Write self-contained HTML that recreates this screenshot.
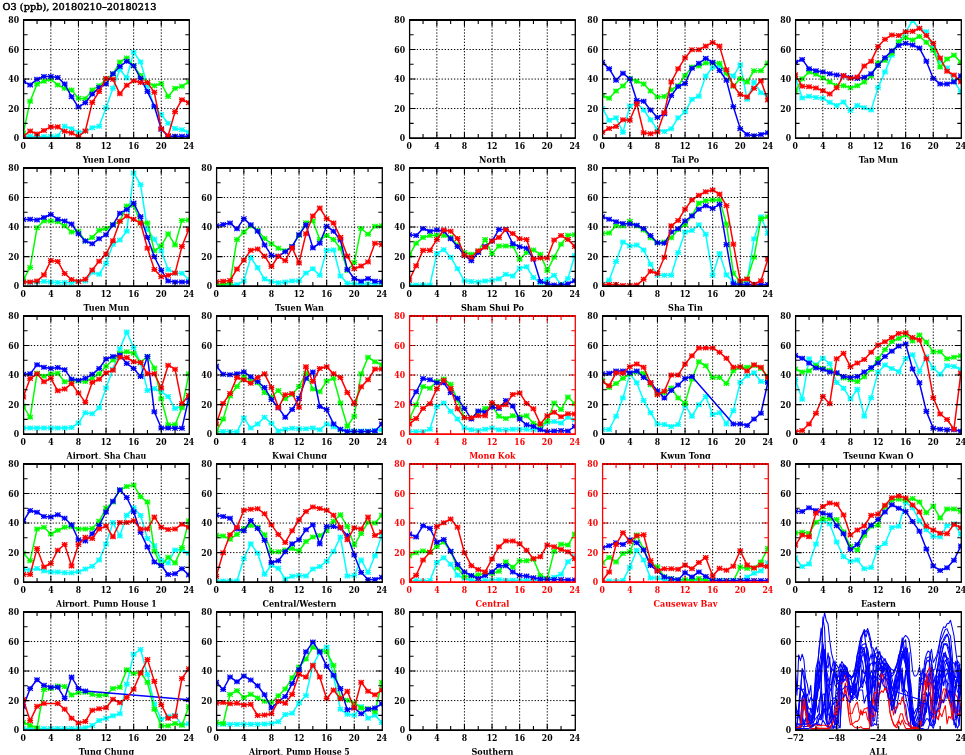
<!DOCTYPE html><html><head><meta charset="utf-8"><style>html,body{margin:0;padding:0;background:#fff;width:965px;height:755px;overflow:hidden}svg{display:block}text{font-family:"DejaVu Serif","Liberation Serif",serif;font-stretch:condensed;font-weight:bold}.t{font-size:8.6px}.n{font-size:9px}.ti{font-size:10px}</style></head><body>
<svg width="965" height="755" viewBox="0 0 965 755">
<text class="ti" x="2.6" y="10.4" textLength="153.8" lengthAdjust="spacingAndGlyphs" style="font-weight:normal" stroke="#000" stroke-width="0.45">O3 (ppb), 20180210&#8211;20180213</text>
<clipPath id="c00"><rect x="23.6" y="20" width="165.7" height="118.1"/></clipPath><clipPath id="l00"><rect x="3.6" y="150.1" width="205.7" height="12.7"/></clipPath><g clip-path="url(#c00)" fill="none"><path d="M23.25 136.33L30.15 136.33L37.05 136.62L43.95 136.62L50.85 136.62L57.75 135.89L64.65 126.29L71.55 128.65L78.45 132.19L85.35 131.31L92.25 127.77L99.15 126.29L106.05 107.69L112.95 88.35L119.85 69.6L126.75 78.02L133.65 52.18L140.55 61.93L147.45 85.69L154.35 107.1L161.25 114.48L168.15 123.34L175.05 128.5L181.95 129.69L188.85 132.19" stroke="#00ffff" stroke-width="1.5" stroke-linejoin="round"/><path d="M20.55 134.03L25.95 138.63M20.55 138.63L25.95 134.03M23.25 133.83V138.83M20.35 136.33H26.15M27.45 134.03L32.85 138.63M27.45 138.63L32.85 134.03M30.15 133.83V138.83M27.25 136.33H33.05M34.35 134.32L39.75 138.92M34.35 138.92L39.75 134.32M37.05 134.12V139.12M34.15 136.62H39.95M41.25 134.32L46.65 138.92M41.25 138.92L46.65 134.32M43.95 134.12V139.12M41.05 136.62H46.85M48.15 134.32L53.55 138.92M48.15 138.92L53.55 134.32M50.85 134.12V139.12M47.95 136.62H53.75M55.05 133.59L60.45 138.19M55.05 138.19L60.45 133.59M57.75 133.39V138.39M54.85 135.89H60.65M61.95 123.99L67.35 128.59M61.95 128.59L67.35 123.99M64.65 123.79V128.79M61.75 126.29H67.55M68.85 126.35L74.25 130.95M68.85 130.95L74.25 126.35M71.55 126.15V131.15M68.65 128.65H74.45M75.75 129.89L81.15 134.5M75.75 134.5L81.15 129.89M78.45 129.69V134.69M75.55 132.19H81.35M82.65 129.01L88.05 133.61M82.65 133.61L88.05 129.01M85.35 128.81V133.81M82.45 131.31H88.25M89.55 125.47L94.95 130.07M89.55 130.07L94.95 125.47M92.25 125.27V130.27M89.35 127.77H95.15M96.45 123.99L101.85 128.59M96.45 128.59L101.85 123.99M99.15 123.79V128.79M96.25 126.29H102.05M103.35 105.39L108.75 109.99M103.35 109.99L108.75 105.39M106.05 105.19V110.19M103.15 107.69H108.95M110.25 86.05L115.65 90.65M110.25 90.65L115.65 86.05M112.95 85.85V90.85M110.05 88.35H115.85M117.15 67.3L122.55 71.9M117.15 71.9L122.55 67.3M119.85 67.1V72.1M116.95 69.6H122.75M124.05 75.72L129.45 80.32M124.05 80.32L129.45 75.72M126.75 75.52V80.52M123.85 78.02H129.65M130.95 49.88L136.35 54.48M130.95 54.48L136.35 49.88M133.65 49.68V54.68M130.75 52.18H136.55M137.85 59.63L143.25 64.23M137.85 64.23L143.25 59.63M140.55 59.43V64.43M137.65 61.93H143.45M144.75 83.39L150.15 87.99M144.75 87.99L150.15 83.39M147.45 83.19V88.19M144.55 85.69H150.35M151.65 104.8L157.05 109.4M151.65 109.4L157.05 104.8M154.35 104.6V109.6M151.45 107.1H157.25M158.55 112.18L163.95 116.78M158.55 116.78L163.95 112.18M161.25 111.98V116.98M158.35 114.48H164.15M165.45 121.04L170.85 125.64M165.45 125.64L170.85 121.04M168.15 120.84V125.84M165.25 123.34H171.05M172.35 126.2L177.75 130.8M172.35 130.8L177.75 126.2M175.05 126V131M172.15 128.5H177.95M179.25 127.39L184.65 131.99M179.25 131.99L184.65 127.39M181.95 127.19V132.19M179.05 129.69H184.85M186.15 129.89L191.55 134.5M186.15 134.5L191.55 129.89M188.85 129.69V134.69M185.95 132.19H191.75" stroke="#00ffff" stroke-width="1.2"/><path d="M23.25 133.08L30.15 101.19L37.05 83.92L43.95 81.26L50.85 79.35L57.75 84.95L64.65 88.35L71.55 90.12L78.45 98.24L85.35 98.68L92.25 90.12L99.15 85.69L106.05 79.35L112.95 74.03L119.85 61.93L126.75 57.94L133.65 65.76L140.55 75.51L147.45 82.59L154.35 85.69L161.25 83.48L168.15 96.47L175.05 88.35L181.95 86.14L188.85 82" stroke="#00ff00" stroke-width="1.5" stroke-linejoin="round"/><path d="M20.55 130.78L25.95 135.38M20.55 135.38L25.95 130.78M23.25 130.58V135.58M20.35 133.08H26.15M27.45 98.89L32.85 103.49M27.45 103.49L32.85 98.89M30.15 98.69V103.69M27.25 101.19H33.05M34.35 81.62L39.75 86.22M34.35 86.22L39.75 81.62M37.05 81.42V86.42M34.15 83.92H39.95M41.25 78.96L46.65 83.56M41.25 83.56L46.65 78.96M43.95 78.76V83.76M41.05 81.26H46.85M48.15 77.05L53.55 81.65M48.15 81.65L53.55 77.05M50.85 76.85V81.85M47.95 79.35H53.75M55.05 82.66L60.45 87.25M55.05 87.25L60.45 82.66M57.75 82.45V87.45M54.85 84.95H60.65M61.95 86.05L67.35 90.65M61.95 90.65L67.35 86.05M64.65 85.85V90.85M61.75 88.35H67.55M68.85 87.82L74.25 92.42M68.85 92.42L74.25 87.82M71.55 87.62V92.62M68.65 90.12H74.45M75.75 95.94L81.15 100.54M75.75 100.54L81.15 95.94M78.45 95.74V100.74M75.55 98.24H81.35M82.65 96.38L88.05 100.98M82.65 100.98L88.05 96.38M85.35 96.18V101.18M82.45 98.68H88.25M89.55 87.82L94.95 92.42M89.55 92.42L94.95 87.82M92.25 87.62V92.62M89.35 90.12H95.15M96.45 83.39L101.85 87.99M96.45 87.99L101.85 83.39M99.15 83.19V88.19M96.25 85.69H102.05M103.35 77.05L108.75 81.65M103.35 81.65L108.75 77.05M106.05 76.85V81.85M103.15 79.35H108.95M110.25 71.73L115.65 76.33M110.25 76.33L115.65 71.73M112.95 71.53V76.53M110.05 74.03H115.85M117.15 59.63L122.55 64.23M117.15 64.23L122.55 59.63M119.85 59.43V64.43M116.95 61.93H122.75M124.05 55.64L129.45 60.24M124.05 60.24L129.45 55.64M126.75 55.44V60.44M123.85 57.94H129.65M130.95 63.46L136.35 68.06M130.95 68.06L136.35 63.46M133.65 63.26V68.26M130.75 65.76H136.55M137.85 73.21L143.25 77.81M137.85 77.81L143.25 73.21M140.55 73.01V78.01M137.65 75.51H143.45M144.75 80.29L150.15 84.89M144.75 84.89L150.15 80.29M147.45 80.09V85.09M144.55 82.59H150.35M151.65 83.39L157.05 87.99M151.65 87.99L157.05 83.39M154.35 83.19V88.19M151.45 85.69H157.25M158.55 81.18L163.95 85.78M158.55 85.78L163.95 81.18M161.25 80.98V85.98M158.35 83.48H164.15M165.45 94.17L170.85 98.77M165.45 98.77L170.85 94.17M168.15 93.97V98.97M165.25 96.47H171.05M172.35 86.05L177.75 90.65M172.35 90.65L177.75 86.05M175.05 85.85V90.85M172.15 88.35H177.95M179.25 83.84L184.65 88.44M179.25 88.44L184.65 83.84M181.95 83.64V88.64M179.05 86.14H184.85M186.15 79.7L191.55 84.3M186.15 84.3L191.55 79.7M188.85 79.5V84.5M185.95 82H191.75" stroke="#00ff00" stroke-width="1.2"/><path d="M23.25 81.56L30.15 84.95L37.05 79.35L43.95 76.39L50.85 76.39L57.75 77.57L64.65 83.92L71.55 96.77L78.45 107.1L85.35 102.67L92.25 94.11L99.15 87.46L106.05 83.92L112.95 73.74L119.85 66.5L126.75 61.33L133.65 65.76L140.55 78.46L147.45 91.6L154.35 106.21L161.25 129.24L168.15 136.33L175.05 136.33L181.95 136.33L188.85 136.33" stroke="#0000ff" stroke-width="1.5" stroke-linejoin="round"/><path d="M20.55 79.26L25.95 83.86M20.55 83.86L25.95 79.26M23.25 79.06V84.06M20.35 81.56H26.15M27.45 82.66L32.85 87.25M27.45 87.25L32.85 82.66M30.15 82.45V87.45M27.25 84.95H33.05M34.35 77.05L39.75 81.65M34.35 81.65L39.75 77.05M37.05 76.85V81.85M34.15 79.35H39.95M41.25 74.09L46.65 78.69M41.25 78.69L46.65 74.09M43.95 73.89V78.89M41.05 76.39H46.85M48.15 74.09L53.55 78.69M48.15 78.69L53.55 74.09M50.85 73.89V78.89M47.95 76.39H53.75M55.05 75.27L60.45 79.87M55.05 79.87L60.45 75.27M57.75 75.07V80.07M54.85 77.57H60.65M61.95 81.62L67.35 86.22M61.95 86.22L67.35 81.62M64.65 81.42V86.42M61.75 83.92H67.55M68.85 94.47L74.25 99.06M68.85 99.06L74.25 94.47M71.55 94.27V99.27M68.65 96.77H74.45M75.75 104.8L81.15 109.4M75.75 109.4L81.15 104.8M78.45 104.6V109.6M75.55 107.1H81.35M82.65 100.37L88.05 104.97M82.65 104.97L88.05 100.37M85.35 100.17V105.17M82.45 102.67H88.25M89.55 91.81L94.95 96.41M89.55 96.41L94.95 91.81M92.25 91.61V96.61M89.35 94.11H95.15M96.45 85.16L101.85 89.76M96.45 89.76L101.85 85.16M99.15 84.96V89.96M96.25 87.46H102.05M103.35 81.62L108.75 86.22M103.35 86.22L108.75 81.62M106.05 81.42V86.42M103.15 83.92H108.95M110.25 71.44L115.65 76.04M110.25 76.04L115.65 71.44M112.95 71.24V76.24M110.05 73.74H115.85M117.15 64.2L122.55 68.8M117.15 68.8L122.55 64.2M119.85 64V69M116.95 66.5H122.75M124.05 59.03L129.45 63.63M124.05 63.63L129.45 59.03M126.75 58.83V63.83M123.85 61.33H129.65M130.95 63.46L136.35 68.06M130.95 68.06L136.35 63.46M133.65 63.26V68.26M130.75 65.76H136.55M137.85 76.16L143.25 80.76M137.85 80.76L143.25 76.16M140.55 75.96V80.96M137.65 78.46H143.45M144.75 89.3L150.15 93.9M144.75 93.9L150.15 89.3M147.45 89.1V94.1M144.55 91.6H150.35M151.65 103.91L157.05 108.51M151.65 108.51L157.05 103.91M154.35 103.71V108.71M151.45 106.21H157.25M158.55 126.94L163.95 131.54M158.55 131.54L163.95 126.94M161.25 126.74V131.74M158.35 129.24H164.15M165.45 134.03L170.85 138.63M165.45 138.63L170.85 134.03M168.15 133.83V138.83M165.25 136.33H171.05M172.35 134.03L177.75 138.63M172.35 138.63L177.75 134.03M175.05 133.83V138.83M172.15 136.33H177.95M179.25 134.03L184.65 138.63M179.25 138.63L184.65 134.03M181.95 133.83V138.83M179.05 136.33H184.85M186.15 134.03L191.55 138.63M186.15 138.63L191.55 134.03M188.85 133.83V138.83M185.95 136.33H191.75" stroke="#0000ff" stroke-width="1.2"/><path d="M23.25 136.33L30.15 131.01L37.05 133.97L43.95 130.42L50.85 126.88L57.75 126.88L64.65 131.31L71.55 133.08L78.45 136.33L85.35 131.01L92.25 102.37L99.15 91.6L106.05 78.46L112.95 79.35L119.85 93.81L126.75 85.25L133.65 80.82L140.55 82.59L147.45 82.59L154.35 92.34L161.25 128.65L168.15 135.74L175.05 111.68L181.95 99.72L188.85 102.67" stroke="#ff0000" stroke-width="1.5" stroke-linejoin="round"/><path d="M20.55 134.03L25.95 138.63M20.55 138.63L25.95 134.03M23.25 133.83V138.83M20.35 136.33H26.15M27.45 128.71L32.85 133.31M27.45 133.31L32.85 128.71M30.15 128.51V133.51M27.25 131.01H33.05M34.35 131.67L39.75 136.27M34.35 136.27L39.75 131.67M37.05 131.47V136.47M34.15 133.97H39.95M41.25 128.12L46.65 132.72M41.25 132.72L46.65 128.12M43.95 127.92V132.92M41.05 130.42H46.85M48.15 124.58L53.55 129.18M48.15 129.18L53.55 124.58M50.85 124.38V129.38M47.95 126.88H53.75M55.05 124.58L60.45 129.18M55.05 129.18L60.45 124.58M57.75 124.38V129.38M54.85 126.88H60.65M61.95 129.01L67.35 133.61M61.95 133.61L67.35 129.01M64.65 128.81V133.81M61.75 131.31H67.55M68.85 130.78L74.25 135.38M68.85 135.38L74.25 130.78M71.55 130.58V135.58M68.65 133.08H74.45M75.75 134.03L81.15 138.63M75.75 138.63L81.15 134.03M78.45 133.83V138.83M75.55 136.33H81.35M82.65 128.71L88.05 133.31M82.65 133.31L88.05 128.71M85.35 128.51V133.51M82.45 131.01H88.25M89.55 100.07L94.95 104.67M89.55 104.67L94.95 100.07M92.25 99.87V104.87M89.35 102.37H95.15M96.45 89.3L101.85 93.9M96.45 93.9L101.85 89.3M99.15 89.1V94.1M96.25 91.6H102.05M103.35 76.16L108.75 80.76M103.35 80.76L108.75 76.16M106.05 75.96V80.96M103.15 78.46H108.95M110.25 77.05L115.65 81.65M110.25 81.65L115.65 77.05M112.95 76.85V81.85M110.05 79.35H115.85M117.15 91.51L122.55 96.11M117.15 96.11L122.55 91.51M119.85 91.31V96.31M116.95 93.81H122.75M124.05 82.95L129.45 87.55M124.05 87.55L129.45 82.95M126.75 82.75V87.75M123.85 85.25H129.65M130.95 78.52L136.35 83.12M130.95 83.12L136.35 78.52M133.65 78.32V83.32M130.75 80.82H136.55M137.85 80.29L143.25 84.89M137.85 84.89L143.25 80.29M140.55 80.09V85.09M137.65 82.59H143.45M144.75 80.29L150.15 84.89M144.75 84.89L150.15 80.29M147.45 80.09V85.09M144.55 82.59H150.35M151.65 90.04L157.05 94.64M151.65 94.64L157.05 90.04M154.35 89.84V94.84M151.45 92.34H157.25M158.55 126.35L163.95 130.95M158.55 130.95L163.95 126.35M161.25 126.15V131.15M158.35 128.65H164.15M165.45 133.44L170.85 138.04M165.45 138.04L170.85 133.44M168.15 133.24V138.24M165.25 135.74H171.05M172.35 109.38L177.75 113.98M172.35 113.98L177.75 109.38M175.05 109.18V114.18M172.15 111.68H177.95M179.25 97.42L184.65 102.02M179.25 102.02L184.65 97.42M181.95 97.22V102.22M179.05 99.72H184.85M186.15 100.37L191.55 104.97M186.15 104.97L191.55 100.37M188.85 100.17V105.17M185.95 102.67H191.75" stroke="#ff0000" stroke-width="1.2"/></g><path d="M23 20H189.9M23 138.1H189.9" stroke="#000" stroke-width="1.8" fill="none"/><path d="M23.6 20V138.1M189.3 20V138.1" stroke="#000" stroke-width="1.3" fill="none"/><path d="M50.85 20v6M50.85 138.1v-6M78.45 20v6M78.45 138.1v-6M106.05 20v6M106.05 138.1v-6M133.65 20v6M133.65 138.1v-6M161.25 20v6M161.25 138.1v-6M37.05 20v4M37.05 138.1v-4M64.65 20v4M64.65 138.1v-4M92.25 20v4M92.25 138.1v-4M119.85 20v4M119.85 138.1v-4M147.45 20v4M147.45 138.1v-4M175.05 20v4M175.05 138.1v-4M23.6 108.57h6M189.3 108.57h-6M23.6 79.05h6M189.3 79.05h-6M23.6 49.53h6M189.3 49.53h-6M23.6 123.34h4M189.3 123.34h-4M23.6 93.81h4M189.3 93.81h-4M23.6 64.29h4M189.3 64.29h-4M23.6 34.76h4M189.3 34.76h-4" stroke="#000" stroke-width="1.1" fill="none"/><path d="M50.85 20V137.1M78.45 20V137.1M106.05 20V137.1M133.65 20V137.1M161.25 20V137.1M24.6 20H188.3M24.6 108.57H188.3M24.6 79.05H188.3M24.6 49.53H188.3" stroke="#000" stroke-width="1" stroke-dasharray="1.3 1.8" fill="none"/><g class="t" fill="#000"><text x="23.25" y="148.8" text-anchor="middle">0</text><text x="50.85" y="148.8" text-anchor="middle">4</text><text x="78.45" y="148.8" text-anchor="middle">8</text><text x="106.05" y="148.8" text-anchor="middle">12</text><text x="133.65" y="148.8" text-anchor="middle">16</text><text x="161.25" y="148.8" text-anchor="middle">20</text><text x="188.85" y="148.8" text-anchor="middle">24</text><text x="19.1" y="141.4" text-anchor="end">0</text><text x="19.1" y="111.87" text-anchor="end">20</text><text x="19.1" y="82.35" text-anchor="end">40</text><text x="19.1" y="52.83" text-anchor="end">60</text><text x="19.1" y="23.3" text-anchor="end">80</text></g><text class="n" x="106.45" y="162.8" text-anchor="middle" fill="#000" clip-path="url(#l00)">Yuen Long</text>
<clipPath id="c02"><rect x="409.6" y="20" width="165.7" height="118.1"/></clipPath><clipPath id="l02"><rect x="389.6" y="150.1" width="205.7" height="12.7"/></clipPath><path d="M409 20H575.9M409 138.1H575.9" stroke="#000" stroke-width="1.8" fill="none"/><path d="M409.6 20V138.1M575.3 20V138.1" stroke="#000" stroke-width="1.3" fill="none"/><path d="M436.85 20v6M436.85 138.1v-6M464.45 20v6M464.45 138.1v-6M492.05 20v6M492.05 138.1v-6M519.65 20v6M519.65 138.1v-6M547.25 20v6M547.25 138.1v-6M423.05 20v4M423.05 138.1v-4M450.65 20v4M450.65 138.1v-4M478.25 20v4M478.25 138.1v-4M505.85 20v4M505.85 138.1v-4M533.45 20v4M533.45 138.1v-4M561.05 20v4M561.05 138.1v-4M409.6 108.57h6M575.3 108.57h-6M409.6 79.05h6M575.3 79.05h-6M409.6 49.53h6M575.3 49.53h-6M409.6 123.34h4M575.3 123.34h-4M409.6 93.81h4M575.3 93.81h-4M409.6 64.29h4M575.3 64.29h-4M409.6 34.76h4M575.3 34.76h-4" stroke="#000" stroke-width="1.1" fill="none"/><path d="M436.85 20V137.1M464.45 20V137.1M492.05 20V137.1M519.65 20V137.1M547.25 20V137.1M410.6 20H574.3M410.6 108.57H574.3M410.6 79.05H574.3M410.6 49.53H574.3" stroke="#000" stroke-width="1" stroke-dasharray="1.3 1.8" fill="none"/><g class="t" fill="#000"><text x="409.25" y="148.8" text-anchor="middle">0</text><text x="436.85" y="148.8" text-anchor="middle">4</text><text x="464.45" y="148.8" text-anchor="middle">8</text><text x="492.05" y="148.8" text-anchor="middle">12</text><text x="519.65" y="148.8" text-anchor="middle">16</text><text x="547.25" y="148.8" text-anchor="middle">20</text><text x="574.85" y="148.8" text-anchor="middle">24</text><text x="405.1" y="141.4" text-anchor="end">0</text><text x="405.1" y="111.87" text-anchor="end">20</text><text x="405.1" y="82.35" text-anchor="end">40</text><text x="405.1" y="52.83" text-anchor="end">60</text><text x="405.1" y="23.3" text-anchor="end">80</text></g><text class="n" x="492.45" y="162.8" text-anchor="middle" fill="#000" clip-path="url(#l02)">North</text>
<clipPath id="c03"><rect x="602.6" y="20" width="165.7" height="118.1"/></clipPath><clipPath id="l03"><rect x="582.6" y="150.1" width="205.7" height="12.7"/></clipPath><g clip-path="url(#c03)" fill="none"><path d="M602.25 108.43L609.15 120.24L616.05 117.73L622.95 132.34L629.85 105.92L636.75 102.82L643.65 110.05L650.55 119.79L657.45 129.69L664.35 131.46L671.25 128.65L678.15 117.73L685.05 111.82L691.95 99.27L698.85 96.17L705.75 76.1L712.65 67.24L719.55 66.06L726.45 72.26L733.35 76.1L740.25 64.88L747.15 99.13L754.05 82.15L760.95 92.78L767.85 96.47" stroke="#00ffff" stroke-width="1.5" stroke-linejoin="round"/><path d="M599.55 106.13L604.95 110.73M599.55 110.73L604.95 106.13M602.25 105.93V110.93M599.35 108.43H605.15M606.45 117.94L611.85 122.54M606.45 122.54L611.85 117.94M609.15 117.74V122.74M606.25 120.24H612.05M613.35 115.43L618.75 120.03M613.35 120.03L618.75 115.43M616.05 115.23V120.23M613.15 117.73H618.95M620.25 130.04L625.65 134.64M620.25 134.64L625.65 130.04M622.95 129.84V134.84M620.05 132.34H625.85M627.15 103.62L632.55 108.22M627.15 108.22L632.55 103.62M629.85 103.42V108.42M626.95 105.92H632.75M634.05 100.52L639.45 105.12M634.05 105.12L639.45 100.52M636.75 100.32V105.32M633.85 102.82H639.65M640.95 107.75L646.35 112.35M640.95 112.35L646.35 107.75M643.65 107.55V112.55M640.75 110.05H646.55M647.85 117.49L653.25 122.09M647.85 122.09L653.25 117.49M650.55 117.29V122.29M647.65 119.79H653.45M654.75 127.39L660.15 131.99M654.75 131.99L660.15 127.39M657.45 127.19V132.19M654.55 129.69H660.35M661.65 129.16L667.05 133.76M661.65 133.76L667.05 129.16M664.35 128.96V133.96M661.45 131.46H667.25M668.55 126.35L673.95 130.95M668.55 130.95L673.95 126.35M671.25 126.15V131.15M668.35 128.65H674.15M675.45 115.43L680.85 120.03M675.45 120.03L680.85 115.43M678.15 115.23V120.23M675.25 117.73H681.05M682.35 109.52L687.75 114.12M682.35 114.12L687.75 109.52M685.05 109.32V114.32M682.15 111.82H687.95M689.25 96.97L694.65 101.57M689.25 101.57L694.65 96.97M691.95 96.77V101.77M689.05 99.27H694.85M696.15 93.87L701.55 98.47M696.15 98.47L701.55 93.87M698.85 93.67V98.67M695.95 96.17H701.75M703.05 73.8L708.45 78.4M703.05 78.4L708.45 73.8M705.75 73.6V78.6M702.85 76.1H708.65M709.95 64.94L715.35 69.54M709.95 69.54L715.35 64.94M712.65 64.74V69.74M709.75 67.24H715.55M716.85 63.76L722.25 68.36M716.85 68.36L722.25 63.76M719.55 63.56V68.56M716.65 66.06H722.45M723.75 69.96L729.15 74.56M723.75 74.56L729.15 69.96M726.45 69.76V74.76M723.55 72.26H729.35M730.65 73.8L736.05 78.4M730.65 78.4L736.05 73.8M733.35 73.6V78.6M730.45 76.1H736.25M737.55 62.58L742.95 67.18M737.55 67.18L742.95 62.58M740.25 62.38V67.38M737.35 64.88H743.15M744.45 96.83L749.85 101.43M744.45 101.43L749.85 96.83M747.15 96.63V101.63M744.25 99.13H750.05M751.35 79.85L756.75 84.45M751.35 84.45L756.75 79.85M754.05 79.65V84.65M751.15 82.15H756.95M758.25 90.48L763.65 95.08M758.25 95.08L763.65 90.48M760.95 90.28V95.28M758.05 92.78H763.85M765.15 94.17L770.55 98.77M765.15 98.77L770.55 94.17M767.85 93.97V98.97M764.95 96.47H770.75" stroke="#00ffff" stroke-width="1.2"/><path d="M602.25 95.73L609.15 98.24L616.05 91.01L622.95 85.99L629.85 78.46L636.75 81.26L643.65 83.92L650.55 91.01L657.45 96.91L664.35 96.47L671.25 89.83L678.15 85.69L685.05 75.8L691.95 66.94L698.85 66.06L705.75 62.96L712.65 62.96L719.55 63.25L726.45 73.29L733.35 86.14L740.25 78.75L747.15 82L754.05 70.64L760.95 70.64L767.85 62.96" stroke="#00ff00" stroke-width="1.5" stroke-linejoin="round"/><path d="M599.55 93.43L604.95 98.03M599.55 98.03L604.95 93.43M602.25 93.23V98.23M599.35 95.73H605.15M606.45 95.94L611.85 100.54M606.45 100.54L611.85 95.94M609.15 95.74V100.74M606.25 98.24H612.05M613.35 88.71L618.75 93.31M613.35 93.31L618.75 88.71M616.05 88.51V93.51M613.15 91.01H618.95M620.25 83.69L625.65 88.29M620.25 88.29L625.65 83.69M622.95 83.49V88.49M620.05 85.99H625.85M627.15 76.16L632.55 80.76M627.15 80.76L632.55 76.16M629.85 75.96V80.96M626.95 78.46H632.75M634.05 78.96L639.45 83.56M634.05 83.56L639.45 78.96M636.75 78.76V83.76M633.85 81.26H639.65M640.95 81.62L646.35 86.22M640.95 86.22L646.35 81.62M643.65 81.42V86.42M640.75 83.92H646.55M647.85 88.71L653.25 93.31M647.85 93.31L653.25 88.71M650.55 88.51V93.51M647.65 91.01H653.45M654.75 94.61L660.15 99.21M654.75 99.21L660.15 94.61M657.45 94.41V99.41M654.55 96.91H660.35M661.65 94.17L667.05 98.77M661.65 98.77L667.05 94.17M664.35 93.97V98.97M661.45 96.47H667.25M668.55 87.53L673.95 92.13M668.55 92.13L673.95 87.53M671.25 87.33V92.33M668.35 89.83H674.15M675.45 83.39L680.85 87.99M675.45 87.99L680.85 83.39M678.15 83.19V88.19M675.25 85.69H681.05M682.35 73.5L687.75 78.1M682.35 78.1L687.75 73.5M685.05 73.3V78.3M682.15 75.8H687.95M689.25 64.64L694.65 69.24M689.25 69.24L694.65 64.64M691.95 64.44V69.44M689.05 66.94H694.85M696.15 63.76L701.55 68.36M696.15 68.36L701.55 63.76M698.85 63.56V68.56M695.95 66.06H701.75M703.05 60.66L708.45 65.26M703.05 65.26L708.45 60.66M705.75 60.46V65.46M702.85 62.96H708.65M709.95 60.66L715.35 65.26M709.95 65.26L715.35 60.66M712.65 60.46V65.46M709.75 62.96H715.55M716.85 60.95L722.25 65.55M716.85 65.55L722.25 60.95M719.55 60.75V65.75M716.65 63.25H722.45M723.75 70.99L729.15 75.59M723.75 75.59L729.15 70.99M726.45 70.79V75.79M723.55 73.29H729.35M730.65 83.84L736.05 88.44M730.65 88.44L736.05 83.84M733.35 83.64V88.64M730.45 86.14H736.25M737.55 76.45L742.95 81.05M737.55 81.05L742.95 76.45M740.25 76.25V81.25M737.35 78.75H743.15M744.45 79.7L749.85 84.3M744.45 84.3L749.85 79.7M747.15 79.5V84.5M744.25 82H750.05M751.35 68.34L756.75 72.94M751.35 72.94L756.75 68.34M754.05 68.14V73.14M751.15 70.64H756.95M758.25 68.34L763.65 72.94M758.25 72.94L763.65 68.34M760.95 68.14V73.14M758.05 70.64H763.85M765.15 60.66L770.55 65.26M765.15 65.26L770.55 60.66M767.85 60.46V65.46M764.95 62.96H770.75" stroke="#00ff00" stroke-width="1.2"/><path d="M602.25 62.37L609.15 68.72L616.05 80.23L622.95 73.14L629.85 79.05L636.75 100.46L643.65 101.19L650.55 110.05L657.45 117.43L664.35 113.74L671.25 95.58L678.15 86.43L685.05 83.48L691.95 68.27L698.85 63.25L705.75 58.38L712.65 62.37L719.55 70.49L726.45 80.23L733.35 106.66L740.25 128.65L747.15 134.56L754.05 135.74L760.95 134.56L767.85 132.79" stroke="#0000ff" stroke-width="1.5" stroke-linejoin="round"/><path d="M599.55 60.07L604.95 64.67M599.55 64.67L604.95 60.07M602.25 59.87V64.87M599.35 62.37H605.15M606.45 66.42L611.85 71.02M606.45 71.02L611.85 66.42M609.15 66.22V71.22M606.25 68.72H612.05M613.35 77.93L618.75 82.53M613.35 82.53L618.75 77.93M616.05 77.73V82.73M613.15 80.23H618.95M620.25 70.84L625.65 75.44M620.25 75.44L625.65 70.84M622.95 70.64V75.64M620.05 73.14H625.85M627.15 76.75L632.55 81.35M627.15 81.35L632.55 76.75M629.85 76.55V81.55M626.95 79.05H632.75M634.05 98.16L639.45 102.76M634.05 102.76L639.45 98.16M636.75 97.96V102.96M633.85 100.46H639.65M640.95 98.89L646.35 103.49M640.95 103.49L646.35 98.89M643.65 98.69V103.69M640.75 101.19H646.55M647.85 107.75L653.25 112.35M647.85 112.35L653.25 107.75M650.55 107.55V112.55M647.65 110.05H653.45M654.75 115.13L660.15 119.73M654.75 119.73L660.15 115.13M657.45 114.93V119.93M654.55 117.43H660.35M661.65 111.44L667.05 116.04M661.65 116.04L667.05 111.44M664.35 111.24V116.24M661.45 113.74H667.25M668.55 93.28L673.95 97.88M668.55 97.88L673.95 93.28M671.25 93.08V98.08M668.35 95.58H674.15M675.45 84.13L680.85 88.73M675.45 88.73L680.85 84.13M678.15 83.93V88.93M675.25 86.43H681.05M682.35 81.18L687.75 85.78M682.35 85.78L687.75 81.18M685.05 80.98V85.98M682.15 83.48H687.95M689.25 65.97L694.65 70.57M689.25 70.57L694.65 65.97M691.95 65.77V70.77M689.05 68.27H694.85M696.15 60.95L701.55 65.55M696.15 65.55L701.55 60.95M698.85 60.75V65.75M695.95 63.25H701.75M703.05 56.08L708.45 60.68M703.05 60.68L708.45 56.08M705.75 55.88V60.88M702.85 58.38H708.65M709.95 60.07L715.35 64.67M709.95 64.67L715.35 60.07M712.65 59.87V64.87M709.75 62.37H715.55M716.85 68.19L722.25 72.79M716.85 72.79L722.25 68.19M719.55 67.99V72.99M716.65 70.49H722.45M723.75 77.93L729.15 82.53M723.75 82.53L729.15 77.93M726.45 77.73V82.73M723.55 80.23H729.35M730.65 104.36L736.05 108.96M730.65 108.96L736.05 104.36M733.35 104.16V109.16M730.45 106.66H736.25M737.55 126.35L742.95 130.95M737.55 130.95L742.95 126.35M740.25 126.15V131.15M737.35 128.65H743.15M744.45 132.26L749.85 136.86M744.45 136.86L749.85 132.26M747.15 132.06V137.06M744.25 134.56H750.05M751.35 133.44L756.75 138.04M751.35 138.04L756.75 133.44M754.05 133.24V138.24M751.15 135.74H756.95M758.25 132.26L763.65 136.86M758.25 136.86L763.65 132.26M760.95 132.06V137.06M758.05 134.56H763.85M765.15 130.49L770.55 135.09M765.15 135.09L770.55 130.49M767.85 130.29V135.29M764.95 132.79H770.75" stroke="#0000ff" stroke-width="1.2"/><path d="M602.25 132.34L609.15 128.5L616.05 126.59L622.95 119.79L629.85 120.24L636.75 103.7L643.65 132.79L650.55 133.82L657.45 132.05L664.35 112.41L671.25 82L678.15 68.86L685.05 57.79L691.95 49.67L698.85 49.67L705.75 46.13L712.65 42.59L719.55 46.13L726.45 69.75L733.35 85.84L740.25 94.55L747.15 96.91L754.05 88.35L760.95 80.82L767.85 100.01" stroke="#ff0000" stroke-width="1.5" stroke-linejoin="round"/><path d="M599.55 130.04L604.95 134.64M599.55 134.64L604.95 130.04M602.25 129.84V134.84M599.35 132.34H605.15M606.45 126.2L611.85 130.8M606.45 130.8L611.85 126.2M609.15 126V131M606.25 128.5H612.05M613.35 124.29L618.75 128.89M613.35 128.89L618.75 124.29M616.05 124.09V129.09M613.15 126.59H618.95M620.25 117.49L625.65 122.09M620.25 122.09L625.65 117.49M622.95 117.29V122.29M620.05 119.79H625.85M627.15 117.94L632.55 122.54M627.15 122.54L632.55 117.94M629.85 117.74V122.74M626.95 120.24H632.75M634.05 101.4L639.45 106M634.05 106L639.45 101.4M636.75 101.2V106.2M633.85 103.7H639.65M640.95 130.49L646.35 135.09M640.95 135.09L646.35 130.49M643.65 130.29V135.29M640.75 132.79H646.55M647.85 131.52L653.25 136.12M647.85 136.12L653.25 131.52M650.55 131.32V136.32M647.65 133.82H653.45M654.75 129.75L660.15 134.35M654.75 134.35L660.15 129.75M657.45 129.55V134.55M654.55 132.05H660.35M661.65 110.11L667.05 114.71M661.65 114.71L667.05 110.11M664.35 109.91V114.91M661.45 112.41H667.25M668.55 79.7L673.95 84.3M668.55 84.3L673.95 79.7M671.25 79.5V84.5M668.35 82H674.15M675.45 66.56L680.85 71.16M675.45 71.16L680.85 66.56M678.15 66.36V71.36M675.25 68.86H681.05M682.35 55.49L687.75 60.09M682.35 60.09L687.75 55.49M685.05 55.29V60.29M682.15 57.79H687.95M689.25 47.37L694.65 51.97M689.25 51.97L694.65 47.37M691.95 47.17V52.17M689.05 49.67H694.85M696.15 47.37L701.55 51.97M696.15 51.97L701.55 47.37M698.85 47.17V52.17M695.95 49.67H701.75M703.05 43.83L708.45 48.43M703.05 48.43L708.45 43.83M705.75 43.63V48.63M702.85 46.13H708.65M709.95 40.29L715.35 44.89M709.95 44.89L715.35 40.29M712.65 40.09V45.09M709.75 42.59H715.55M716.85 43.83L722.25 48.43M716.85 48.43L722.25 43.83M719.55 43.63V48.63M716.65 46.13H722.45M723.75 67.45L729.15 72.05M723.75 72.05L729.15 67.45M726.45 67.25V72.25M723.55 69.75H729.35M730.65 83.54L736.05 88.14M730.65 88.14L736.05 83.54M733.35 83.34V88.34M730.45 85.84H736.25M737.55 92.25L742.95 96.85M737.55 96.85L742.95 92.25M740.25 92.05V97.05M737.35 94.55H743.15M744.45 94.61L749.85 99.21M744.45 99.21L749.85 94.61M747.15 94.41V99.41M744.25 96.91H750.05M751.35 86.05L756.75 90.65M751.35 90.65L756.75 86.05M754.05 85.85V90.85M751.15 88.35H756.95M758.25 78.52L763.65 83.12M758.25 83.12L763.65 78.52M760.95 78.32V83.32M758.05 80.82H763.85M765.15 97.71L770.55 102.31M765.15 102.31L770.55 97.71M767.85 97.51V102.51M764.95 100.01H770.75" stroke="#ff0000" stroke-width="1.2"/></g><path d="M602 20H768.9M602 138.1H768.9" stroke="#000" stroke-width="1.8" fill="none"/><path d="M602.6 20V138.1M768.3 20V138.1" stroke="#000" stroke-width="1.3" fill="none"/><path d="M629.85 20v6M629.85 138.1v-6M657.45 20v6M657.45 138.1v-6M685.05 20v6M685.05 138.1v-6M712.65 20v6M712.65 138.1v-6M740.25 20v6M740.25 138.1v-6M616.05 20v4M616.05 138.1v-4M643.65 20v4M643.65 138.1v-4M671.25 20v4M671.25 138.1v-4M698.85 20v4M698.85 138.1v-4M726.45 20v4M726.45 138.1v-4M754.05 20v4M754.05 138.1v-4M602.6 108.57h6M768.3 108.57h-6M602.6 79.05h6M768.3 79.05h-6M602.6 49.53h6M768.3 49.53h-6M602.6 123.34h4M768.3 123.34h-4M602.6 93.81h4M768.3 93.81h-4M602.6 64.29h4M768.3 64.29h-4M602.6 34.76h4M768.3 34.76h-4" stroke="#000" stroke-width="1.1" fill="none"/><path d="M629.85 20V137.1M657.45 20V137.1M685.05 20V137.1M712.65 20V137.1M740.25 20V137.1M603.6 20H767.3M603.6 108.57H767.3M603.6 79.05H767.3M603.6 49.53H767.3" stroke="#000" stroke-width="1" stroke-dasharray="1.3 1.8" fill="none"/><g class="t" fill="#000"><text x="602.25" y="148.8" text-anchor="middle">0</text><text x="629.85" y="148.8" text-anchor="middle">4</text><text x="657.45" y="148.8" text-anchor="middle">8</text><text x="685.05" y="148.8" text-anchor="middle">12</text><text x="712.65" y="148.8" text-anchor="middle">16</text><text x="740.25" y="148.8" text-anchor="middle">20</text><text x="767.85" y="148.8" text-anchor="middle">24</text><text x="598.1" y="141.4" text-anchor="end">0</text><text x="598.1" y="111.87" text-anchor="end">20</text><text x="598.1" y="82.35" text-anchor="end">40</text><text x="598.1" y="52.83" text-anchor="end">60</text><text x="598.1" y="23.3" text-anchor="end">80</text></g><text class="n" x="685.45" y="162.8" text-anchor="middle" fill="#000" clip-path="url(#l03)">Tai Po</text>
<clipPath id="c04"><rect x="795.6" y="20" width="165.7" height="118.1"/></clipPath><clipPath id="l04"><rect x="775.6" y="150.1" width="205.7" height="12.7"/></clipPath><g clip-path="url(#c04)" fill="none"><path d="M795.25 76.54L802.15 97.95L809.05 96.17L815.95 97.5L822.85 98.24L829.75 102.37L836.65 105.47L843.55 101.93L850.45 110.49L857.35 105.47L864.25 107.69L871.15 109.9L878.05 87.61L884.95 71.96L891.85 55.13L898.75 42L905.65 32.11L912.55 20.59L919.45 28.56L926.35 31.81L933.25 48.34L940.15 61.19L947.05 67.98L953.95 81.41L960.85 91.6" stroke="#00ffff" stroke-width="1.5" stroke-linejoin="round"/><path d="M792.55 74.24L797.95 78.84M792.55 78.84L797.95 74.24M795.25 74.04V79.04M792.35 76.54H798.15M799.45 95.65L804.85 100.25M799.45 100.25L804.85 95.65M802.15 95.45V100.45M799.25 97.95H805.05M806.35 93.87L811.75 98.47M806.35 98.47L811.75 93.87M809.05 93.67V98.67M806.15 96.17H811.95M813.25 95.2L818.65 99.8M813.25 99.8L818.65 95.2M815.95 95V100M813.05 97.5H818.85M820.15 95.94L825.55 100.54M820.15 100.54L825.55 95.94M822.85 95.74V100.74M819.95 98.24H825.75M827.05 100.07L832.45 104.67M827.05 104.67L832.45 100.07M829.75 99.87V104.87M826.85 102.37H832.65M833.95 103.17L839.35 107.77M833.95 107.77L839.35 103.17M836.65 102.97V107.97M833.75 105.47H839.55M840.85 99.63L846.25 104.23M840.85 104.23L846.25 99.63M843.55 99.43V104.43M840.65 101.93H846.45M847.75 108.19L853.15 112.79M847.75 112.79L853.15 108.19M850.45 107.99V112.99M847.55 110.49H853.35M854.65 103.17L860.05 107.77M854.65 107.77L860.05 103.17M857.35 102.97V107.97M854.45 105.47H860.25M861.55 105.39L866.95 109.99M861.55 109.99L866.95 105.39M864.25 105.19V110.19M861.35 107.69H867.15M868.45 107.6L873.85 112.2M868.45 112.2L873.85 107.6M871.15 107.4V112.4M868.25 109.9H874.05M875.35 85.31L880.75 89.91M875.35 89.91L880.75 85.31M878.05 85.11V90.11M875.15 87.61H880.95M882.25 69.66L887.65 74.26M882.25 74.26L887.65 69.66M884.95 69.46V74.46M882.05 71.96H887.85M889.15 52.83L894.55 57.43M889.15 57.43L894.55 52.83M891.85 52.63V57.63M888.95 55.13H894.75M896.05 39.7L901.45 44.3M896.05 44.3L901.45 39.7M898.75 39.5V44.5M895.85 42H901.65M902.95 29.81L908.35 34.41M902.95 34.41L908.35 29.81M905.65 29.61V34.61M902.75 32.11H908.55M909.85 18.29L915.25 22.89M909.85 22.89L915.25 18.29M912.55 18.09V23.09M909.65 20.59H915.45M916.75 26.26L922.15 30.86M916.75 30.86L922.15 26.26M919.45 26.06V31.06M916.55 28.56H922.35M923.65 29.51L929.05 34.11M923.65 34.11L929.05 29.51M926.35 29.31V34.31M923.45 31.81H929.25M930.55 46.04L935.95 50.64M930.55 50.64L935.95 46.04M933.25 45.84V50.84M930.35 48.34H936.15M937.45 58.89L942.85 63.49M937.45 63.49L942.85 58.89M940.15 58.69V63.69M937.25 61.19H943.05M944.35 65.68L949.75 70.28M944.35 70.28L949.75 65.68M947.05 65.48V70.48M944.15 67.98H949.95M951.25 79.11L956.65 83.71M951.25 83.71L956.65 79.11M953.95 78.91V83.91M951.05 81.41H956.85M958.15 89.3L963.55 93.9M958.15 93.9L963.55 89.3M960.85 89.1V94.1M957.95 91.6H963.75" stroke="#00ffff" stroke-width="1.2"/><path d="M795.25 91.6L802.15 78.75L809.05 71.96L815.95 74.18L822.85 77.87L829.75 82L836.65 85.55L843.55 85.84L850.45 87.76L857.35 85.84L864.25 82L871.15 76.1L878.05 62.66L884.95 60.45L891.85 53.22L898.75 41.85L905.65 37.57L912.55 40.08L919.45 36.53L926.35 42.14L933.25 50.12L940.15 67.09L947.05 58.97L953.95 55.13L960.85 62.37" stroke="#00ff00" stroke-width="1.5" stroke-linejoin="round"/><path d="M792.55 89.3L797.95 93.9M792.55 93.9L797.95 89.3M795.25 89.1V94.1M792.35 91.6H798.15M799.45 76.45L804.85 81.05M799.45 81.05L804.85 76.45M802.15 76.25V81.25M799.25 78.75H805.05M806.35 69.66L811.75 74.26M806.35 74.26L811.75 69.66M809.05 69.46V74.46M806.15 71.96H811.95M813.25 71.88L818.65 76.48M813.25 76.48L818.65 71.88M815.95 71.68V76.68M813.05 74.18H818.85M820.15 75.57L825.55 80.17M820.15 80.17L825.55 75.57M822.85 75.37V80.37M819.95 77.87H825.75M827.05 79.7L832.45 84.3M827.05 84.3L832.45 79.7M829.75 79.5V84.5M826.85 82H832.65M833.95 83.25L839.35 87.85M833.95 87.85L839.35 83.25M836.65 83.05V88.05M833.75 85.55H839.55M840.85 83.54L846.25 88.14M840.85 88.14L846.25 83.54M843.55 83.34V88.34M840.65 85.84H846.45M847.75 85.46L853.15 90.06M847.75 90.06L853.15 85.46M850.45 85.26V90.26M847.55 87.76H853.35M854.65 83.54L860.05 88.14M854.65 88.14L860.05 83.54M857.35 83.34V88.34M854.45 85.84H860.25M861.55 79.7L866.95 84.3M861.55 84.3L866.95 79.7M864.25 79.5V84.5M861.35 82H867.15M868.45 73.8L873.85 78.4M868.45 78.4L873.85 73.8M871.15 73.6V78.6M868.25 76.1H874.05M875.35 60.36L880.75 64.96M875.35 64.96L880.75 60.36M878.05 60.16V65.16M875.15 62.66H880.95M882.25 58.15L887.65 62.75M882.25 62.75L887.65 58.15M884.95 57.95V62.95M882.05 60.45H887.85M889.15 50.92L894.55 55.52M889.15 55.52L894.55 50.92M891.85 50.72V55.72M888.95 53.22H894.75M896.05 39.55L901.45 44.15M896.05 44.15L901.45 39.55M898.75 39.35V44.35M895.85 41.85H901.65M902.95 35.27L908.35 39.87M902.95 39.87L908.35 35.27M905.65 35.07V40.07M902.75 37.57H908.55M909.85 37.78L915.25 42.38M909.85 42.38L915.25 37.78M912.55 37.58V42.58M909.65 40.08H915.45M916.75 34.23L922.15 38.83M916.75 38.83L922.15 34.23M919.45 34.03V39.03M916.55 36.53H922.35M923.65 39.84L929.05 44.44M923.65 44.44L929.05 39.84M926.35 39.64V44.64M923.45 42.14H929.25M930.55 47.82L935.95 52.42M930.55 52.42L935.95 47.82M933.25 47.62V52.62M930.35 50.12H936.15M937.45 64.79L942.85 69.39M937.45 69.39L942.85 64.79M940.15 64.59V69.59M937.25 67.09H943.05M944.35 56.67L949.75 61.27M944.35 61.27L949.75 56.67M947.05 56.47V61.47M944.15 58.97H949.95M951.25 52.83L956.65 57.43M951.25 57.43L956.65 52.83M953.95 52.63V57.63M951.05 55.13H956.85M958.15 60.07L963.55 64.67M958.15 64.67L963.55 60.07M960.85 59.87V64.87M957.95 62.37H963.75" stroke="#00ff00" stroke-width="1.2"/><path d="M795.25 62.37L802.15 59.42L809.05 68.72L815.95 70.78L822.85 71.96L829.75 73.74L836.65 74.92L843.55 75.8L850.45 77.57L857.35 78.46L864.25 77.28L871.15 73.74L878.05 65.47L884.95 57.64L891.85 50.85L898.75 45.39L905.65 43.32L912.55 45.1L919.45 48.05L926.35 61.19L933.25 78.46L940.15 83.92L947.05 83.92L953.95 82L960.85 75.8" stroke="#0000ff" stroke-width="1.5" stroke-linejoin="round"/><path d="M792.55 60.07L797.95 64.67M792.55 64.67L797.95 60.07M795.25 59.87V64.87M792.35 62.37H798.15M799.45 57.12L804.85 61.72M799.45 61.72L804.85 57.12M802.15 56.92V61.92M799.25 59.42H805.05M806.35 66.42L811.75 71.02M806.35 71.02L811.75 66.42M809.05 66.22V71.22M806.15 68.72H811.95M813.25 68.48L818.65 73.08M813.25 73.08L818.65 68.48M815.95 68.28V73.28M813.05 70.78H818.85M820.15 69.66L825.55 74.26M820.15 74.26L825.55 69.66M822.85 69.46V74.46M819.95 71.96H825.75M827.05 71.44L832.45 76.04M827.05 76.04L832.45 71.44M829.75 71.24V76.24M826.85 73.74H832.65M833.95 72.62L839.35 77.22M833.95 77.22L839.35 72.62M836.65 72.42V77.42M833.75 74.92H839.55M840.85 73.5L846.25 78.1M840.85 78.1L846.25 73.5M843.55 73.3V78.3M840.65 75.8H846.45M847.75 75.27L853.15 79.87M847.75 79.87L853.15 75.27M850.45 75.07V80.07M847.55 77.57H853.35M854.65 76.16L860.05 80.76M854.65 80.76L860.05 76.16M857.35 75.96V80.96M854.45 78.46H860.25M861.55 74.98L866.95 79.58M861.55 79.58L866.95 74.98M864.25 74.78V79.78M861.35 77.28H867.15M868.45 71.44L873.85 76.04M868.45 76.04L873.85 71.44M871.15 71.24V76.24M868.25 73.74H874.05M875.35 63.17L880.75 67.77M875.35 67.77L880.75 63.17M878.05 62.97V67.97M875.15 65.47H880.95M882.25 55.34L887.65 59.94M882.25 59.94L887.65 55.34M884.95 55.14V60.14M882.05 57.64H887.85M889.15 48.55L894.55 53.15M889.15 53.15L894.55 48.55M891.85 48.35V53.35M888.95 50.85H894.75M896.05 43.09L901.45 47.69M896.05 47.69L901.45 43.09M898.75 42.89V47.89M895.85 45.39H901.65M902.95 41.02L908.35 45.62M902.95 45.62L908.35 41.02M905.65 40.82V45.82M902.75 43.32H908.55M909.85 42.8L915.25 47.4M909.85 47.4L915.25 42.8M912.55 42.6V47.6M909.65 45.1H915.45M916.75 45.75L922.15 50.35M916.75 50.35L922.15 45.75M919.45 45.55V50.55M916.55 48.05H922.35M923.65 58.89L929.05 63.49M923.65 63.49L929.05 58.89M926.35 58.69V63.69M923.45 61.19H929.25M930.55 76.16L935.95 80.76M930.55 80.76L935.95 76.16M933.25 75.96V80.96M930.35 78.46H936.15M937.45 81.62L942.85 86.22M937.45 86.22L942.85 81.62M940.15 81.42V86.42M937.25 83.92H943.05M944.35 81.62L949.75 86.22M944.35 86.22L949.75 81.62M947.05 81.42V86.42M944.15 83.92H949.95M951.25 79.7L956.65 84.3M951.25 84.3L956.65 79.7M953.95 79.5V84.5M951.05 82H956.85M958.15 73.5L963.55 78.1M958.15 78.1L963.55 73.5M960.85 73.3V78.3M957.95 75.8H963.75" stroke="#0000ff" stroke-width="1.2"/><path d="M795.25 74.77L802.15 86.14L809.05 86.73L815.95 87.91L822.85 90.86L829.75 93.96L836.65 87.76L843.55 75.51L850.45 78.31L857.35 76.98L864.25 65.91L871.15 61.19L878.05 46.57L884.95 39.34L891.85 34.91L898.75 35.5L905.65 31.81L912.55 31.37L919.45 28.27L926.35 35.5L933.25 43.32L940.15 58.09L947.05 71.23L953.95 75.06L960.85 81.85" stroke="#ff0000" stroke-width="1.5" stroke-linejoin="round"/><path d="M792.55 72.47L797.95 77.07M792.55 77.07L797.95 72.47M795.25 72.27V77.27M792.35 74.77H798.15M799.45 83.84L804.85 88.44M799.45 88.44L804.85 83.84M802.15 83.64V88.64M799.25 86.14H805.05M806.35 84.43L811.75 89.03M806.35 89.03L811.75 84.43M809.05 84.23V89.23M806.15 86.73H811.95M813.25 85.61L818.65 90.21M813.25 90.21L818.65 85.61M815.95 85.41V90.41M813.05 87.91H818.85M820.15 88.56L825.55 93.16M820.15 93.16L825.55 88.56M822.85 88.36V93.36M819.95 90.86H825.75M827.05 91.66L832.45 96.26M827.05 96.26L832.45 91.66M829.75 91.46V96.46M826.85 93.96H832.65M833.95 85.46L839.35 90.06M833.95 90.06L839.35 85.46M836.65 85.26V90.26M833.75 87.76H839.55M840.85 73.21L846.25 77.81M840.85 77.81L846.25 73.21M843.55 73.01V78.01M840.65 75.51H846.45M847.75 76.01L853.15 80.61M847.75 80.61L853.15 76.01M850.45 75.81V80.81M847.55 78.31H853.35M854.65 74.68L860.05 79.28M854.65 79.28L860.05 74.68M857.35 74.48V79.48M854.45 76.98H860.25M861.55 63.61L866.95 68.21M861.55 68.21L866.95 63.61M864.25 63.41V68.41M861.35 65.91H867.15M868.45 58.89L873.85 63.49M868.45 63.49L873.85 58.89M871.15 58.69V63.69M868.25 61.19H874.05M875.35 44.27L880.75 48.87M875.35 48.87L880.75 44.27M878.05 44.07V49.07M875.15 46.57H880.95M882.25 37.04L887.65 41.64M882.25 41.64L887.65 37.04M884.95 36.84V41.84M882.05 39.34H887.85M889.15 32.61L894.55 37.21M889.15 37.21L894.55 32.61M891.85 32.41V37.41M888.95 34.91H894.75M896.05 33.2L901.45 37.8M896.05 37.8L901.45 33.2M898.75 33V38M895.85 35.5H901.65M902.95 29.51L908.35 34.11M902.95 34.11L908.35 29.51M905.65 29.31V34.31M902.75 31.81H908.55M909.85 29.07L915.25 33.67M909.85 33.67L915.25 29.07M912.55 28.87V33.87M909.65 31.37H915.45M916.75 25.97L922.15 30.57M916.75 30.57L922.15 25.97M919.45 25.77V30.77M916.55 28.27H922.35M923.65 33.2L929.05 37.8M923.65 37.8L929.05 33.2M926.35 33V38M923.45 35.5H929.25M930.55 41.02L935.95 45.62M930.55 45.62L935.95 41.02M933.25 40.82V45.82M930.35 43.32H936.15M937.45 55.79L942.85 60.39M937.45 60.39L942.85 55.79M940.15 55.59V60.59M937.25 58.09H943.05M944.35 68.93L949.75 73.53M944.35 73.53L949.75 68.93M947.05 68.73V73.73M944.15 71.23H949.95M951.25 72.76L956.65 77.36M951.25 77.36L956.65 72.76M953.95 72.56V77.56M951.05 75.06H956.85M958.15 79.55L963.55 84.15M958.15 84.15L963.55 79.55M960.85 79.35V84.35M957.95 81.85H963.75" stroke="#ff0000" stroke-width="1.2"/></g><path d="M795 20H961.9M795 138.1H961.9" stroke="#000" stroke-width="1.8" fill="none"/><path d="M795.6 20V138.1M961.3 20V138.1" stroke="#000" stroke-width="1.3" fill="none"/><path d="M822.85 20v6M822.85 138.1v-6M850.45 20v6M850.45 138.1v-6M878.05 20v6M878.05 138.1v-6M905.65 20v6M905.65 138.1v-6M933.25 20v6M933.25 138.1v-6M809.05 20v4M809.05 138.1v-4M836.65 20v4M836.65 138.1v-4M864.25 20v4M864.25 138.1v-4M891.85 20v4M891.85 138.1v-4M919.45 20v4M919.45 138.1v-4M947.05 20v4M947.05 138.1v-4M795.6 108.57h6M961.3 108.57h-6M795.6 79.05h6M961.3 79.05h-6M795.6 49.53h6M961.3 49.53h-6M795.6 123.34h4M961.3 123.34h-4M795.6 93.81h4M961.3 93.81h-4M795.6 64.29h4M961.3 64.29h-4M795.6 34.76h4M961.3 34.76h-4" stroke="#000" stroke-width="1.1" fill="none"/><path d="M822.85 20V137.1M850.45 20V137.1M878.05 20V137.1M905.65 20V137.1M933.25 20V137.1M796.6 20H960.3M796.6 108.57H960.3M796.6 79.05H960.3M796.6 49.53H960.3" stroke="#000" stroke-width="1" stroke-dasharray="1.3 1.8" fill="none"/><g class="t" fill="#000"><text x="795.25" y="148.8" text-anchor="middle">0</text><text x="822.85" y="148.8" text-anchor="middle">4</text><text x="850.45" y="148.8" text-anchor="middle">8</text><text x="878.05" y="148.8" text-anchor="middle">12</text><text x="905.65" y="148.8" text-anchor="middle">16</text><text x="933.25" y="148.8" text-anchor="middle">20</text><text x="960.85" y="148.8" text-anchor="middle">24</text><text x="791.1" y="141.4" text-anchor="end">0</text><text x="791.1" y="111.87" text-anchor="end">20</text><text x="791.1" y="82.35" text-anchor="end">40</text><text x="791.1" y="52.83" text-anchor="end">60</text><text x="791.1" y="23.3" text-anchor="end">80</text></g><text class="n" x="878.45" y="162.8" text-anchor="middle" fill="#000" clip-path="url(#l04)">Tap Mun</text>
<clipPath id="c10"><rect x="23.6" y="168" width="165.7" height="118.1"/></clipPath><clipPath id="l10"><rect x="3.6" y="298.1" width="205.7" height="12.7"/></clipPath><g clip-path="url(#c10)" fill="none"><path d="M23.25 281.97L30.15 282.56L37.05 281.97L43.95 281.38L50.85 281.97L57.75 282.56L64.65 282.56L71.55 282.56L78.45 281.38L85.35 281.08L92.25 272.37L99.15 274.14L106.05 263.37L112.95 244.17L119.85 240.04L126.75 231.18L133.65 173.02L140.55 184.68L147.45 229.41L154.35 239.16L161.25 250.82L168.15 269.57L175.05 273.26L181.95 273.26L188.85 279.46" stroke="#00ffff" stroke-width="1.5" stroke-linejoin="round"/><path d="M20.55 279.67L25.95 284.27M20.55 284.27L25.95 279.67M23.25 279.47V284.47M20.35 281.97H26.15M27.45 280.26L32.85 284.86M27.45 284.86L32.85 280.26M30.15 280.06V285.06M27.25 282.56H33.05M34.35 279.67L39.75 284.27M34.35 284.27L39.75 279.67M37.05 279.47V284.47M34.15 281.97H39.95M41.25 279.08L46.65 283.68M41.25 283.68L46.65 279.08M43.95 278.88V283.88M41.05 281.38H46.85M48.15 279.67L53.55 284.27M48.15 284.27L53.55 279.67M50.85 279.47V284.47M47.95 281.97H53.75M55.05 280.26L60.45 284.86M55.05 284.86L60.45 280.26M57.75 280.06V285.06M54.85 282.56H60.65M61.95 280.26L67.35 284.86M61.95 284.86L67.35 280.26M64.65 280.06V285.06M61.75 282.56H67.55M68.85 280.26L74.25 284.86M68.85 284.86L74.25 280.26M71.55 280.06V285.06M68.65 282.56H74.45M75.75 279.08L81.15 283.68M75.75 283.68L81.15 279.08M78.45 278.88V283.88M75.55 281.38H81.35M82.65 278.78L88.05 283.38M82.65 283.38L88.05 278.78M85.35 278.58V283.58M82.45 281.08H88.25M89.55 270.07L94.95 274.67M89.55 274.67L94.95 270.07M92.25 269.87V274.87M89.35 272.37H95.15M96.45 271.84L101.85 276.44M96.45 276.44L101.85 271.84M99.15 271.64V276.64M96.25 274.14H102.05M103.35 261.07L108.75 265.67M103.35 265.67L108.75 261.07M106.05 260.87V265.87M103.15 263.37H108.95M110.25 241.87L115.65 246.47M110.25 246.47L115.65 241.87M112.95 241.67V246.67M110.05 244.17H115.85M117.15 237.74L122.55 242.34M117.15 242.34L122.55 237.74M119.85 237.54V242.54M116.95 240.04H122.75M124.05 228.88L129.45 233.48M124.05 233.48L129.45 228.88M126.75 228.68V233.68M123.85 231.18H129.65M130.95 170.72L136.35 175.32M130.95 175.32L136.35 170.72M133.65 170.52V175.52M130.75 173.02H136.55M137.85 182.38L143.25 186.98M137.85 186.98L143.25 182.38M140.55 182.18V187.18M137.65 184.68H143.45M144.75 227.11L150.15 231.71M144.75 231.71L150.15 227.11M147.45 226.91V231.91M144.55 229.41H150.35M151.65 236.86L157.05 241.46M151.65 241.46L157.05 236.86M154.35 236.66V241.66M151.45 239.16H157.25M158.55 248.52L163.95 253.12M158.55 253.12L163.95 248.52M161.25 248.32V253.32M158.35 250.82H164.15M165.45 267.27L170.85 271.87M165.45 271.87L170.85 267.27M168.15 267.07V272.07M165.25 269.57H171.05M172.35 270.96L177.75 275.56M172.35 275.56L177.75 270.96M175.05 270.76V275.76M172.15 273.26H177.95M179.25 270.96L184.65 275.56M179.25 275.56L184.65 270.96M181.95 270.76V275.76M179.05 273.26H184.85M186.15 277.16L191.55 281.76M186.15 281.76L191.55 277.16M188.85 276.96V281.96M185.95 279.46H191.75" stroke="#00ffff" stroke-width="1.2"/><path d="M23.25 279.9L30.15 267.5L37.05 227.64L43.95 221L50.85 221L57.75 221.74L64.65 225.87L71.55 232.07L78.45 231.18L85.35 241.07L92.25 237.38L99.15 230.3L106.05 228.53L112.95 224.84L119.85 221.29L126.75 206.09L133.65 205.2L140.55 223.06L147.45 223.06L154.35 250.82L161.25 245.95L168.15 233.84L175.05 244.91L181.95 220.41L188.85 219.96" stroke="#00ff00" stroke-width="1.5" stroke-linejoin="round"/><path d="M20.55 277.6L25.95 282.2M20.55 282.2L25.95 277.6M23.25 277.4V282.4M20.35 279.9H26.15M27.45 265.2L32.85 269.8M27.45 269.8L32.85 265.2M30.15 265V270M27.25 267.5H33.05M34.35 225.34L39.75 229.94M34.35 229.94L39.75 225.34M37.05 225.14V230.14M34.15 227.64H39.95M41.25 218.7L46.65 223.3M41.25 223.3L46.65 218.7M43.95 218.5V223.5M41.05 221H46.85M48.15 218.7L53.55 223.3M48.15 223.3L53.55 218.7M50.85 218.5V223.5M47.95 221H53.75M55.05 219.44L60.45 224.04M55.05 224.04L60.45 219.44M57.75 219.24V224.24M54.85 221.74H60.65M61.95 223.57L67.35 228.17M61.95 228.17L67.35 223.57M64.65 223.37V228.37M61.75 225.87H67.55M68.85 229.77L74.25 234.37M68.85 234.37L74.25 229.77M71.55 229.57V234.57M68.65 232.07H74.45M75.75 228.88L81.15 233.48M75.75 233.48L81.15 228.88M78.45 228.68V233.68M75.55 231.18H81.35M82.65 238.77L88.05 243.37M82.65 243.37L88.05 238.77M85.35 238.57V243.57M82.45 241.07H88.25M89.55 235.08L94.95 239.68M89.55 239.68L94.95 235.08M92.25 234.88V239.88M89.35 237.38H95.15M96.45 228L101.85 232.6M96.45 232.6L101.85 228M99.15 227.8V232.8M96.25 230.3H102.05M103.35 226.23L108.75 230.83M103.35 230.83L108.75 226.23M106.05 226.03V231.03M103.15 228.53H108.95M110.25 222.54L115.65 227.14M110.25 227.14L115.65 222.54M112.95 222.34V227.34M110.05 224.84H115.85M117.15 218.99L122.55 223.59M117.15 223.59L122.55 218.99M119.85 218.79V223.79M116.95 221.29H122.75M124.05 203.79L129.45 208.39M124.05 208.39L129.45 203.79M126.75 203.59V208.59M123.85 206.09H129.65M130.95 202.9L136.35 207.5M130.95 207.5L136.35 202.9M133.65 202.7V207.7M130.75 205.2H136.55M137.85 220.76L143.25 225.36M137.85 225.36L143.25 220.76M140.55 220.56V225.56M137.65 223.06H143.45M144.75 220.76L150.15 225.36M144.75 225.36L150.15 220.76M147.45 220.56V225.56M144.55 223.06H150.35M151.65 248.52L157.05 253.12M151.65 253.12L157.05 248.52M154.35 248.32V253.32M151.45 250.82H157.25M158.55 243.65L163.95 248.25M158.55 248.25L163.95 243.65M161.25 243.45V248.45M158.35 245.95H164.15M165.45 231.54L170.85 236.14M165.45 236.14L170.85 231.54M168.15 231.34V236.34M165.25 233.84H171.05M172.35 242.61L177.75 247.21M172.35 247.21L177.75 242.61M175.05 242.41V247.41M172.15 244.91H177.95M179.25 218.11L184.65 222.71M179.25 222.71L184.65 218.11M181.95 217.91V222.91M179.05 220.41H184.85M186.15 217.66L191.55 222.26M186.15 222.26L191.55 217.66M188.85 217.46V222.46M185.95 219.96H191.75" stroke="#00ff00" stroke-width="1.2"/><path d="M23.25 219.52L30.15 219.23L37.05 219.96L43.95 217.45L50.85 214.5L57.75 219.23L64.65 221L71.55 223.95L78.45 233.84L85.35 241.07L92.25 243.73L99.15 238.86L106.05 234.73L112.95 224.84L119.85 213.17L126.75 209.63L133.65 203.13L140.55 216.72L147.45 237.38L154.35 256.72L161.25 270.3L168.15 281.08L175.05 281.97L181.95 281.97L188.85 281.97" stroke="#0000ff" stroke-width="1.5" stroke-linejoin="round"/><path d="M20.55 217.22L25.95 221.82M20.55 221.82L25.95 217.22M23.25 217.02V222.02M20.35 219.52H26.15M27.45 216.93L32.85 221.53M27.45 221.53L32.85 216.93M30.15 216.73V221.73M27.25 219.23H33.05M34.35 217.66L39.75 222.26M34.35 222.26L39.75 217.66M37.05 217.46V222.46M34.15 219.96H39.95M41.25 215.15L46.65 219.75M41.25 219.75L46.65 215.15M43.95 214.95V219.95M41.05 217.45H46.85M48.15 212.2L53.55 216.8M48.15 216.8L53.55 212.2M50.85 212V217M47.95 214.5H53.75M55.05 216.93L60.45 221.53M55.05 221.53L60.45 216.93M57.75 216.73V221.73M54.85 219.23H60.65M61.95 218.7L67.35 223.3M61.95 223.3L67.35 218.7M64.65 218.5V223.5M61.75 221H67.55M68.85 221.65L74.25 226.25M68.85 226.25L74.25 221.65M71.55 221.45V226.45M68.65 223.95H74.45M75.75 231.54L81.15 236.14M75.75 236.14L81.15 231.54M78.45 231.34V236.34M75.55 233.84H81.35M82.65 238.77L88.05 243.37M82.65 243.37L88.05 238.77M85.35 238.57V243.57M82.45 241.07H88.25M89.55 241.43L94.95 246.03M89.55 246.03L94.95 241.43M92.25 241.23V246.23M89.35 243.73H95.15M96.45 236.56L101.85 241.16M96.45 241.16L101.85 236.56M99.15 236.36V241.36M96.25 238.86H102.05M103.35 232.43L108.75 237.03M103.35 237.03L108.75 232.43M106.05 232.23V237.23M103.15 234.73H108.95M110.25 222.54L115.65 227.14M110.25 227.14L115.65 222.54M112.95 222.34V227.34M110.05 224.84H115.85M117.15 210.87L122.55 215.47M117.15 215.47L122.55 210.87M119.85 210.67V215.67M116.95 213.17H122.75M124.05 207.33L129.45 211.93M124.05 211.93L129.45 207.33M126.75 207.13V212.13M123.85 209.63H129.65M130.95 200.83L136.35 205.43M130.95 205.43L136.35 200.83M133.65 200.63V205.63M130.75 203.13H136.55M137.85 214.42L143.25 219.02M137.85 219.02L143.25 214.42M140.55 214.22V219.22M137.65 216.72H143.45M144.75 235.08L150.15 239.68M144.75 239.68L150.15 235.08M147.45 234.88V239.88M144.55 237.38H150.35M151.65 254.42L157.05 259.02M151.65 259.02L157.05 254.42M154.35 254.22V259.22M151.45 256.72H157.25M158.55 268L163.95 272.6M158.55 272.6L163.95 268M161.25 267.8V272.8M158.35 270.3H164.15M165.45 278.78L170.85 283.38M165.45 283.38L170.85 278.78M168.15 278.58V283.58M165.25 281.08H171.05M172.35 279.67L177.75 284.27M172.35 284.27L177.75 279.67M175.05 279.47V284.47M172.15 281.97H177.95M179.25 279.67L184.65 284.27M179.25 284.27L184.65 279.67M181.95 279.47V284.47M179.05 281.97H184.85M186.15 279.67L191.55 284.27M186.15 284.27L191.55 279.67M188.85 279.47V284.47M185.95 281.97H191.75" stroke="#0000ff" stroke-width="1.2"/><path d="M23.25 281.97L30.15 281.97L37.05 281.08L43.95 274.88L50.85 260.56L57.75 261.45L64.65 273.55L71.55 279.6L78.45 281.38L85.35 279.31L92.25 270.01L99.15 261.15L106.05 253.92L112.95 240.78L119.85 221.29L126.75 215.98L133.65 219.23L140.55 223.06L147.45 248.16L154.35 269.57L161.25 276.65L168.15 275.32L175.05 273.11L181.95 246.39L188.85 229.26" stroke="#ff0000" stroke-width="1.5" stroke-linejoin="round"/><path d="M20.55 279.67L25.95 284.27M20.55 284.27L25.95 279.67M23.25 279.47V284.47M20.35 281.97H26.15M27.45 279.67L32.85 284.27M27.45 284.27L32.85 279.67M30.15 279.47V284.47M27.25 281.97H33.05M34.35 278.78L39.75 283.38M34.35 283.38L39.75 278.78M37.05 278.58V283.58M34.15 281.08H39.95M41.25 272.58L46.65 277.18M41.25 277.18L46.65 272.58M43.95 272.38V277.38M41.05 274.88H46.85M48.15 258.26L53.55 262.86M48.15 262.86L53.55 258.26M50.85 258.06V263.06M47.95 260.56H53.75M55.05 259.15L60.45 263.75M55.05 263.75L60.45 259.15M57.75 258.95V263.95M54.85 261.45H60.65M61.95 271.25L67.35 275.85M61.95 275.85L67.35 271.25M64.65 271.05V276.05M61.75 273.55H67.55M68.85 277.3L74.25 281.9M68.85 281.9L74.25 277.3M71.55 277.1V282.1M68.65 279.6H74.45M75.75 279.08L81.15 283.68M75.75 283.68L81.15 279.08M78.45 278.88V283.88M75.55 281.38H81.35M82.65 277.01L88.05 281.61M82.65 281.61L88.05 277.01M85.35 276.81V281.81M82.45 279.31H88.25M89.55 267.71L94.95 272.31M89.55 272.31L94.95 267.71M92.25 267.51V272.51M89.35 270.01H95.15M96.45 258.85L101.85 263.45M96.45 263.45L101.85 258.85M99.15 258.65V263.65M96.25 261.15H102.05M103.35 251.62L108.75 256.22M103.35 256.22L108.75 251.62M106.05 251.42V256.42M103.15 253.92H108.95M110.25 238.48L115.65 243.08M110.25 243.08L115.65 238.48M112.95 238.28V243.28M110.05 240.78H115.85M117.15 218.99L122.55 223.59M117.15 223.59L122.55 218.99M119.85 218.79V223.79M116.95 221.29H122.75M124.05 213.68L129.45 218.28M124.05 218.28L129.45 213.68M126.75 213.48V218.48M123.85 215.98H129.65M130.95 216.93L136.35 221.53M130.95 221.53L136.35 216.93M133.65 216.73V221.73M130.75 219.23H136.55M137.85 220.76L143.25 225.36M137.85 225.36L143.25 220.76M140.55 220.56V225.56M137.65 223.06H143.45M144.75 245.86L150.15 250.46M144.75 250.46L150.15 245.86M147.45 245.66V250.66M144.55 248.16H150.35M151.65 267.27L157.05 271.87M151.65 271.87L157.05 267.27M154.35 267.07V272.07M151.45 269.57H157.25M158.55 274.35L163.95 278.95M158.55 278.95L163.95 274.35M161.25 274.15V279.15M158.35 276.65H164.15M165.45 273.02L170.85 277.62M165.45 277.62L170.85 273.02M168.15 272.82V277.82M165.25 275.32H171.05M172.35 270.81L177.75 275.41M172.35 275.41L177.75 270.81M175.05 270.61V275.61M172.15 273.11H177.95M179.25 244.09L184.65 248.69M179.25 248.69L184.65 244.09M181.95 243.89V248.89M179.05 246.39H184.85M186.15 226.96L191.55 231.56M186.15 231.56L191.55 226.96M188.85 226.76V231.76M185.95 229.26H191.75" stroke="#ff0000" stroke-width="1.2"/></g><path d="M23 168H189.9M23 286.1H189.9" stroke="#000" stroke-width="1.8" fill="none"/><path d="M23.6 168V286.1M189.3 168V286.1" stroke="#000" stroke-width="1.3" fill="none"/><path d="M50.85 168v6M50.85 286.1v-6M78.45 168v6M78.45 286.1v-6M106.05 168v6M106.05 286.1v-6M133.65 168v6M133.65 286.1v-6M161.25 168v6M161.25 286.1v-6M37.05 168v4M37.05 286.1v-4M64.65 168v4M64.65 286.1v-4M92.25 168v4M92.25 286.1v-4M119.85 168v4M119.85 286.1v-4M147.45 168v4M147.45 286.1v-4M175.05 168v4M175.05 286.1v-4M23.6 256.58h6M189.3 256.58h-6M23.6 227.05h6M189.3 227.05h-6M23.6 197.53h6M189.3 197.53h-6M23.6 271.34h4M189.3 271.34h-4M23.6 241.81h4M189.3 241.81h-4M23.6 212.29h4M189.3 212.29h-4M23.6 182.76h4M189.3 182.76h-4" stroke="#000" stroke-width="1.1" fill="none"/><path d="M50.85 168V285.1M78.45 168V285.1M106.05 168V285.1M133.65 168V285.1M161.25 168V285.1M24.6 168H188.3M24.6 256.58H188.3M24.6 227.05H188.3M24.6 197.53H188.3" stroke="#000" stroke-width="1" stroke-dasharray="1.3 1.8" fill="none"/><g class="t" fill="#000"><text x="23.25" y="296.8" text-anchor="middle">0</text><text x="50.85" y="296.8" text-anchor="middle">4</text><text x="78.45" y="296.8" text-anchor="middle">8</text><text x="106.05" y="296.8" text-anchor="middle">12</text><text x="133.65" y="296.8" text-anchor="middle">16</text><text x="161.25" y="296.8" text-anchor="middle">20</text><text x="188.85" y="296.8" text-anchor="middle">24</text><text x="19.1" y="289.4" text-anchor="end">0</text><text x="19.1" y="259.88" text-anchor="end">20</text><text x="19.1" y="230.35" text-anchor="end">40</text><text x="19.1" y="200.83" text-anchor="end">60</text><text x="19.1" y="171.3" text-anchor="end">80</text></g><text class="n" x="106.45" y="310.8" text-anchor="middle" fill="#000" clip-path="url(#l10)">Tuen Mun</text>
<clipPath id="c11"><rect x="216.6" y="168" width="165.7" height="118.1"/></clipPath><clipPath id="l11"><rect x="196.6" y="298.1" width="205.7" height="12.7"/></clipPath><g clip-path="url(#c11)" fill="none"><path d="M216.25 284.62L223.15 284.62L230.05 285.07L236.95 284.62L243.85 281.08L250.75 257.46L257.65 267.79L264.55 279.01L271.45 281.52L278.35 282.85L285.25 281.97L292.15 281.08L299.05 280.79L305.95 273.11L312.85 268.83L319.75 275.32L326.65 250.37L333.55 249.93L340.45 276.06L347.35 283.3L354.25 283.74L361.15 284.33L368.05 283.74L374.95 283.74L381.85 283.74" stroke="#00ffff" stroke-width="1.5" stroke-linejoin="round"/><path d="M213.55 282.32L218.95 286.92M213.55 286.92L218.95 282.32M216.25 282.12V287.12M213.35 284.62H219.15M220.45 282.32L225.85 286.92M220.45 286.92L225.85 282.32M223.15 282.12V287.12M220.25 284.62H226.05M227.35 282.77L232.75 287.37M227.35 287.37L232.75 282.77M230.05 282.57V287.57M227.15 285.07H232.95M234.25 282.32L239.65 286.92M234.25 286.92L239.65 282.32M236.95 282.12V287.12M234.05 284.62H239.85M241.15 278.78L246.55 283.38M241.15 283.38L246.55 278.78M243.85 278.58V283.58M240.95 281.08H246.75M248.05 255.16L253.45 259.76M248.05 259.76L253.45 255.16M250.75 254.96V259.96M247.85 257.46H253.65M254.95 265.49L260.35 270.09M254.95 270.09L260.35 265.49M257.65 265.29V270.29M254.75 267.79H260.55M261.85 276.71L267.25 281.31M261.85 281.31L267.25 276.71M264.55 276.51V281.51M261.65 279.01H267.45M268.75 279.22L274.15 283.82M268.75 283.82L274.15 279.22M271.45 279.02V284.02M268.55 281.52H274.35M275.65 280.55L281.05 285.15M275.65 285.15L281.05 280.55M278.35 280.35V285.35M275.45 282.85H281.25M282.55 279.67L287.95 284.27M282.55 284.27L287.95 279.67M285.25 279.47V284.47M282.35 281.97H288.15M289.45 278.78L294.85 283.38M289.45 283.38L294.85 278.78M292.15 278.58V283.58M289.25 281.08H295.05M296.35 278.49L301.75 283.09M296.35 283.09L301.75 278.49M299.05 278.29V283.29M296.15 280.79H301.95M303.25 270.81L308.65 275.41M303.25 275.41L308.65 270.81M305.95 270.61V275.61M303.05 273.11H308.85M310.15 266.53L315.55 271.13M310.15 271.13L315.55 266.53M312.85 266.33V271.33M309.95 268.83H315.75M317.05 273.02L322.45 277.62M317.05 277.62L322.45 273.02M319.75 272.82V277.82M316.85 275.32H322.65M323.95 248.07L329.35 252.67M323.95 252.67L329.35 248.07M326.65 247.87V252.87M323.75 250.37H329.55M330.85 247.63L336.25 252.23M330.85 252.23L336.25 247.63M333.55 247.43V252.43M330.65 249.93H336.45M337.75 273.76L343.15 278.36M337.75 278.36L343.15 273.76M340.45 273.56V278.56M337.55 276.06H343.35M344.65 281L350.05 285.6M344.65 285.6L350.05 281M347.35 280.8V285.8M344.45 283.3H350.25M351.55 281.44L356.95 286.04M351.55 286.04L356.95 281.44M354.25 281.24V286.24M351.35 283.74H357.15M358.45 282.03L363.85 286.63M358.45 286.63L363.85 282.03M361.15 281.83V286.83M358.25 284.33H364.05M365.35 281.44L370.75 286.04M365.35 286.04L370.75 281.44M368.05 281.24V286.24M365.15 283.74H370.95M372.25 281.44L377.65 286.04M372.25 286.04L377.65 281.44M374.95 281.24V286.24M372.05 283.74H377.85M379.15 281.44L384.55 286.04M379.15 286.04L384.55 281.44M381.85 281.24V286.24M378.95 283.74H384.75" stroke="#00ffff" stroke-width="1.2"/><path d="M216.25 284.33L223.15 283.89L230.05 282.85L236.95 239.6L243.85 232.07L250.75 225.87L257.65 230.3L264.55 238.42L271.45 243.73L278.35 248.16L285.25 250.82L292.15 246.39L299.05 235.32L305.95 222.77L312.85 221L319.75 239.6L326.65 235.61L333.55 239.6L340.45 248.16L347.35 270.6L354.25 262.48L361.15 228.53L368.05 234.28L374.95 226.31L381.85 225.87" stroke="#00ff00" stroke-width="1.5" stroke-linejoin="round"/><path d="M213.55 282.03L218.95 286.63M213.55 286.63L218.95 282.03M216.25 281.83V286.83M213.35 284.33H219.15M220.45 281.59L225.85 286.19M220.45 286.19L225.85 281.59M223.15 281.39V286.39M220.25 283.89H226.05M227.35 280.55L232.75 285.15M227.35 285.15L232.75 280.55M230.05 280.35V285.35M227.15 282.85H232.95M234.25 237.3L239.65 241.9M234.25 241.9L239.65 237.3M236.95 237.1V242.1M234.05 239.6H239.85M241.15 229.77L246.55 234.37M241.15 234.37L246.55 229.77M243.85 229.57V234.57M240.95 232.07H246.75M248.05 223.57L253.45 228.17M248.05 228.17L253.45 223.57M250.75 223.37V228.37M247.85 225.87H253.65M254.95 228L260.35 232.6M254.95 232.6L260.35 228M257.65 227.8V232.8M254.75 230.3H260.55M261.85 236.12L267.25 240.72M261.85 240.72L267.25 236.12M264.55 235.92V240.92M261.65 238.42H267.45M268.75 241.43L274.15 246.03M268.75 246.03L274.15 241.43M271.45 241.23V246.23M268.55 243.73H274.35M275.65 245.86L281.05 250.46M275.65 250.46L281.05 245.86M278.35 245.66V250.66M275.45 248.16H281.25M282.55 248.52L287.95 253.12M282.55 253.12L287.95 248.52M285.25 248.32V253.32M282.35 250.82H288.15M289.45 244.09L294.85 248.69M289.45 248.69L294.85 244.09M292.15 243.89V248.89M289.25 246.39H295.05M296.35 233.02L301.75 237.62M296.35 237.62L301.75 233.02M299.05 232.82V237.82M296.15 235.32H301.95M303.25 220.47L308.65 225.07M303.25 225.07L308.65 220.47M305.95 220.27V225.27M303.05 222.77H308.85M310.15 218.7L315.55 223.3M310.15 223.3L315.55 218.7M312.85 218.5V223.5M309.95 221H315.75M317.05 237.3L322.45 241.9M317.05 241.9L322.45 237.3M319.75 237.1V242.1M316.85 239.6H322.65M323.95 233.31L329.35 237.91M323.95 237.91L329.35 233.31M326.65 233.11V238.11M323.75 235.61H329.55M330.85 237.3L336.25 241.9M330.85 241.9L336.25 237.3M333.55 237.1V242.1M330.65 239.6H336.45M337.75 245.86L343.15 250.46M337.75 250.46L343.15 245.86M340.45 245.66V250.66M337.55 248.16H343.35M344.65 268.3L350.05 272.9M344.65 272.9L350.05 268.3M347.35 268.1V273.1M344.45 270.6H350.25M351.55 260.18L356.95 264.78M351.55 264.78L356.95 260.18M354.25 259.98V264.98M351.35 262.48H357.15M358.45 226.23L363.85 230.83M358.45 230.83L363.85 226.23M361.15 226.03V231.03M358.25 228.53H364.05M365.35 231.98L370.75 236.58M365.35 236.58L370.75 231.98M368.05 231.78V236.78M365.15 234.28H370.95M372.25 224.01L377.65 228.61M372.25 228.61L377.65 224.01M374.95 223.81V228.81M372.05 226.31H377.85M379.15 223.57L384.55 228.17M379.15 228.17L384.55 223.57M381.85 223.37V228.37M378.95 225.87H384.75" stroke="#00ff00" stroke-width="1.2"/><path d="M216.25 225.87L223.15 224.54L230.05 223.06L236.95 228.82L243.85 218.64L250.75 224.84L257.65 231.18L264.55 244.91L271.45 255.39L278.35 256.28L285.25 251.7L292.15 246.39L299.05 234.73L305.95 224.84L312.85 247.87L319.75 243.14L326.65 226.31L333.55 231.18L340.45 240.04L347.35 269.57L354.25 278.57L361.15 281.23L368.05 278.57L374.95 281.23L381.85 281.82" stroke="#0000ff" stroke-width="1.5" stroke-linejoin="round"/><path d="M213.55 223.57L218.95 228.17M213.55 228.17L218.95 223.57M216.25 223.37V228.37M213.35 225.87H219.15M220.45 222.24L225.85 226.84M220.45 226.84L225.85 222.24M223.15 222.04V227.04M220.25 224.54H226.05M227.35 220.76L232.75 225.36M227.35 225.36L232.75 220.76M230.05 220.56V225.56M227.15 223.06H232.95M234.25 226.52L239.65 231.12M234.25 231.12L239.65 226.52M236.95 226.32V231.32M234.05 228.82H239.85M241.15 216.34L246.55 220.94M241.15 220.94L246.55 216.34M243.85 216.14V221.14M240.95 218.64H246.75M248.05 222.54L253.45 227.14M248.05 227.14L253.45 222.54M250.75 222.34V227.34M247.85 224.84H253.65M254.95 228.88L260.35 233.48M254.95 233.48L260.35 228.88M257.65 228.68V233.68M254.75 231.18H260.55M261.85 242.61L267.25 247.21M261.85 247.21L267.25 242.61M264.55 242.41V247.41M261.65 244.91H267.45M268.75 253.09L274.15 257.69M268.75 257.69L274.15 253.09M271.45 252.89V257.89M268.55 255.39H274.35M275.65 253.98L281.05 258.58M275.65 258.58L281.05 253.98M278.35 253.78V258.78M275.45 256.28H281.25M282.55 249.4L287.95 254M282.55 254L287.95 249.4M285.25 249.2V254.2M282.35 251.7H288.15M289.45 244.09L294.85 248.69M289.45 248.69L294.85 244.09M292.15 243.89V248.89M289.25 246.39H295.05M296.35 232.43L301.75 237.03M296.35 237.03L301.75 232.43M299.05 232.23V237.23M296.15 234.73H301.95M303.25 222.54L308.65 227.14M303.25 227.14L308.65 222.54M305.95 222.34V227.34M303.05 224.84H308.85M310.15 245.57L315.55 250.17M310.15 250.17L315.55 245.57M312.85 245.37V250.37M309.95 247.87H315.75M317.05 240.84L322.45 245.44M317.05 245.44L322.45 240.84M319.75 240.64V245.64M316.85 243.14H322.65M323.95 224.01L329.35 228.61M323.95 228.61L329.35 224.01M326.65 223.81V228.81M323.75 226.31H329.55M330.85 228.88L336.25 233.48M330.85 233.48L336.25 228.88M333.55 228.68V233.68M330.65 231.18H336.45M337.75 237.74L343.15 242.34M337.75 242.34L343.15 237.74M340.45 237.54V242.54M337.55 240.04H343.35M344.65 267.27L350.05 271.87M344.65 271.87L350.05 267.27M347.35 267.07V272.07M344.45 269.57H350.25M351.55 276.27L356.95 280.87M351.55 280.87L356.95 276.27M354.25 276.07V281.07M351.35 278.57H357.15M358.45 278.93L363.85 283.53M358.45 283.53L363.85 278.93M361.15 278.73V283.73M358.25 281.23H364.05M365.35 276.27L370.75 280.87M365.35 280.87L370.75 276.27M368.05 276.07V281.07M365.15 278.57H370.95M372.25 278.93L377.65 283.53M372.25 283.53L377.65 278.93M374.95 278.73V283.73M372.05 281.23H377.85M379.15 279.52L384.55 284.12M379.15 284.12L384.55 279.52M381.85 279.32V284.32M378.95 281.82H384.75" stroke="#0000ff" stroke-width="1.2"/><path d="M216.25 281.82L223.15 281.23L230.05 280.49L236.95 269.12L243.85 260.12L250.75 250.37L257.65 248.9L264.55 256.13L271.45 266.47L278.35 256.28L285.25 260.71L292.15 247.87L299.05 262.92L305.95 233.84L312.85 215.98L319.75 208.01L326.65 218.64L333.55 223.06L340.45 237.38L347.35 256.13L354.25 268.68L361.15 266.02L368.05 261.89L374.95 243.14L381.85 244.62" stroke="#ff0000" stroke-width="1.5" stroke-linejoin="round"/><path d="M213.55 279.52L218.95 284.12M213.55 284.12L218.95 279.52M216.25 279.32V284.32M213.35 281.82H219.15M220.45 278.93L225.85 283.53M220.45 283.53L225.85 278.93M223.15 278.73V283.73M220.25 281.23H226.05M227.35 278.19L232.75 282.79M227.35 282.79L232.75 278.19M230.05 277.99V282.99M227.15 280.49H232.95M234.25 266.82L239.65 271.42M234.25 271.42L239.65 266.82M236.95 266.62V271.62M234.05 269.12H239.85M241.15 257.82L246.55 262.42M241.15 262.42L246.55 257.82M243.85 257.62V262.62M240.95 260.12H246.75M248.05 248.07L253.45 252.67M248.05 252.67L253.45 248.07M250.75 247.87V252.87M247.85 250.37H253.65M254.95 246.6L260.35 251.2M254.95 251.2L260.35 246.6M257.65 246.4V251.4M254.75 248.9H260.55M261.85 253.83L267.25 258.43M261.85 258.43L267.25 253.83M264.55 253.63V258.63M261.65 256.13H267.45M268.75 264.17L274.15 268.77M268.75 268.77L274.15 264.17M271.45 263.97V268.97M268.55 266.47H274.35M275.65 253.98L281.05 258.58M275.65 258.58L281.05 253.98M278.35 253.78V258.78M275.45 256.28H281.25M282.55 258.41L287.95 263.01M282.55 263.01L287.95 258.41M285.25 258.21V263.21M282.35 260.71H288.15M289.45 245.57L294.85 250.17M289.45 250.17L294.85 245.57M292.15 245.37V250.37M289.25 247.87H295.05M296.35 260.62L301.75 265.22M296.35 265.22L301.75 260.62M299.05 260.42V265.42M296.15 262.92H301.95M303.25 231.54L308.65 236.14M303.25 236.14L308.65 231.54M305.95 231.34V236.34M303.05 233.84H308.85M310.15 213.68L315.55 218.28M310.15 218.28L315.55 213.68M312.85 213.48V218.48M309.95 215.98H315.75M317.05 205.71L322.45 210.31M317.05 210.31L322.45 205.71M319.75 205.51V210.51M316.85 208.01H322.65M323.95 216.34L329.35 220.94M323.95 220.94L329.35 216.34M326.65 216.14V221.14M323.75 218.64H329.55M330.85 220.76L336.25 225.36M330.85 225.36L336.25 220.76M333.55 220.56V225.56M330.65 223.06H336.45M337.75 235.08L343.15 239.68M337.75 239.68L343.15 235.08M340.45 234.88V239.88M337.55 237.38H343.35M344.65 253.83L350.05 258.43M344.65 258.43L350.05 253.83M347.35 253.63V258.63M344.45 256.13H350.25M351.55 266.38L356.95 270.98M351.55 270.98L356.95 266.38M354.25 266.18V271.18M351.35 268.68H357.15M358.45 263.72L363.85 268.32M358.45 268.32L363.85 263.72M361.15 263.52V268.52M358.25 266.02H364.05M365.35 259.59L370.75 264.19M365.35 264.19L370.75 259.59M368.05 259.39V264.39M365.15 261.89H370.95M372.25 240.84L377.65 245.44M372.25 245.44L377.65 240.84M374.95 240.64V245.64M372.05 243.14H377.85M379.15 242.32L384.55 246.92M379.15 246.92L384.55 242.32M381.85 242.12V247.12M378.95 244.62H384.75" stroke="#ff0000" stroke-width="1.2"/></g><path d="M216 168H382.9M216 286.1H382.9" stroke="#000" stroke-width="1.8" fill="none"/><path d="M216.6 168V286.1M382.3 168V286.1" stroke="#000" stroke-width="1.3" fill="none"/><path d="M243.85 168v6M243.85 286.1v-6M271.45 168v6M271.45 286.1v-6M299.05 168v6M299.05 286.1v-6M326.65 168v6M326.65 286.1v-6M354.25 168v6M354.25 286.1v-6M230.05 168v4M230.05 286.1v-4M257.65 168v4M257.65 286.1v-4M285.25 168v4M285.25 286.1v-4M312.85 168v4M312.85 286.1v-4M340.45 168v4M340.45 286.1v-4M368.05 168v4M368.05 286.1v-4M216.6 256.58h6M382.3 256.58h-6M216.6 227.05h6M382.3 227.05h-6M216.6 197.53h6M382.3 197.53h-6M216.6 271.34h4M382.3 271.34h-4M216.6 241.81h4M382.3 241.81h-4M216.6 212.29h4M382.3 212.29h-4M216.6 182.76h4M382.3 182.76h-4" stroke="#000" stroke-width="1.1" fill="none"/><path d="M243.85 168V285.1M271.45 168V285.1M299.05 168V285.1M326.65 168V285.1M354.25 168V285.1M217.6 168H381.3M217.6 256.58H381.3M217.6 227.05H381.3M217.6 197.53H381.3" stroke="#000" stroke-width="1" stroke-dasharray="1.3 1.8" fill="none"/><g class="t" fill="#000"><text x="216.25" y="296.8" text-anchor="middle">0</text><text x="243.85" y="296.8" text-anchor="middle">4</text><text x="271.45" y="296.8" text-anchor="middle">8</text><text x="299.05" y="296.8" text-anchor="middle">12</text><text x="326.65" y="296.8" text-anchor="middle">16</text><text x="354.25" y="296.8" text-anchor="middle">20</text><text x="381.85" y="296.8" text-anchor="middle">24</text><text x="212.1" y="289.4" text-anchor="end">0</text><text x="212.1" y="259.88" text-anchor="end">20</text><text x="212.1" y="230.35" text-anchor="end">40</text><text x="212.1" y="200.83" text-anchor="end">60</text><text x="212.1" y="171.3" text-anchor="end">80</text></g><text class="n" x="299.45" y="310.8" text-anchor="middle" fill="#000" clip-path="url(#l11)">Tsuen Wan</text>
<clipPath id="c12"><rect x="409.6" y="168" width="165.7" height="118.1"/></clipPath><clipPath id="l12"><rect x="389.6" y="298.1" width="205.7" height="12.7"/></clipPath><g clip-path="url(#c12)" fill="none"><path d="M409.25 284.92L416.15 284.92L423.05 284.92L429.95 284.92L436.85 253.62L443.75 249.64L450.65 257.17L457.55 268.83L464.45 280.79L471.35 281.52L478.25 281.97L485.15 281.08L492.05 280.2L498.95 278.87L505.85 274.29L512.75 276.06L519.65 268.24L526.55 266.76L533.45 277.54L540.35 282.85L547.25 279.46L554.15 275.32L561.05 284.62L567.95 278.57L574.85 255.39" stroke="#00ffff" stroke-width="1.5" stroke-linejoin="round"/><path d="M406.55 282.62L411.95 287.22M406.55 287.22L411.95 282.62M409.25 282.42V287.42M406.35 284.92H412.15M413.45 282.62L418.85 287.22M413.45 287.22L418.85 282.62M416.15 282.42V287.42M413.25 284.92H419.05M420.35 282.62L425.75 287.22M420.35 287.22L425.75 282.62M423.05 282.42V287.42M420.15 284.92H425.95M427.25 282.62L432.65 287.22M427.25 287.22L432.65 282.62M429.95 282.42V287.42M427.05 284.92H432.85M434.15 251.32L439.55 255.92M434.15 255.92L439.55 251.32M436.85 251.12V256.12M433.95 253.62H439.75M441.05 247.34L446.45 251.94M441.05 251.94L446.45 247.34M443.75 247.14V252.14M440.85 249.64H446.65M447.95 254.87L453.35 259.47M447.95 259.47L453.35 254.87M450.65 254.67V259.67M447.75 257.17H453.55M454.85 266.53L460.25 271.13M454.85 271.13L460.25 266.53M457.55 266.33V271.33M454.65 268.83H460.45M461.75 278.49L467.15 283.09M461.75 283.09L467.15 278.49M464.45 278.29V283.29M461.55 280.79H467.35M468.65 279.22L474.05 283.82M468.65 283.82L474.05 279.22M471.35 279.02V284.02M468.45 281.52H474.25M475.55 279.67L480.95 284.27M475.55 284.27L480.95 279.67M478.25 279.47V284.47M475.35 281.97H481.15M482.45 278.78L487.85 283.38M482.45 283.38L487.85 278.78M485.15 278.58V283.58M482.25 281.08H488.05M489.35 277.9L494.75 282.5M489.35 282.5L494.75 277.9M492.05 277.7V282.7M489.15 280.2H494.95M496.25 276.57L501.65 281.17M496.25 281.17L501.65 276.57M498.95 276.37V281.37M496.05 278.87H501.85M503.15 271.99L508.55 276.59M503.15 276.59L508.55 271.99M505.85 271.79V276.79M502.95 274.29H508.75M510.05 273.76L515.45 278.36M510.05 278.36L515.45 273.76M512.75 273.56V278.56M509.85 276.06H515.65M516.95 265.94L522.35 270.54M516.95 270.54L522.35 265.94M519.65 265.74V270.74M516.75 268.24H522.55M523.85 264.46L529.25 269.06M523.85 269.06L529.25 264.46M526.55 264.26V269.26M523.65 266.76H529.45M530.75 275.24L536.15 279.84M530.75 279.84L536.15 275.24M533.45 275.04V280.04M530.55 277.54H536.35M537.65 280.55L543.05 285.15M537.65 285.15L543.05 280.55M540.35 280.35V285.35M537.45 282.85H543.25M544.55 277.16L549.95 281.76M544.55 281.76L549.95 277.16M547.25 276.96V281.96M544.35 279.46H550.15M551.45 273.02L556.85 277.62M551.45 277.62L556.85 273.02M554.15 272.82V277.82M551.25 275.32H557.05M558.35 282.32L563.75 286.92M558.35 286.92L563.75 282.32M561.05 282.12V287.12M558.15 284.62H563.95M565.25 276.27L570.65 280.87M565.25 280.87L570.65 276.27M567.95 276.07V281.07M565.05 278.57H570.85M572.15 253.09L577.55 257.69M572.15 257.69L577.55 253.09M574.85 252.89V257.89M571.95 255.39H577.75" stroke="#00ffff" stroke-width="1.2"/><path d="M409.25 255.39L416.15 243.14L423.05 237.38L429.95 235.61L436.85 235.32L443.75 235.61L450.65 237.38L457.55 244.91L464.45 252.59L471.35 254.36L478.25 251.41L485.15 239.6L492.05 253.62L498.95 245.95L505.85 245.95L512.75 245.95L519.65 259.23L526.55 252.59L533.45 249.93L540.35 254.36L547.25 270.6L554.15 257.17L561.05 244.17L567.95 235.32L574.85 234.73" stroke="#00ff00" stroke-width="1.5" stroke-linejoin="round"/><path d="M406.55 253.09L411.95 257.69M406.55 257.69L411.95 253.09M409.25 252.89V257.89M406.35 255.39H412.15M413.45 240.84L418.85 245.44M413.45 245.44L418.85 240.84M416.15 240.64V245.64M413.25 243.14H419.05M420.35 235.08L425.75 239.68M420.35 239.68L425.75 235.08M423.05 234.88V239.88M420.15 237.38H425.95M427.25 233.31L432.65 237.91M427.25 237.91L432.65 233.31M429.95 233.11V238.11M427.05 235.61H432.85M434.15 233.02L439.55 237.62M434.15 237.62L439.55 233.02M436.85 232.82V237.82M433.95 235.32H439.75M441.05 233.31L446.45 237.91M441.05 237.91L446.45 233.31M443.75 233.11V238.11M440.85 235.61H446.65M447.95 235.08L453.35 239.68M447.95 239.68L453.35 235.08M450.65 234.88V239.88M447.75 237.38H453.55M454.85 242.61L460.25 247.21M454.85 247.21L460.25 242.61M457.55 242.41V247.41M454.65 244.91H460.45M461.75 250.29L467.15 254.89M461.75 254.89L467.15 250.29M464.45 250.09V255.09M461.55 252.59H467.35M468.65 252.06L474.05 256.66M468.65 256.66L474.05 252.06M471.35 251.86V256.86M468.45 254.36H474.25M475.55 249.11L480.95 253.71M475.55 253.71L480.95 249.11M478.25 248.91V253.91M475.35 251.41H481.15M482.45 237.3L487.85 241.9M482.45 241.9L487.85 237.3M485.15 237.1V242.1M482.25 239.6H488.05M489.35 251.32L494.75 255.92M489.35 255.92L494.75 251.32M492.05 251.12V256.12M489.15 253.62H494.95M496.25 243.65L501.65 248.25M496.25 248.25L501.65 243.65M498.95 243.45V248.45M496.05 245.95H501.85M503.15 243.65L508.55 248.25M503.15 248.25L508.55 243.65M505.85 243.45V248.45M502.95 245.95H508.75M510.05 243.65L515.45 248.25M510.05 248.25L515.45 243.65M512.75 243.45V248.45M509.85 245.95H515.65M516.95 256.93L522.35 261.53M516.95 261.53L522.35 256.93M519.65 256.73V261.73M516.75 259.23H522.55M523.85 250.29L529.25 254.89M523.85 254.89L529.25 250.29M526.55 250.09V255.09M523.65 252.59H529.45M530.75 247.63L536.15 252.23M530.75 252.23L536.15 247.63M533.45 247.43V252.43M530.55 249.93H536.35M537.65 252.06L543.05 256.66M537.65 256.66L543.05 252.06M540.35 251.86V256.86M537.45 254.36H543.25M544.55 268.3L549.95 272.9M544.55 272.9L549.95 268.3M547.25 268.1V273.1M544.35 270.6H550.15M551.45 254.87L556.85 259.47M551.45 259.47L556.85 254.87M554.15 254.67V259.67M551.25 257.17H557.05M558.35 241.87L563.75 246.47M558.35 246.47L563.75 241.87M561.05 241.67V246.67M558.15 244.17H563.95M565.25 233.02L570.65 237.62M565.25 237.62L570.65 233.02M567.95 232.82V237.82M565.05 235.32H570.85M572.15 232.43L577.55 237.03M572.15 237.03L577.55 232.43M574.85 232.23V237.23M571.95 234.73H577.75" stroke="#00ff00" stroke-width="1.2"/><path d="M409.25 234.73L416.15 235.61L423.05 228.53L429.95 231.18L436.85 230L443.75 231.18L450.65 238.86L457.55 246.39L464.45 255.39L471.35 260.71L478.25 252.59L485.15 246.39L492.05 241.07L498.95 229.41L505.85 229.41L512.75 243.73L519.65 246.68L526.55 248.16L533.45 258.94L540.35 281.52L547.25 283.74L554.15 284.92L561.05 284.92L567.95 283.74L574.85 280.79" stroke="#0000ff" stroke-width="1.5" stroke-linejoin="round"/><path d="M406.55 232.43L411.95 237.03M406.55 237.03L411.95 232.43M409.25 232.23V237.23M406.35 234.73H412.15M413.45 233.31L418.85 237.91M413.45 237.91L418.85 233.31M416.15 233.11V238.11M413.25 235.61H419.05M420.35 226.23L425.75 230.83M420.35 230.83L425.75 226.23M423.05 226.03V231.03M420.15 228.53H425.95M427.25 228.88L432.65 233.48M427.25 233.48L432.65 228.88M429.95 228.68V233.68M427.05 231.18H432.85M434.15 227.7L439.55 232.3M434.15 232.3L439.55 227.7M436.85 227.5V232.5M433.95 230H439.75M441.05 228.88L446.45 233.48M441.05 233.48L446.45 228.88M443.75 228.68V233.68M440.85 231.18H446.65M447.95 236.56L453.35 241.16M447.95 241.16L453.35 236.56M450.65 236.36V241.36M447.75 238.86H453.55M454.85 244.09L460.25 248.69M454.85 248.69L460.25 244.09M457.55 243.89V248.89M454.65 246.39H460.45M461.75 253.09L467.15 257.69M461.75 257.69L467.15 253.09M464.45 252.89V257.89M461.55 255.39H467.35M468.65 258.41L474.05 263.01M468.65 263.01L474.05 258.41M471.35 258.21V263.21M468.45 260.71H474.25M475.55 250.29L480.95 254.89M475.55 254.89L480.95 250.29M478.25 250.09V255.09M475.35 252.59H481.15M482.45 244.09L487.85 248.69M482.45 248.69L487.85 244.09M485.15 243.89V248.89M482.25 246.39H488.05M489.35 238.77L494.75 243.37M489.35 243.37L494.75 238.77M492.05 238.57V243.57M489.15 241.07H494.95M496.25 227.11L501.65 231.71M496.25 231.71L501.65 227.11M498.95 226.91V231.91M496.05 229.41H501.85M503.15 227.11L508.55 231.71M503.15 231.71L508.55 227.11M505.85 226.91V231.91M502.95 229.41H508.75M510.05 241.43L515.45 246.03M510.05 246.03L515.45 241.43M512.75 241.23V246.23M509.85 243.73H515.65M516.95 244.38L522.35 248.98M516.95 248.98L522.35 244.38M519.65 244.18V249.18M516.75 246.68H522.55M523.85 245.86L529.25 250.46M523.85 250.46L529.25 245.86M526.55 245.66V250.66M523.65 248.16H529.45M530.75 256.64L536.15 261.24M530.75 261.24L536.15 256.64M533.45 256.44V261.44M530.55 258.94H536.35M537.65 279.22L543.05 283.82M537.65 283.82L543.05 279.22M540.35 279.02V284.02M537.45 281.52H543.25M544.55 281.44L549.95 286.04M544.55 286.04L549.95 281.44M547.25 281.24V286.24M544.35 283.74H550.15M551.45 282.62L556.85 287.22M551.45 287.22L556.85 282.62M554.15 282.42V287.42M551.25 284.92H557.05M558.35 282.62L563.75 287.22M558.35 287.22L563.75 282.62M561.05 282.42V287.42M558.15 284.92H563.95M565.25 281.44L570.65 286.04M565.25 286.04L570.65 281.44M567.95 281.24V286.24M565.05 283.74H570.85M572.15 278.49L577.55 283.09M572.15 283.09L577.55 278.49M574.85 278.29V283.29M571.95 280.79H577.75" stroke="#0000ff" stroke-width="1.2"/><path d="M409.25 280.2L416.15 265.73L423.05 250.37L429.95 250.37L436.85 239.6L443.75 230L450.65 231.18L457.55 238.42L464.45 255.39L471.35 257.17L478.25 250.82L485.15 247.27L492.05 241.07L498.95 237.38L505.85 229.41L512.75 233.55L519.65 238.86L526.55 239.6L533.45 258.94L540.35 258.05L547.25 258.05L554.15 240.04L561.05 235.61L567.95 239.6L574.85 246.39" stroke="#ff0000" stroke-width="1.5" stroke-linejoin="round"/><path d="M406.55 277.9L411.95 282.5M406.55 282.5L411.95 277.9M409.25 277.7V282.7M406.35 280.2H412.15M413.45 263.43L418.85 268.03M413.45 268.03L418.85 263.43M416.15 263.23V268.23M413.25 265.73H419.05M420.35 248.07L425.75 252.67M420.35 252.67L425.75 248.07M423.05 247.87V252.87M420.15 250.37H425.95M427.25 248.07L432.65 252.67M427.25 252.67L432.65 248.07M429.95 247.87V252.87M427.05 250.37H432.85M434.15 237.3L439.55 241.9M434.15 241.9L439.55 237.3M436.85 237.1V242.1M433.95 239.6H439.75M441.05 227.7L446.45 232.3M441.05 232.3L446.45 227.7M443.75 227.5V232.5M440.85 230H446.65M447.95 228.88L453.35 233.48M447.95 233.48L453.35 228.88M450.65 228.68V233.68M447.75 231.18H453.55M454.85 236.12L460.25 240.72M454.85 240.72L460.25 236.12M457.55 235.92V240.92M454.65 238.42H460.45M461.75 253.09L467.15 257.69M461.75 257.69L467.15 253.09M464.45 252.89V257.89M461.55 255.39H467.35M468.65 254.87L474.05 259.47M468.65 259.47L474.05 254.87M471.35 254.67V259.67M468.45 257.17H474.25M475.55 248.52L480.95 253.12M475.55 253.12L480.95 248.52M478.25 248.32V253.32M475.35 250.82H481.15M482.45 244.97L487.85 249.57M482.45 249.57L487.85 244.97M485.15 244.77V249.77M482.25 247.27H488.05M489.35 238.77L494.75 243.37M489.35 243.37L494.75 238.77M492.05 238.57V243.57M489.15 241.07H494.95M496.25 235.08L501.65 239.68M496.25 239.68L501.65 235.08M498.95 234.88V239.88M496.05 237.38H501.85M503.15 227.11L508.55 231.71M503.15 231.71L508.55 227.11M505.85 226.91V231.91M502.95 229.41H508.75M510.05 231.25L515.45 235.85M510.05 235.85L515.45 231.25M512.75 231.05V236.05M509.85 233.55H515.65M516.95 236.56L522.35 241.16M516.95 241.16L522.35 236.56M519.65 236.36V241.36M516.75 238.86H522.55M523.85 237.3L529.25 241.9M523.85 241.9L529.25 237.3M526.55 237.1V242.1M523.65 239.6H529.45M530.75 256.64L536.15 261.24M530.75 261.24L536.15 256.64M533.45 256.44V261.44M530.55 258.94H536.35M537.65 255.75L543.05 260.35M537.65 260.35L543.05 255.75M540.35 255.55V260.55M537.45 258.05H543.25M544.55 255.75L549.95 260.35M544.55 260.35L549.95 255.75M547.25 255.55V260.55M544.35 258.05H550.15M551.45 237.74L556.85 242.34M551.45 242.34L556.85 237.74M554.15 237.54V242.54M551.25 240.04H557.05M558.35 233.31L563.75 237.91M558.35 237.91L563.75 233.31M561.05 233.11V238.11M558.15 235.61H563.95M565.25 237.3L570.65 241.9M565.25 241.9L570.65 237.3M567.95 237.1V242.1M565.05 239.6H570.85M572.15 244.09L577.55 248.69M572.15 248.69L577.55 244.09M574.85 243.89V248.89M571.95 246.39H577.75" stroke="#ff0000" stroke-width="1.2"/></g><path d="M409 168H575.9M409 286.1H575.9" stroke="#000" stroke-width="1.8" fill="none"/><path d="M409.6 168V286.1M575.3 168V286.1" stroke="#000" stroke-width="1.3" fill="none"/><path d="M436.85 168v6M436.85 286.1v-6M464.45 168v6M464.45 286.1v-6M492.05 168v6M492.05 286.1v-6M519.65 168v6M519.65 286.1v-6M547.25 168v6M547.25 286.1v-6M423.05 168v4M423.05 286.1v-4M450.65 168v4M450.65 286.1v-4M478.25 168v4M478.25 286.1v-4M505.85 168v4M505.85 286.1v-4M533.45 168v4M533.45 286.1v-4M561.05 168v4M561.05 286.1v-4M409.6 256.58h6M575.3 256.58h-6M409.6 227.05h6M575.3 227.05h-6M409.6 197.53h6M575.3 197.53h-6M409.6 271.34h4M575.3 271.34h-4M409.6 241.81h4M575.3 241.81h-4M409.6 212.29h4M575.3 212.29h-4M409.6 182.76h4M575.3 182.76h-4" stroke="#000" stroke-width="1.1" fill="none"/><path d="M436.85 168V285.1M464.45 168V285.1M492.05 168V285.1M519.65 168V285.1M547.25 168V285.1M410.6 168H574.3M410.6 256.58H574.3M410.6 227.05H574.3M410.6 197.53H574.3" stroke="#000" stroke-width="1" stroke-dasharray="1.3 1.8" fill="none"/><g class="t" fill="#000"><text x="409.25" y="296.8" text-anchor="middle">0</text><text x="436.85" y="296.8" text-anchor="middle">4</text><text x="464.45" y="296.8" text-anchor="middle">8</text><text x="492.05" y="296.8" text-anchor="middle">12</text><text x="519.65" y="296.8" text-anchor="middle">16</text><text x="547.25" y="296.8" text-anchor="middle">20</text><text x="574.85" y="296.8" text-anchor="middle">24</text><text x="405.1" y="289.4" text-anchor="end">0</text><text x="405.1" y="259.88" text-anchor="end">20</text><text x="405.1" y="230.35" text-anchor="end">40</text><text x="405.1" y="200.83" text-anchor="end">60</text><text x="405.1" y="171.3" text-anchor="end">80</text></g><text class="n" x="492.45" y="310.8" text-anchor="middle" fill="#000" clip-path="url(#l12)">Sham Shui Po</text>
<clipPath id="c13"><rect x="602.6" y="168" width="165.7" height="118.1"/></clipPath><clipPath id="l13"><rect x="582.6" y="298.1" width="205.7" height="12.7"/></clipPath><g clip-path="url(#c13)" fill="none"><path d="M602.25 284.62L609.15 280.2L616.05 261.59L622.95 241.96L629.85 245.95L636.75 244.91L643.65 249.93L650.55 264.25L657.45 275.32L664.35 275.32L671.25 275.32L678.15 252.59L685.05 232.07L691.95 230.59L698.85 224.84L705.75 234.28L712.65 275.32L719.55 253.47L726.45 274.88L733.35 281.97L740.25 284.62L747.15 281.08L754.05 238.86L760.95 216.86L767.85 233.55" stroke="#00ffff" stroke-width="1.5" stroke-linejoin="round"/><path d="M599.55 282.32L604.95 286.92M599.55 286.92L604.95 282.32M602.25 282.12V287.12M599.35 284.62H605.15M606.45 277.9L611.85 282.5M606.45 282.5L611.85 277.9M609.15 277.7V282.7M606.25 280.2H612.05M613.35 259.29L618.75 263.89M613.35 263.89L618.75 259.29M616.05 259.09V264.09M613.15 261.59H618.95M620.25 239.66L625.65 244.26M620.25 244.26L625.65 239.66M622.95 239.46V244.46M620.05 241.96H625.85M627.15 243.65L632.55 248.25M627.15 248.25L632.55 243.65M629.85 243.45V248.45M626.95 245.95H632.75M634.05 242.61L639.45 247.21M634.05 247.21L639.45 242.61M636.75 242.41V247.41M633.85 244.91H639.65M640.95 247.63L646.35 252.23M640.95 252.23L646.35 247.63M643.65 247.43V252.43M640.75 249.93H646.55M647.85 261.95L653.25 266.55M647.85 266.55L653.25 261.95M650.55 261.75V266.75M647.65 264.25H653.45M654.75 273.02L660.15 277.62M654.75 277.62L660.15 273.02M657.45 272.82V277.82M654.55 275.32H660.35M661.65 273.02L667.05 277.62M661.65 277.62L667.05 273.02M664.35 272.82V277.82M661.45 275.32H667.25M668.55 273.02L673.95 277.62M668.55 277.62L673.95 273.02M671.25 272.82V277.82M668.35 275.32H674.15M675.45 250.29L680.85 254.89M675.45 254.89L680.85 250.29M678.15 250.09V255.09M675.25 252.59H681.05M682.35 229.77L687.75 234.37M682.35 234.37L687.75 229.77M685.05 229.57V234.57M682.15 232.07H687.95M689.25 228.29L694.65 232.89M689.25 232.89L694.65 228.29M691.95 228.09V233.09M689.05 230.59H694.85M696.15 222.54L701.55 227.14M696.15 227.14L701.55 222.54M698.85 222.34V227.34M695.95 224.84H701.75M703.05 231.98L708.45 236.58M703.05 236.58L708.45 231.98M705.75 231.78V236.78M702.85 234.28H708.65M709.95 273.02L715.35 277.62M709.95 277.62L715.35 273.02M712.65 272.82V277.82M709.75 275.32H715.55M716.85 251.17L722.25 255.77M716.85 255.77L722.25 251.17M719.55 250.97V255.97M716.65 253.47H722.45M723.75 272.58L729.15 277.18M723.75 277.18L729.15 272.58M726.45 272.38V277.38M723.55 274.88H729.35M730.65 279.67L736.05 284.27M730.65 284.27L736.05 279.67M733.35 279.47V284.47M730.45 281.97H736.25M737.55 282.32L742.95 286.92M737.55 286.92L742.95 282.32M740.25 282.12V287.12M737.35 284.62H743.15M744.45 278.78L749.85 283.38M744.45 283.38L749.85 278.78M747.15 278.58V283.58M744.25 281.08H750.05M751.35 236.56L756.75 241.16M751.35 241.16L756.75 236.56M754.05 236.36V241.36M751.15 238.86H756.95M758.25 214.56L763.65 219.16M758.25 219.16L763.65 214.56M760.95 214.36V219.36M758.05 216.86H763.85M765.15 231.25L770.55 235.85M765.15 235.85L770.55 231.25M767.85 231.05V236.05M764.95 233.55H770.75" stroke="#00ffff" stroke-width="1.2"/><path d="M602.25 233.55L609.15 232.96L616.05 225.87L622.95 225.87L629.85 221.29L636.75 225.87L643.65 230L650.55 237.83L657.45 242.85L664.35 241.96L671.25 237.83L678.15 229.41L685.05 224.84L691.95 215.54L698.85 203.13L705.75 200.77L712.65 199.89L719.55 199.89L726.45 223.95L733.35 273.26L740.25 281.97L747.15 279.31L754.05 257.17L760.95 218.64L767.85 216.86" stroke="#00ff00" stroke-width="1.5" stroke-linejoin="round"/><path d="M599.55 231.25L604.95 235.85M599.55 235.85L604.95 231.25M602.25 231.05V236.05M599.35 233.55H605.15M606.45 230.66L611.85 235.26M606.45 235.26L611.85 230.66M609.15 230.46V235.46M606.25 232.96H612.05M613.35 223.57L618.75 228.17M613.35 228.17L618.75 223.57M616.05 223.37V228.37M613.15 225.87H618.95M620.25 223.57L625.65 228.17M620.25 228.17L625.65 223.57M622.95 223.37V228.37M620.05 225.87H625.85M627.15 218.99L632.55 223.59M627.15 223.59L632.55 218.99M629.85 218.79V223.79M626.95 221.29H632.75M634.05 223.57L639.45 228.17M634.05 228.17L639.45 223.57M636.75 223.37V228.37M633.85 225.87H639.65M640.95 227.7L646.35 232.3M640.95 232.3L646.35 227.7M643.65 227.5V232.5M640.75 230H646.55M647.85 235.53L653.25 240.13M647.85 240.13L653.25 235.53M650.55 235.33V240.33M647.65 237.83H653.45M654.75 240.55L660.15 245.15M654.75 245.15L660.15 240.55M657.45 240.35V245.35M654.55 242.85H660.35M661.65 239.66L667.05 244.26M661.65 244.26L667.05 239.66M664.35 239.46V244.46M661.45 241.96H667.25M668.55 235.53L673.95 240.13M668.55 240.13L673.95 235.53M671.25 235.33V240.33M668.35 237.83H674.15M675.45 227.11L680.85 231.71M675.45 231.71L680.85 227.11M678.15 226.91V231.91M675.25 229.41H681.05M682.35 222.54L687.75 227.14M682.35 227.14L687.75 222.54M685.05 222.34V227.34M682.15 224.84H687.95M689.25 213.24L694.65 217.84M689.25 217.84L694.65 213.24M691.95 213.04V218.04M689.05 215.54H694.85M696.15 200.83L701.55 205.43M696.15 205.43L701.55 200.83M698.85 200.63V205.63M695.95 203.13H701.75M703.05 198.47L708.45 203.07M703.05 203.07L708.45 198.47M705.75 198.27V203.27M702.85 200.77H708.65M709.95 197.59L715.35 202.19M709.95 202.19L715.35 197.59M712.65 197.39V202.39M709.75 199.89H715.55M716.85 197.59L722.25 202.19M716.85 202.19L722.25 197.59M719.55 197.39V202.39M716.65 199.89H722.45M723.75 221.65L729.15 226.25M723.75 226.25L729.15 221.65M726.45 221.45V226.45M723.55 223.95H729.35M730.65 270.96L736.05 275.56M730.65 275.56L736.05 270.96M733.35 270.76V275.76M730.45 273.26H736.25M737.55 279.67L742.95 284.27M737.55 284.27L742.95 279.67M740.25 279.47V284.47M737.35 281.97H743.15M744.45 277.01L749.85 281.61M744.45 281.61L749.85 277.01M747.15 276.81V281.81M744.25 279.31H750.05M751.35 254.87L756.75 259.47M751.35 259.47L756.75 254.87M754.05 254.67V259.67M751.15 257.17H756.95M758.25 216.34L763.65 220.94M758.25 220.94L763.65 216.34M760.95 216.14V221.14M758.05 218.64H763.85M765.15 214.56L770.55 219.16M765.15 219.16L770.55 214.56M767.85 214.36V219.36M764.95 216.86H770.75" stroke="#00ff00" stroke-width="1.2"/><path d="M602.25 216.86L609.15 219.23L616.05 221.74L622.95 223.51L629.85 223.95L636.75 225.28L643.65 228.53L650.55 235.61L657.45 242.85L664.35 243.14L671.25 232.07L678.15 228.82L685.05 221L691.95 215.98L698.85 209.19L705.75 205.64L712.65 208.45L719.55 204.32L726.45 244.62L733.35 283.74L740.25 284.62L747.15 284.62L754.05 284.62L760.95 284.62L767.85 284.62" stroke="#0000ff" stroke-width="1.5" stroke-linejoin="round"/><path d="M599.55 214.56L604.95 219.16M599.55 219.16L604.95 214.56M602.25 214.36V219.36M599.35 216.86H605.15M606.45 216.93L611.85 221.53M606.45 221.53L611.85 216.93M609.15 216.73V221.73M606.25 219.23H612.05M613.35 219.44L618.75 224.04M613.35 224.04L618.75 219.44M616.05 219.24V224.24M613.15 221.74H618.95M620.25 221.21L625.65 225.81M620.25 225.81L625.65 221.21M622.95 221.01V226.01M620.05 223.51H625.85M627.15 221.65L632.55 226.25M627.15 226.25L632.55 221.65M629.85 221.45V226.45M626.95 223.95H632.75M634.05 222.98L639.45 227.58M634.05 227.58L639.45 222.98M636.75 222.78V227.78M633.85 225.28H639.65M640.95 226.23L646.35 230.83M640.95 230.83L646.35 226.23M643.65 226.03V231.03M640.75 228.53H646.55M647.85 233.31L653.25 237.91M647.85 237.91L653.25 233.31M650.55 233.11V238.11M647.65 235.61H653.45M654.75 240.55L660.15 245.15M654.75 245.15L660.15 240.55M657.45 240.35V245.35M654.55 242.85H660.35M661.65 240.84L667.05 245.44M661.65 245.44L667.05 240.84M664.35 240.64V245.64M661.45 243.14H667.25M668.55 229.77L673.95 234.37M668.55 234.37L673.95 229.77M671.25 229.57V234.57M668.35 232.07H674.15M675.45 226.52L680.85 231.12M675.45 231.12L680.85 226.52M678.15 226.32V231.32M675.25 228.82H681.05M682.35 218.7L687.75 223.3M682.35 223.3L687.75 218.7M685.05 218.5V223.5M682.15 221H687.95M689.25 213.68L694.65 218.28M689.25 218.28L694.65 213.68M691.95 213.48V218.48M689.05 215.98H694.85M696.15 206.89L701.55 211.49M696.15 211.49L701.55 206.89M698.85 206.69V211.69M695.95 209.19H701.75M703.05 203.34L708.45 207.94M703.05 207.94L708.45 203.34M705.75 203.14V208.14M702.85 205.64H708.65M709.95 206.15L715.35 210.75M709.95 210.75L715.35 206.15M712.65 205.95V210.95M709.75 208.45H715.55M716.85 202.02L722.25 206.62M716.85 206.62L722.25 202.02M719.55 201.82V206.82M716.65 204.32H722.45M723.75 242.32L729.15 246.92M723.75 246.92L729.15 242.32M726.45 242.12V247.12M723.55 244.62H729.35M730.65 281.44L736.05 286.04M730.65 286.04L736.05 281.44M733.35 281.24V286.24M730.45 283.74H736.25M737.55 282.32L742.95 286.92M737.55 286.92L742.95 282.32M740.25 282.12V287.12M737.35 284.62H743.15M744.45 282.32L749.85 286.92M744.45 286.92L749.85 282.32M747.15 282.12V287.12M744.25 284.62H750.05M751.35 282.32L756.75 286.92M751.35 286.92L756.75 282.32M754.05 282.12V287.12M751.15 284.62H756.95M758.25 282.32L763.65 286.92M758.25 286.92L763.65 282.32M760.95 282.12V287.12M758.05 284.62H763.85M765.15 282.32L770.55 286.92M765.15 286.92L770.55 282.32M767.85 282.12V287.12M764.95 284.62H770.75" stroke="#0000ff" stroke-width="1.2"/><path d="M602.25 284.62L609.15 284.62L616.05 284.62L622.95 285.51L629.85 285.51L636.75 285.07L643.65 279.31L650.55 271.19L657.45 273.55L664.35 257.17L671.25 225.87L678.15 220.41L685.05 209.19L691.95 199.89L698.85 195.31L705.75 191.77L712.65 190L719.55 194.13L726.45 205.64L733.35 244.17L740.25 280.79L747.15 279.01L754.05 284.33L760.95 280.79L767.85 258.94" stroke="#ff0000" stroke-width="1.5" stroke-linejoin="round"/><path d="M599.55 282.32L604.95 286.92M599.55 286.92L604.95 282.32M602.25 282.12V287.12M599.35 284.62H605.15M606.45 282.32L611.85 286.92M606.45 286.92L611.85 282.32M609.15 282.12V287.12M606.25 284.62H612.05M613.35 282.32L618.75 286.92M613.35 286.92L618.75 282.32M616.05 282.12V287.12M613.15 284.62H618.95M620.25 283.21L625.65 287.81M620.25 287.81L625.65 283.21M622.95 283.01V288.01M620.05 285.51H625.85M627.15 283.21L632.55 287.81M627.15 287.81L632.55 283.21M629.85 283.01V288.01M626.95 285.51H632.75M634.05 282.77L639.45 287.37M634.05 287.37L639.45 282.77M636.75 282.57V287.57M633.85 285.07H639.65M640.95 277.01L646.35 281.61M640.95 281.61L646.35 277.01M643.65 276.81V281.81M640.75 279.31H646.55M647.85 268.89L653.25 273.49M647.85 273.49L653.25 268.89M650.55 268.69V273.69M647.65 271.19H653.45M654.75 271.25L660.15 275.85M654.75 275.85L660.15 271.25M657.45 271.05V276.05M654.55 273.55H660.35M661.65 254.87L667.05 259.47M661.65 259.47L667.05 254.87M664.35 254.67V259.67M661.45 257.17H667.25M668.55 223.57L673.95 228.17M668.55 228.17L673.95 223.57M671.25 223.37V228.37M668.35 225.87H674.15M675.45 218.11L680.85 222.71M675.45 222.71L680.85 218.11M678.15 217.91V222.91M675.25 220.41H681.05M682.35 206.89L687.75 211.49M682.35 211.49L687.75 206.89M685.05 206.69V211.69M682.15 209.19H687.95M689.25 197.59L694.65 202.19M689.25 202.19L694.65 197.59M691.95 197.39V202.39M689.05 199.89H694.85M696.15 193.01L701.55 197.61M696.15 197.61L701.55 193.01M698.85 192.81V197.81M695.95 195.31H701.75M703.05 189.47L708.45 194.07M703.05 194.07L708.45 189.47M705.75 189.27V194.27M702.85 191.77H708.65M709.95 187.7L715.35 192.3M709.95 192.3L715.35 187.7M712.65 187.5V192.5M709.75 190H715.55M716.85 191.83L722.25 196.43M716.85 196.43L722.25 191.83M719.55 191.63V196.63M716.65 194.13H722.45M723.75 203.34L729.15 207.94M723.75 207.94L729.15 203.34M726.45 203.14V208.14M723.55 205.64H729.35M730.65 241.87L736.05 246.47M730.65 246.47L736.05 241.87M733.35 241.67V246.67M730.45 244.17H736.25M737.55 278.49L742.95 283.09M737.55 283.09L742.95 278.49M740.25 278.29V283.29M737.35 280.79H743.15M744.45 276.71L749.85 281.31M744.45 281.31L749.85 276.71M747.15 276.51V281.51M744.25 279.01H750.05M751.35 282.03L756.75 286.63M751.35 286.63L756.75 282.03M754.05 281.83V286.83M751.15 284.33H756.95M758.25 278.49L763.65 283.09M758.25 283.09L763.65 278.49M760.95 278.29V283.29M758.05 280.79H763.85M765.15 256.64L770.55 261.24M765.15 261.24L770.55 256.64M767.85 256.44V261.44M764.95 258.94H770.75" stroke="#ff0000" stroke-width="1.2"/></g><path d="M602 168H768.9M602 286.1H768.9" stroke="#000" stroke-width="1.8" fill="none"/><path d="M602.6 168V286.1M768.3 168V286.1" stroke="#000" stroke-width="1.3" fill="none"/><path d="M629.85 168v6M629.85 286.1v-6M657.45 168v6M657.45 286.1v-6M685.05 168v6M685.05 286.1v-6M712.65 168v6M712.65 286.1v-6M740.25 168v6M740.25 286.1v-6M616.05 168v4M616.05 286.1v-4M643.65 168v4M643.65 286.1v-4M671.25 168v4M671.25 286.1v-4M698.85 168v4M698.85 286.1v-4M726.45 168v4M726.45 286.1v-4M754.05 168v4M754.05 286.1v-4M602.6 256.58h6M768.3 256.58h-6M602.6 227.05h6M768.3 227.05h-6M602.6 197.53h6M768.3 197.53h-6M602.6 271.34h4M768.3 271.34h-4M602.6 241.81h4M768.3 241.81h-4M602.6 212.29h4M768.3 212.29h-4M602.6 182.76h4M768.3 182.76h-4" stroke="#000" stroke-width="1.1" fill="none"/><path d="M629.85 168V285.1M657.45 168V285.1M685.05 168V285.1M712.65 168V285.1M740.25 168V285.1M603.6 168H767.3M603.6 256.58H767.3M603.6 227.05H767.3M603.6 197.53H767.3" stroke="#000" stroke-width="1" stroke-dasharray="1.3 1.8" fill="none"/><g class="t" fill="#000"><text x="602.25" y="296.8" text-anchor="middle">0</text><text x="629.85" y="296.8" text-anchor="middle">4</text><text x="657.45" y="296.8" text-anchor="middle">8</text><text x="685.05" y="296.8" text-anchor="middle">12</text><text x="712.65" y="296.8" text-anchor="middle">16</text><text x="740.25" y="296.8" text-anchor="middle">20</text><text x="767.85" y="296.8" text-anchor="middle">24</text><text x="598.1" y="289.4" text-anchor="end">0</text><text x="598.1" y="259.88" text-anchor="end">20</text><text x="598.1" y="230.35" text-anchor="end">40</text><text x="598.1" y="200.83" text-anchor="end">60</text><text x="598.1" y="171.3" text-anchor="end">80</text></g><text class="n" x="685.45" y="310.8" text-anchor="middle" fill="#000" clip-path="url(#l13)">Sha Tin</text>
<clipPath id="c20"><rect x="23.6" y="316" width="165.7" height="118.1"/></clipPath><clipPath id="l20"><rect x="3.6" y="446.1" width="205.7" height="12.7"/></clipPath><g clip-path="url(#c20)" fill="none"><path d="M23.25 428.05L30.15 428.05L37.05 428.05L43.95 428.05L50.85 428.05L57.75 428.05L64.65 428.05L71.55 427.6L78.45 423.03L85.35 412.69L92.25 413.73L99.15 407.82L106.05 388.04L112.95 369.29L119.85 348.77L126.75 332.09L133.65 347.44L140.55 363.09L147.45 390.4L154.35 388.63L161.25 391.73L168.15 396.6L175.05 408.41L181.95 406.05L188.85 403.69" stroke="#00ffff" stroke-width="1.5" stroke-linejoin="round"/><path d="M20.55 425.75L25.95 430.35M20.55 430.35L25.95 425.75M23.25 425.55V430.55M20.35 428.05H26.15M27.45 425.75L32.85 430.35M27.45 430.35L32.85 425.75M30.15 425.55V430.55M27.25 428.05H33.05M34.35 425.75L39.75 430.35M34.35 430.35L39.75 425.75M37.05 425.55V430.55M34.15 428.05H39.95M41.25 425.75L46.65 430.35M41.25 430.35L46.65 425.75M43.95 425.55V430.55M41.05 428.05H46.85M48.15 425.75L53.55 430.35M48.15 430.35L53.55 425.75M50.85 425.55V430.55M47.95 428.05H53.75M55.05 425.75L60.45 430.35M55.05 430.35L60.45 425.75M57.75 425.55V430.55M54.85 428.05H60.65M61.95 425.75L67.35 430.35M61.95 430.35L67.35 425.75M64.65 425.55V430.55M61.75 428.05H67.55M68.85 425.3L74.25 429.9M68.85 429.9L74.25 425.3M71.55 425.1V430.1M68.65 427.6H74.45M75.75 420.73L81.15 425.33M75.75 425.33L81.15 420.73M78.45 420.53V425.53M75.55 423.03H81.35M82.65 410.39L88.05 414.99M82.65 414.99L88.05 410.39M85.35 410.19V415.19M82.45 412.69H88.25M89.55 411.43L94.95 416.03M89.55 416.03L94.95 411.43M92.25 411.23V416.23M89.35 413.73H95.15M96.45 405.52L101.85 410.12M96.45 410.12L101.85 405.52M99.15 405.32V410.32M96.25 407.82H102.05M103.35 385.74L108.75 390.34M103.35 390.34L108.75 385.74M106.05 385.54V390.54M103.15 388.04H108.95M110.25 366.99L115.65 371.59M110.25 371.59L115.65 366.99M112.95 366.79V371.79M110.05 369.29H115.85M117.15 346.47L122.55 351.07M117.15 351.07L122.55 346.47M119.85 346.27V351.27M116.95 348.77H122.75M124.05 329.79L129.45 334.39M124.05 334.39L129.45 329.79M126.75 329.59V334.59M123.85 332.09H129.65M130.95 345.14L136.35 349.74M130.95 349.74L136.35 345.14M133.65 344.94V349.94M130.75 347.44H136.55M137.85 360.79L143.25 365.39M137.85 365.39L143.25 360.79M140.55 360.59V365.59M137.65 363.09H143.45M144.75 388.1L150.15 392.7M144.75 392.7L150.15 388.1M147.45 387.9V392.9M144.55 390.4H150.35M151.65 386.33L157.05 390.93M151.65 390.93L157.05 386.33M154.35 386.13V391.13M151.45 388.63H157.25M158.55 389.43L163.95 394.03M158.55 394.03L163.95 389.43M161.25 389.23V394.23M158.35 391.73H164.15M165.45 394.3L170.85 398.9M165.45 398.9L170.85 394.3M168.15 394.1V399.1M165.25 396.6H171.05M172.35 406.11L177.75 410.71M172.35 410.71L177.75 406.11M175.05 405.91V410.91M172.15 408.41H177.95M179.25 403.75L184.65 408.35M179.25 408.35L184.65 403.75M181.95 403.55V408.55M179.05 406.05H184.85M186.15 401.39L191.55 405.99M186.15 405.99L191.55 401.39M188.85 401.19V406.19M185.95 403.69H191.75" stroke="#00ffff" stroke-width="1.2"/><path d="M23.25 406.05L30.15 417.27L37.05 373.28L43.95 376.23L50.85 373.87L57.75 373.28L64.65 381.84L71.55 380.36L78.45 380.96L85.35 381.55L92.25 378L99.15 373.87L106.05 366.19L112.95 359.99L119.85 353.2L126.75 351.73L133.65 353.2L140.55 362.21L147.45 356.45L154.35 367.96L161.25 398.82L168.15 424.8L175.05 424.8L181.95 407.82L188.85 373.87" stroke="#00ff00" stroke-width="1.5" stroke-linejoin="round"/><path d="M20.55 403.75L25.95 408.35M20.55 408.35L25.95 403.75M23.25 403.55V408.55M20.35 406.05H26.15M27.45 414.97L32.85 419.57M27.45 419.57L32.85 414.97M30.15 414.77V419.77M27.25 417.27H33.05M34.35 370.98L39.75 375.58M34.35 375.58L39.75 370.98M37.05 370.78V375.78M34.15 373.28H39.95M41.25 373.93L46.65 378.53M41.25 378.53L46.65 373.93M43.95 373.73V378.73M41.05 376.23H46.85M48.15 371.57L53.55 376.17M48.15 376.17L53.55 371.57M50.85 371.37V376.37M47.95 373.87H53.75M55.05 370.98L60.45 375.58M55.05 375.58L60.45 370.98M57.75 370.78V375.78M54.85 373.28H60.65M61.95 379.54L67.35 384.14M61.95 384.14L67.35 379.54M64.65 379.34V384.34M61.75 381.84H67.55M68.85 378.06L74.25 382.66M68.85 382.66L74.25 378.06M71.55 377.86V382.86M68.65 380.36H74.45M75.75 378.66L81.15 383.26M75.75 383.26L81.15 378.66M78.45 378.46V383.46M75.55 380.96H81.35M82.65 379.25L88.05 383.85M82.65 383.85L88.05 379.25M85.35 379.05V384.05M82.45 381.55H88.25M89.55 375.7L94.95 380.3M89.55 380.3L94.95 375.7M92.25 375.5V380.5M89.35 378H95.15M96.45 371.57L101.85 376.17M96.45 376.17L101.85 371.57M99.15 371.37V376.37M96.25 373.87H102.05M103.35 363.89L108.75 368.49M103.35 368.49L108.75 363.89M106.05 363.69V368.69M103.15 366.19H108.95M110.25 357.69L115.65 362.29M110.25 362.29L115.65 357.69M112.95 357.49V362.49M110.05 359.99H115.85M117.15 350.9L122.55 355.5M117.15 355.5L122.55 350.9M119.85 350.7V355.7M116.95 353.2H122.75M124.05 349.43L129.45 354.03M124.05 354.03L129.45 349.43M126.75 349.23V354.23M123.85 351.73H129.65M130.95 350.9L136.35 355.5M130.95 355.5L136.35 350.9M133.65 350.7V355.7M130.75 353.2H136.55M137.85 359.91L143.25 364.51M137.85 364.51L143.25 359.91M140.55 359.71V364.71M137.65 362.21H143.45M144.75 354.15L150.15 358.75M144.75 358.75L150.15 354.15M147.45 353.95V358.95M144.55 356.45H150.35M151.65 365.66L157.05 370.26M151.65 370.26L157.05 365.66M154.35 365.46V370.46M151.45 367.96H157.25M158.55 396.52L163.95 401.12M158.55 401.12L163.95 396.52M161.25 396.32V401.32M158.35 398.82H164.15M165.45 422.5L170.85 427.1M165.45 427.1L170.85 422.5M168.15 422.3V427.3M165.25 424.8H171.05M172.35 422.5L177.75 427.1M172.35 427.1L177.75 422.5M175.05 422.3V427.3M172.15 424.8H177.95M179.25 405.52L184.65 410.12M179.25 410.12L184.65 405.52M181.95 405.32V410.32M179.05 407.82H184.85M186.15 371.57L191.55 376.17M186.15 376.17L191.55 371.57M188.85 371.37V376.37M185.95 373.87H191.75" stroke="#00ff00" stroke-width="1.2"/><path d="M23.25 374.31L30.15 373.87L37.05 364.86L43.95 367.23L50.85 368.41L57.75 367.52L64.65 369.74L71.55 379.18L78.45 380.36L85.35 378.3L92.25 374.31L99.15 368.41L106.05 358.96L112.95 356.45L119.85 354.97L126.75 363.54L133.65 368.41L140.55 376.53L147.45 356.45L154.35 411.81L161.25 428.05L168.15 428.05L175.05 428.34L181.95 428.34L188.85 397.64" stroke="#0000ff" stroke-width="1.5" stroke-linejoin="round"/><path d="M20.55 372.01L25.95 376.61M20.55 376.61L25.95 372.01M23.25 371.81V376.81M20.35 374.31H26.15M27.45 371.57L32.85 376.17M27.45 376.17L32.85 371.57M30.15 371.37V376.37M27.25 373.87H33.05M34.35 362.56L39.75 367.16M34.35 367.16L39.75 362.56M37.05 362.36V367.36M34.15 364.86H39.95M41.25 364.93L46.65 369.53M41.25 369.53L46.65 364.93M43.95 364.73V369.73M41.05 367.23H46.85M48.15 366.11L53.55 370.71M48.15 370.71L53.55 366.11M50.85 365.91V370.91M47.95 368.41H53.75M55.05 365.22L60.45 369.82M55.05 369.82L60.45 365.22M57.75 365.02V370.02M54.85 367.52H60.65M61.95 367.44L67.35 372.04M61.95 372.04L67.35 367.44M64.65 367.24V372.24M61.75 369.74H67.55M68.85 376.88L74.25 381.48M68.85 381.48L74.25 376.88M71.55 376.68V381.68M68.65 379.18H74.45M75.75 378.06L81.15 382.66M75.75 382.66L81.15 378.06M78.45 377.86V382.86M75.55 380.36H81.35M82.65 376L88.05 380.6M82.65 380.6L88.05 376M85.35 375.8V380.8M82.45 378.3H88.25M89.55 372.01L94.95 376.61M89.55 376.61L94.95 372.01M92.25 371.81V376.81M89.35 374.31H95.15M96.45 366.11L101.85 370.71M96.45 370.71L101.85 366.11M99.15 365.91V370.91M96.25 368.41H102.05M103.35 356.66L108.75 361.26M103.35 361.26L108.75 356.66M106.05 356.46V361.46M103.15 358.96H108.95M110.25 354.15L115.65 358.75M110.25 358.75L115.65 354.15M112.95 353.95V358.95M110.05 356.45H115.85M117.15 352.67L122.55 357.27M117.15 357.27L122.55 352.67M119.85 352.47V357.47M116.95 354.97H122.75M124.05 361.24L129.45 365.84M124.05 365.84L129.45 361.24M126.75 361.04V366.04M123.85 363.54H129.65M130.95 366.11L136.35 370.71M130.95 370.71L136.35 366.11M133.65 365.91V370.91M130.75 368.41H136.55M137.85 374.23L143.25 378.83M137.85 378.83L143.25 374.23M140.55 374.03V379.03M137.65 376.53H143.45M144.75 354.15L150.15 358.75M144.75 358.75L150.15 354.15M147.45 353.95V358.95M144.55 356.45H150.35M151.65 409.51L157.05 414.11M151.65 414.11L157.05 409.51M154.35 409.31V414.31M151.45 411.81H157.25M158.55 425.75L163.95 430.35M158.55 430.35L163.95 425.75M161.25 425.55V430.55M158.35 428.05H164.15M165.45 425.75L170.85 430.35M165.45 430.35L170.85 425.75M168.15 425.55V430.55M165.25 428.05H171.05M172.35 426.04L177.75 430.64M172.35 430.64L177.75 426.04M175.05 425.84V430.84M172.15 428.34H177.95M179.25 426.04L184.65 430.64M179.25 430.64L184.65 426.04M181.95 425.84V430.84M179.05 428.34H184.85M186.15 395.34L191.55 399.94M186.15 399.94L191.55 395.34M188.85 395.14V400.14M185.95 397.64H191.75" stroke="#0000ff" stroke-width="1.2"/><path d="M23.25 397.05L30.15 378.59L37.05 373.87L43.95 381.84L50.85 378.3L57.75 390.85L64.65 389.07L71.55 383.61L78.45 392.91L85.35 402.36L92.25 382.28L99.15 379.18L106.05 372.84L112.95 370.18L119.85 357.19L126.75 357.63L133.65 361.76L140.55 362.5L147.45 373.87L154.35 373.87L161.25 388.04L168.15 365.16L175.05 369.15L181.95 403.69L188.85 395.27" stroke="#ff0000" stroke-width="1.5" stroke-linejoin="round"/><path d="M20.55 394.75L25.95 399.35M20.55 399.35L25.95 394.75M23.25 394.55V399.55M20.35 397.05H26.15M27.45 376.29L32.85 380.89M27.45 380.89L32.85 376.29M30.15 376.09V381.09M27.25 378.59H33.05M34.35 371.57L39.75 376.17M34.35 376.17L39.75 371.57M37.05 371.37V376.37M34.15 373.87H39.95M41.25 379.54L46.65 384.14M41.25 384.14L46.65 379.54M43.95 379.34V384.34M41.05 381.84H46.85M48.15 376L53.55 380.6M48.15 380.6L53.55 376M50.85 375.8V380.8M47.95 378.3H53.75M55.05 388.55L60.45 393.15M55.05 393.15L60.45 388.55M57.75 388.35V393.35M54.85 390.85H60.65M61.95 386.77L67.35 391.37M61.95 391.37L67.35 386.77M64.65 386.57V391.57M61.75 389.07H67.55M68.85 381.31L74.25 385.91M68.85 385.91L74.25 381.31M71.55 381.11V386.11M68.65 383.61H74.45M75.75 390.61L81.15 395.21M75.75 395.21L81.15 390.61M78.45 390.41V395.41M75.55 392.91H81.35M82.65 400.06L88.05 404.66M82.65 404.66L88.05 400.06M85.35 399.86V404.86M82.45 402.36H88.25M89.55 379.98L94.95 384.58M89.55 384.58L94.95 379.98M92.25 379.78V384.78M89.35 382.28H95.15M96.45 376.88L101.85 381.48M96.45 381.48L101.85 376.88M99.15 376.68V381.68M96.25 379.18H102.05M103.35 370.54L108.75 375.14M103.35 375.14L108.75 370.54M106.05 370.34V375.34M103.15 372.84H108.95M110.25 367.88L115.65 372.48M110.25 372.48L115.65 367.88M112.95 367.68V372.68M110.05 370.18H115.85M117.15 354.89L122.55 359.49M117.15 359.49L122.55 354.89M119.85 354.69V359.69M116.95 357.19H122.75M124.05 355.33L129.45 359.93M124.05 359.93L129.45 355.33M126.75 355.13V360.13M123.85 357.63H129.65M130.95 359.46L136.35 364.06M130.95 364.06L136.35 359.46M133.65 359.26V364.26M130.75 361.76H136.55M137.85 360.2L143.25 364.8M137.85 364.8L143.25 360.2M140.55 360V365M137.65 362.5H143.45M144.75 371.57L150.15 376.17M144.75 376.17L150.15 371.57M147.45 371.37V376.37M144.55 373.87H150.35M151.65 371.57L157.05 376.17M151.65 376.17L157.05 371.57M154.35 371.37V376.37M151.45 373.87H157.25M158.55 385.74L163.95 390.34M158.55 390.34L163.95 385.74M161.25 385.54V390.54M158.35 388.04H164.15M165.45 362.86L170.85 367.46M165.45 367.46L170.85 362.86M168.15 362.66V367.66M165.25 365.16H171.05M172.35 366.85L177.75 371.45M172.35 371.45L177.75 366.85M175.05 366.65V371.65M172.15 369.15H177.95M179.25 401.39L184.65 405.99M179.25 405.99L184.65 401.39M181.95 401.19V406.19M179.05 403.69H184.85M186.15 392.97L191.55 397.57M186.15 397.57L191.55 392.97M188.85 392.77V397.77M185.95 395.27H191.75" stroke="#ff0000" stroke-width="1.2"/></g><path d="M23 316H189.9M23 434.1H189.9" stroke="#000" stroke-width="1.8" fill="none"/><path d="M23.6 316V434.1M189.3 316V434.1" stroke="#000" stroke-width="1.3" fill="none"/><path d="M50.85 316v6M50.85 434.1v-6M78.45 316v6M78.45 434.1v-6M106.05 316v6M106.05 434.1v-6M133.65 316v6M133.65 434.1v-6M161.25 316v6M161.25 434.1v-6M37.05 316v4M37.05 434.1v-4M64.65 316v4M64.65 434.1v-4M92.25 316v4M92.25 434.1v-4M119.85 316v4M119.85 434.1v-4M147.45 316v4M147.45 434.1v-4M175.05 316v4M175.05 434.1v-4M23.6 404.58h6M189.3 404.58h-6M23.6 375.05h6M189.3 375.05h-6M23.6 345.53h6M189.3 345.53h-6M23.6 419.34h4M189.3 419.34h-4M23.6 389.81h4M189.3 389.81h-4M23.6 360.29h4M189.3 360.29h-4M23.6 330.76h4M189.3 330.76h-4" stroke="#000" stroke-width="1.1" fill="none"/><path d="M50.85 316V433.1M78.45 316V433.1M106.05 316V433.1M133.65 316V433.1M161.25 316V433.1M24.6 316H188.3M24.6 404.58H188.3M24.6 375.05H188.3M24.6 345.53H188.3" stroke="#000" stroke-width="1" stroke-dasharray="1.3 1.8" fill="none"/><g class="t" fill="#000"><text x="23.25" y="444.8" text-anchor="middle">0</text><text x="50.85" y="444.8" text-anchor="middle">4</text><text x="78.45" y="444.8" text-anchor="middle">8</text><text x="106.05" y="444.8" text-anchor="middle">12</text><text x="133.65" y="444.8" text-anchor="middle">16</text><text x="161.25" y="444.8" text-anchor="middle">20</text><text x="188.85" y="444.8" text-anchor="middle">24</text><text x="19.1" y="437.4" text-anchor="end">0</text><text x="19.1" y="407.88" text-anchor="end">20</text><text x="19.1" y="378.35" text-anchor="end">40</text><text x="19.1" y="348.83" text-anchor="end">60</text><text x="19.1" y="319.3" text-anchor="end">80</text></g><text class="n" x="106.45" y="458.8" text-anchor="middle" fill="#000" clip-path="url(#l20)" textLength="79.8" lengthAdjust="spacingAndGlyphs">Airport, Sha Chau</text>
<clipPath id="c21"><rect x="216.6" y="316" width="165.7" height="118.1"/></clipPath><clipPath id="l21"><rect x="196.6" y="446.1" width="205.7" height="12.7"/></clipPath><g clip-path="url(#c21)" fill="none"><path d="M216.25 431.59L223.15 431.59L230.05 431.59L236.95 431.89L243.85 418.01L250.75 428.05L257.65 423.91L264.55 417.27L271.45 423.32L278.35 431L285.25 429.23L292.15 428.34L299.05 428.79L305.95 428.79L312.85 428.05L319.75 429.82L326.65 423.91L333.55 426.87L340.45 429.82L347.35 431L354.25 431L361.15 431L368.05 431L374.95 430.56L381.85 429.82" stroke="#00ffff" stroke-width="1.5" stroke-linejoin="round"/><path d="M213.55 429.29L218.95 433.89M213.55 433.89L218.95 429.29M216.25 429.09V434.09M213.35 431.59H219.15M220.45 429.29L225.85 433.89M220.45 433.89L225.85 429.29M223.15 429.09V434.09M220.25 431.59H226.05M227.35 429.29L232.75 433.89M227.35 433.89L232.75 429.29M230.05 429.09V434.09M227.15 431.59H232.95M234.25 429.59L239.65 434.19M234.25 434.19L239.65 429.59M236.95 429.39V434.39M234.05 431.89H239.85M241.15 415.71L246.55 420.31M241.15 420.31L246.55 415.71M243.85 415.51V420.51M240.95 418.01H246.75M248.05 425.75L253.45 430.35M248.05 430.35L253.45 425.75M250.75 425.55V430.55M247.85 428.05H253.65M254.95 421.61L260.35 426.21M254.95 426.21L260.35 421.61M257.65 421.41V426.41M254.75 423.91H260.55M261.85 414.97L267.25 419.57M261.85 419.57L267.25 414.97M264.55 414.77V419.77M261.65 417.27H267.45M268.75 421.02L274.15 425.62M268.75 425.62L274.15 421.02M271.45 420.82V425.82M268.55 423.32H274.35M275.65 428.7L281.05 433.3M275.65 433.3L281.05 428.7M278.35 428.5V433.5M275.45 431H281.25M282.55 426.93L287.95 431.53M282.55 431.53L287.95 426.93M285.25 426.73V431.73M282.35 429.23H288.15M289.45 426.04L294.85 430.64M289.45 430.64L294.85 426.04M292.15 425.84V430.84M289.25 428.34H295.05M296.35 426.49L301.75 431.09M296.35 431.09L301.75 426.49M299.05 426.29V431.29M296.15 428.79H301.95M303.25 426.49L308.65 431.09M303.25 431.09L308.65 426.49M305.95 426.29V431.29M303.05 428.79H308.85M310.15 425.75L315.55 430.35M310.15 430.35L315.55 425.75M312.85 425.55V430.55M309.95 428.05H315.75M317.05 427.52L322.45 432.12M317.05 432.12L322.45 427.52M319.75 427.32V432.32M316.85 429.82H322.65M323.95 421.61L329.35 426.21M323.95 426.21L329.35 421.61M326.65 421.41V426.41M323.75 423.91H329.55M330.85 424.57L336.25 429.17M330.85 429.17L336.25 424.57M333.55 424.37V429.37M330.65 426.87H336.45M337.75 427.52L343.15 432.12M337.75 432.12L343.15 427.52M340.45 427.32V432.32M337.55 429.82H343.35M344.65 428.7L350.05 433.3M344.65 433.3L350.05 428.7M347.35 428.5V433.5M344.45 431H350.25M351.55 428.7L356.95 433.3M351.55 433.3L356.95 428.7M354.25 428.5V433.5M351.35 431H357.15M358.45 428.7L363.85 433.3M358.45 433.3L363.85 428.7M361.15 428.5V433.5M358.25 431H364.05M365.35 428.7L370.75 433.3M365.35 433.3L370.75 428.7M368.05 428.5V433.5M365.15 431H370.95M372.25 428.26L377.65 432.86M372.25 432.86L377.65 428.26M374.95 428.06V433.06M372.05 430.56H377.85M379.15 427.52L384.55 432.12M379.15 432.12L384.55 427.52M381.85 427.32V432.32M378.95 429.82H384.75" stroke="#00ffff" stroke-width="1.2"/><path d="M216.25 431.59L223.15 419.04L230.05 395.87L236.95 386.42L243.85 376.82L250.75 380.07L257.65 382.73L264.55 392.62L271.45 397.05L278.35 390.4L285.25 398.82L292.15 394.39L299.05 386.42L305.95 373.28L312.85 389.07L319.75 391.73L326.65 381.1L333.55 378.3L340.45 402.95L347.35 426.13L354.25 416.24L361.15 373.87L368.05 357.19L374.95 361.76L381.85 364.86" stroke="#00ff00" stroke-width="1.5" stroke-linejoin="round"/><path d="M213.55 429.29L218.95 433.89M213.55 433.89L218.95 429.29M216.25 429.09V434.09M213.35 431.59H219.15M220.45 416.74L225.85 421.34M220.45 421.34L225.85 416.74M223.15 416.54V421.54M220.25 419.04H226.05M227.35 393.57L232.75 398.17M227.35 398.17L232.75 393.57M230.05 393.37V398.37M227.15 395.87H232.95M234.25 384.12L239.65 388.72M234.25 388.72L239.65 384.12M236.95 383.92V388.92M234.05 386.42H239.85M241.15 374.52L246.55 379.12M241.15 379.12L246.55 374.52M243.85 374.32V379.32M240.95 376.82H246.75M248.05 377.77L253.45 382.37M248.05 382.37L253.45 377.77M250.75 377.57V382.57M247.85 380.07H253.65M254.95 380.43L260.35 385.03M254.95 385.03L260.35 380.43M257.65 380.23V385.23M254.75 382.73H260.55M261.85 390.32L267.25 394.92M261.85 394.92L267.25 390.32M264.55 390.12V395.12M261.65 392.62H267.45M268.75 394.75L274.15 399.35M268.75 399.35L274.15 394.75M271.45 394.55V399.55M268.55 397.05H274.35M275.65 388.1L281.05 392.7M275.65 392.7L281.05 388.1M278.35 387.9V392.9M275.45 390.4H281.25M282.55 396.52L287.95 401.12M282.55 401.12L287.95 396.52M285.25 396.32V401.32M282.35 398.82H288.15M289.45 392.09L294.85 396.69M289.45 396.69L294.85 392.09M292.15 391.89V396.89M289.25 394.39H295.05M296.35 384.12L301.75 388.72M296.35 388.72L301.75 384.12M299.05 383.92V388.92M296.15 386.42H301.95M303.25 370.98L308.65 375.58M303.25 375.58L308.65 370.98M305.95 370.78V375.78M303.05 373.28H308.85M310.15 386.77L315.55 391.37M310.15 391.37L315.55 386.77M312.85 386.57V391.57M309.95 389.07H315.75M317.05 389.43L322.45 394.03M317.05 394.03L322.45 389.43M319.75 389.23V394.23M316.85 391.73H322.65M323.95 378.8L329.35 383.4M323.95 383.4L329.35 378.8M326.65 378.6V383.6M323.75 381.1H329.55M330.85 376L336.25 380.6M330.85 380.6L336.25 376M333.55 375.8V380.8M330.65 378.3H336.45M337.75 400.65L343.15 405.25M337.75 405.25L343.15 400.65M340.45 400.45V405.45M337.55 402.95H343.35M344.65 423.83L350.05 428.43M344.65 428.43L350.05 423.83M347.35 423.63V428.63M344.45 426.13H350.25M351.55 413.94L356.95 418.54M351.55 418.54L356.95 413.94M354.25 413.74V418.74M351.35 416.24H357.15M358.45 371.57L363.85 376.17M358.45 376.17L363.85 371.57M361.15 371.37V376.37M358.25 373.87H364.05M365.35 354.89L370.75 359.49M365.35 359.49L370.75 354.89M368.05 354.69V359.69M365.15 357.19H370.95M372.25 359.46L377.65 364.06M372.25 364.06L377.65 359.46M374.95 359.26V364.26M372.05 361.76H377.85M379.15 362.56L384.55 367.16M379.15 367.16L384.55 362.56M381.85 362.36V367.36M378.95 364.86H384.75" stroke="#00ff00" stroke-width="1.2"/><path d="M216.25 366.19L223.15 374.31L230.05 374.75L236.95 373.87L243.85 371.95L250.75 376.82L257.65 381.55L264.55 387.6L271.45 399.41L278.35 407.82L285.25 417.27L292.15 409.59L299.05 398.37L305.95 378.59L312.85 371.95L319.75 406.49L326.65 409.59L333.55 423.91L340.45 429.23L347.35 431.59L354.25 431.59L361.15 431.59L368.05 431.59L374.95 431L381.85 423.91" stroke="#0000ff" stroke-width="1.5" stroke-linejoin="round"/><path d="M213.55 363.89L218.95 368.49M213.55 368.49L218.95 363.89M216.25 363.69V368.69M213.35 366.19H219.15M220.45 372.01L225.85 376.61M220.45 376.61L225.85 372.01M223.15 371.81V376.81M220.25 374.31H226.05M227.35 372.45L232.75 377.05M227.35 377.05L232.75 372.45M230.05 372.25V377.25M227.15 374.75H232.95M234.25 371.57L239.65 376.17M234.25 376.17L239.65 371.57M236.95 371.37V376.37M234.05 373.87H239.85M241.15 369.65L246.55 374.25M241.15 374.25L246.55 369.65M243.85 369.45V374.45M240.95 371.95H246.75M248.05 374.52L253.45 379.12M248.05 379.12L253.45 374.52M250.75 374.32V379.32M247.85 376.82H253.65M254.95 379.25L260.35 383.85M254.95 383.85L260.35 379.25M257.65 379.05V384.05M254.75 381.55H260.55M261.85 385.3L267.25 389.9M261.85 389.9L267.25 385.3M264.55 385.1V390.1M261.65 387.6H267.45M268.75 397.11L274.15 401.71M268.75 401.71L274.15 397.11M271.45 396.91V401.91M268.55 399.41H274.35M275.65 405.52L281.05 410.12M275.65 410.12L281.05 405.52M278.35 405.32V410.32M275.45 407.82H281.25M282.55 414.97L287.95 419.57M282.55 419.57L287.95 414.97M285.25 414.77V419.77M282.35 417.27H288.15M289.45 407.29L294.85 411.89M289.45 411.89L294.85 407.29M292.15 407.09V412.09M289.25 409.59H295.05M296.35 396.07L301.75 400.67M296.35 400.67L301.75 396.07M299.05 395.87V400.87M296.15 398.37H301.95M303.25 376.29L308.65 380.89M303.25 380.89L308.65 376.29M305.95 376.09V381.09M303.05 378.59H308.85M310.15 369.65L315.55 374.25M310.15 374.25L315.55 369.65M312.85 369.45V374.45M309.95 371.95H315.75M317.05 404.19L322.45 408.79M317.05 408.79L322.45 404.19M319.75 403.99V408.99M316.85 406.49H322.65M323.95 407.29L329.35 411.89M323.95 411.89L329.35 407.29M326.65 407.09V412.09M323.75 409.59H329.55M330.85 421.61L336.25 426.21M330.85 426.21L336.25 421.61M333.55 421.41V426.41M330.65 423.91H336.45M337.75 426.93L343.15 431.53M337.75 431.53L343.15 426.93M340.45 426.73V431.73M337.55 429.23H343.35M344.65 429.29L350.05 433.89M344.65 433.89L350.05 429.29M347.35 429.09V434.09M344.45 431.59H350.25M351.55 429.29L356.95 433.89M351.55 433.89L356.95 429.29M354.25 429.09V434.09M351.35 431.59H357.15M358.45 429.29L363.85 433.89M358.45 433.89L363.85 429.29M361.15 429.09V434.09M358.25 431.59H364.05M365.35 429.29L370.75 433.89M365.35 433.89L370.75 429.29M368.05 429.09V434.09M365.15 431.59H370.95M372.25 428.7L377.65 433.3M372.25 433.3L377.65 428.7M374.95 428.5V433.5M372.05 431H377.85M379.15 421.61L384.55 426.21M379.15 426.21L384.55 421.61M381.85 421.41V426.41M378.95 423.91H384.75" stroke="#0000ff" stroke-width="1.2"/><path d="M216.25 424.06L223.15 403.39L230.05 393.5L236.95 377.41L243.85 379.77L250.75 383.32L257.65 377.41L264.55 373.87L271.45 387.6L278.35 407.82L285.25 394.68L292.15 393.5L299.05 407.23L305.95 366.78L312.85 381.55L319.75 368.41L326.65 366.78L333.55 373.87L340.45 377.41L347.35 392.62L354.25 403.69L361.15 386.86L368.05 379.77L374.95 369L381.85 369" stroke="#ff0000" stroke-width="1.5" stroke-linejoin="round"/><path d="M213.55 421.76L218.95 426.36M213.55 426.36L218.95 421.76M216.25 421.56V426.56M213.35 424.06H219.15M220.45 401.09L225.85 405.69M220.45 405.69L225.85 401.09M223.15 400.89V405.89M220.25 403.39H226.05M227.35 391.2L232.75 395.8M227.35 395.8L232.75 391.2M230.05 391V396M227.15 393.5H232.95M234.25 375.11L239.65 379.71M234.25 379.71L239.65 375.11M236.95 374.91V379.91M234.05 377.41H239.85M241.15 377.47L246.55 382.07M241.15 382.07L246.55 377.47M243.85 377.27V382.27M240.95 379.77H246.75M248.05 381.02L253.45 385.62M248.05 385.62L253.45 381.02M250.75 380.82V385.82M247.85 383.32H253.65M254.95 375.11L260.35 379.71M254.95 379.71L260.35 375.11M257.65 374.91V379.91M254.75 377.41H260.55M261.85 371.57L267.25 376.17M261.85 376.17L267.25 371.57M264.55 371.37V376.37M261.65 373.87H267.45M268.75 385.3L274.15 389.9M268.75 389.9L274.15 385.3M271.45 385.1V390.1M268.55 387.6H274.35M275.65 405.52L281.05 410.12M275.65 410.12L281.05 405.52M278.35 405.32V410.32M275.45 407.82H281.25M282.55 392.38L287.95 396.98M282.55 396.98L287.95 392.38M285.25 392.18V397.18M282.35 394.68H288.15M289.45 391.2L294.85 395.8M289.45 395.8L294.85 391.2M292.15 391V396M289.25 393.5H295.05M296.35 404.93L301.75 409.53M296.35 409.53L301.75 404.93M299.05 404.73V409.73M296.15 407.23H301.95M303.25 364.48L308.65 369.08M303.25 369.08L308.65 364.48M305.95 364.28V369.28M303.05 366.78H308.85M310.15 379.25L315.55 383.85M310.15 383.85L315.55 379.25M312.85 379.05V384.05M309.95 381.55H315.75M317.05 366.11L322.45 370.71M317.05 370.71L322.45 366.11M319.75 365.91V370.91M316.85 368.41H322.65M323.95 364.48L329.35 369.08M323.95 369.08L329.35 364.48M326.65 364.28V369.28M323.75 366.78H329.55M330.85 371.57L336.25 376.17M330.85 376.17L336.25 371.57M333.55 371.37V376.37M330.65 373.87H336.45M337.75 375.11L343.15 379.71M337.75 379.71L343.15 375.11M340.45 374.91V379.91M337.55 377.41H343.35M344.65 390.32L350.05 394.92M344.65 394.92L350.05 390.32M347.35 390.12V395.12M344.45 392.62H350.25M351.55 401.39L356.95 405.99M351.55 405.99L356.95 401.39M354.25 401.19V406.19M351.35 403.69H357.15M358.45 384.56L363.85 389.16M358.45 389.16L363.85 384.56M361.15 384.36V389.36M358.25 386.86H364.05M365.35 377.47L370.75 382.07M365.35 382.07L370.75 377.47M368.05 377.27V382.27M365.15 379.77H370.95M372.25 366.7L377.65 371.3M372.25 371.3L377.65 366.7M374.95 366.5V371.5M372.05 369H377.85M379.15 366.7L384.55 371.3M379.15 371.3L384.55 366.7M381.85 366.5V371.5M378.95 369H384.75" stroke="#ff0000" stroke-width="1.2"/></g><path d="M216 316H382.9M216 434.1H382.9" stroke="#000" stroke-width="1.8" fill="none"/><path d="M216.6 316V434.1M382.3 316V434.1" stroke="#000" stroke-width="1.3" fill="none"/><path d="M243.85 316v6M243.85 434.1v-6M271.45 316v6M271.45 434.1v-6M299.05 316v6M299.05 434.1v-6M326.65 316v6M326.65 434.1v-6M354.25 316v6M354.25 434.1v-6M230.05 316v4M230.05 434.1v-4M257.65 316v4M257.65 434.1v-4M285.25 316v4M285.25 434.1v-4M312.85 316v4M312.85 434.1v-4M340.45 316v4M340.45 434.1v-4M368.05 316v4M368.05 434.1v-4M216.6 404.58h6M382.3 404.58h-6M216.6 375.05h6M382.3 375.05h-6M216.6 345.53h6M382.3 345.53h-6M216.6 419.34h4M382.3 419.34h-4M216.6 389.81h4M382.3 389.81h-4M216.6 360.29h4M382.3 360.29h-4M216.6 330.76h4M382.3 330.76h-4" stroke="#000" stroke-width="1.1" fill="none"/><path d="M243.85 316V433.1M271.45 316V433.1M299.05 316V433.1M326.65 316V433.1M354.25 316V433.1M217.6 316H381.3M217.6 404.58H381.3M217.6 375.05H381.3M217.6 345.53H381.3" stroke="#000" stroke-width="1" stroke-dasharray="1.3 1.8" fill="none"/><g class="t" fill="#000"><text x="216.25" y="444.8" text-anchor="middle">0</text><text x="243.85" y="444.8" text-anchor="middle">4</text><text x="271.45" y="444.8" text-anchor="middle">8</text><text x="299.05" y="444.8" text-anchor="middle">12</text><text x="326.65" y="444.8" text-anchor="middle">16</text><text x="354.25" y="444.8" text-anchor="middle">20</text><text x="381.85" y="444.8" text-anchor="middle">24</text><text x="212.1" y="437.4" text-anchor="end">0</text><text x="212.1" y="407.88" text-anchor="end">20</text><text x="212.1" y="378.35" text-anchor="end">40</text><text x="212.1" y="348.83" text-anchor="end">60</text><text x="212.1" y="319.3" text-anchor="end">80</text></g><text class="n" x="299.45" y="458.8" text-anchor="middle" fill="#000" clip-path="url(#l21)">Kwai Chung</text>
<clipPath id="c22"><rect x="409.6" y="316" width="165.7" height="118.1"/></clipPath><clipPath id="l22"><rect x="389.6" y="446.1" width="205.7" height="12.7"/></clipPath><g clip-path="url(#c22)" fill="none"><path d="M409.25 431.59L416.15 431.59L423.05 431.59L429.95 429.23L436.85 406.49L443.75 402.95L450.65 411.37L457.55 419.04L464.45 428.05L471.35 429.82L478.25 430.56L485.15 429.23L492.05 428.05L498.95 429.82L505.85 429.82L512.75 429.23L519.65 429.23L526.55 429.23L533.45 429.82L540.35 429.23L547.25 422.14L554.15 421.55L561.05 423.03L567.95 417.42L574.85 419.93" stroke="#00ffff" stroke-width="1.5" stroke-linejoin="round"/><path d="M406.55 429.29L411.95 433.89M406.55 433.89L411.95 429.29M409.25 429.09V434.09M406.35 431.59H412.15M413.45 429.29L418.85 433.89M413.45 433.89L418.85 429.29M416.15 429.09V434.09M413.25 431.59H419.05M420.35 429.29L425.75 433.89M420.35 433.89L425.75 429.29M423.05 429.09V434.09M420.15 431.59H425.95M427.25 426.93L432.65 431.53M427.25 431.53L432.65 426.93M429.95 426.73V431.73M427.05 429.23H432.85M434.15 404.19L439.55 408.79M434.15 408.79L439.55 404.19M436.85 403.99V408.99M433.95 406.49H439.75M441.05 400.65L446.45 405.25M441.05 405.25L446.45 400.65M443.75 400.45V405.45M440.85 402.95H446.65M447.95 409.07L453.35 413.67M447.95 413.67L453.35 409.07M450.65 408.87V413.87M447.75 411.37H453.55M454.85 416.74L460.25 421.34M454.85 421.34L460.25 416.74M457.55 416.54V421.54M454.65 419.04H460.45M461.75 425.75L467.15 430.35M461.75 430.35L467.15 425.75M464.45 425.55V430.55M461.55 428.05H467.35M468.65 427.52L474.05 432.12M468.65 432.12L474.05 427.52M471.35 427.32V432.32M468.45 429.82H474.25M475.55 428.26L480.95 432.86M475.55 432.86L480.95 428.26M478.25 428.06V433.06M475.35 430.56H481.15M482.45 426.93L487.85 431.53M482.45 431.53L487.85 426.93M485.15 426.73V431.73M482.25 429.23H488.05M489.35 425.75L494.75 430.35M489.35 430.35L494.75 425.75M492.05 425.55V430.55M489.15 428.05H494.95M496.25 427.52L501.65 432.12M496.25 432.12L501.65 427.52M498.95 427.32V432.32M496.05 429.82H501.85M503.15 427.52L508.55 432.12M503.15 432.12L508.55 427.52M505.85 427.32V432.32M502.95 429.82H508.75M510.05 426.93L515.45 431.53M510.05 431.53L515.45 426.93M512.75 426.73V431.73M509.85 429.23H515.65M516.95 426.93L522.35 431.53M516.95 431.53L522.35 426.93M519.65 426.73V431.73M516.75 429.23H522.55M523.85 426.93L529.25 431.53M523.85 431.53L529.25 426.93M526.55 426.73V431.73M523.65 429.23H529.45M530.75 427.52L536.15 432.12M530.75 432.12L536.15 427.52M533.45 427.32V432.32M530.55 429.82H536.35M537.65 426.93L543.05 431.53M537.65 431.53L543.05 426.93M540.35 426.73V431.73M537.45 429.23H543.25M544.55 419.84L549.95 424.44M544.55 424.44L549.95 419.84M547.25 419.64V424.64M544.35 422.14H550.15M551.45 419.25L556.85 423.85M551.45 423.85L556.85 419.25M554.15 419.05V424.05M551.25 421.55H557.05M558.35 420.73L563.75 425.33M558.35 425.33L563.75 420.73M561.05 420.53V425.53M558.15 423.03H563.95M565.25 415.12L570.65 419.72M565.25 419.72L570.65 415.12M567.95 414.92V419.92M565.05 417.42H570.85M572.15 417.63L577.55 422.23M572.15 422.23L577.55 417.63M574.85 417.43V422.43M571.95 419.93H577.75" stroke="#00ffff" stroke-width="1.2"/><path d="M409.25 419.04L416.15 404.72L423.05 386.42L429.95 388.19L436.85 381.4L443.75 378.89L450.65 384.35L457.55 400L464.45 417.42L471.35 417.71L478.25 412.1L485.15 408.41L492.05 406.05L498.95 416.24L505.85 418.6L512.75 415.79L519.65 416.83L526.55 415.79L533.45 423.32L540.35 425.69L547.25 421.26L554.15 402.95L561.05 409.59L567.95 397.05L574.85 403.69" stroke="#00ff00" stroke-width="1.5" stroke-linejoin="round"/><path d="M406.55 416.74L411.95 421.34M406.55 421.34L411.95 416.74M409.25 416.54V421.54M406.35 419.04H412.15M413.45 402.42L418.85 407.02M413.45 407.02L418.85 402.42M416.15 402.22V407.22M413.25 404.72H419.05M420.35 384.12L425.75 388.72M420.35 388.72L425.75 384.12M423.05 383.92V388.92M420.15 386.42H425.95M427.25 385.89L432.65 390.49M427.25 390.49L432.65 385.89M429.95 385.69V390.69M427.05 388.19H432.85M434.15 379.1L439.55 383.7M434.15 383.7L439.55 379.1M436.85 378.9V383.9M433.95 381.4H439.75M441.05 376.59L446.45 381.19M441.05 381.19L446.45 376.59M443.75 376.39V381.39M440.85 378.89H446.65M447.95 382.05L453.35 386.65M447.95 386.65L453.35 382.05M450.65 381.85V386.85M447.75 384.35H453.55M454.85 397.7L460.25 402.3M454.85 402.3L460.25 397.7M457.55 397.5V402.5M454.65 400H460.45M461.75 415.12L467.15 419.72M461.75 419.72L467.15 415.12M464.45 414.92V419.92M461.55 417.42H467.35M468.65 415.41L474.05 420.01M468.65 420.01L474.05 415.41M471.35 415.21V420.21M468.45 417.71H474.25M475.55 409.8L480.95 414.4M475.55 414.4L480.95 409.8M478.25 409.6V414.6M475.35 412.1H481.15M482.45 406.11L487.85 410.71M482.45 410.71L487.85 406.11M485.15 405.91V410.91M482.25 408.41H488.05M489.35 403.75L494.75 408.35M489.35 408.35L494.75 403.75M492.05 403.55V408.55M489.15 406.05H494.95M496.25 413.94L501.65 418.54M496.25 418.54L501.65 413.94M498.95 413.74V418.74M496.05 416.24H501.85M503.15 416.3L508.55 420.9M503.15 420.9L508.55 416.3M505.85 416.1V421.1M502.95 418.6H508.75M510.05 413.49L515.45 418.09M510.05 418.09L515.45 413.49M512.75 413.29V418.29M509.85 415.79H515.65M516.95 414.53L522.35 419.13M516.95 419.13L522.35 414.53M519.65 414.33V419.33M516.75 416.83H522.55M523.85 413.49L529.25 418.09M523.85 418.09L529.25 413.49M526.55 413.29V418.29M523.65 415.79H529.45M530.75 421.02L536.15 425.62M530.75 425.62L536.15 421.02M533.45 420.82V425.82M530.55 423.32H536.35M537.65 423.39L543.05 427.99M537.65 427.99L543.05 423.39M540.35 423.19V428.19M537.45 425.69H543.25M544.55 418.96L549.95 423.56M544.55 423.56L549.95 418.96M547.25 418.76V423.76M544.35 421.26H550.15M551.45 400.65L556.85 405.25M551.45 405.25L556.85 400.65M554.15 400.45V405.45M551.25 402.95H557.05M558.35 407.29L563.75 411.89M558.35 411.89L563.75 407.29M561.05 407.09V412.09M558.15 409.59H563.95M565.25 394.75L570.65 399.35M565.25 399.35L570.65 394.75M567.95 394.55V399.55M565.05 397.05H570.85M572.15 401.39L577.55 405.99M572.15 405.99L577.55 401.39M574.85 401.19V406.19M571.95 403.69H577.75" stroke="#00ff00" stroke-width="1.2"/><path d="M409.25 403.39L416.15 391.73L423.05 378.59L429.95 379.77L436.85 382.73L443.75 382.73L450.65 392.62L457.55 398.37L464.45 408.41L471.35 419.04L478.25 410.92L485.15 412.25L492.05 406.94L498.95 408.41L505.85 400.59L512.75 406.05L519.65 419.04L526.55 424.8L533.45 426.57L540.35 429.82L547.25 431.59L554.15 431L561.05 430.56L567.95 431L574.85 426.28" stroke="#0000ff" stroke-width="1.5" stroke-linejoin="round"/><path d="M406.55 401.09L411.95 405.69M406.55 405.69L411.95 401.09M409.25 400.89V405.89M406.35 403.39H412.15M413.45 389.43L418.85 394.03M413.45 394.03L418.85 389.43M416.15 389.23V394.23M413.25 391.73H419.05M420.35 376.29L425.75 380.89M420.35 380.89L425.75 376.29M423.05 376.09V381.09M420.15 378.59H425.95M427.25 377.47L432.65 382.07M427.25 382.07L432.65 377.47M429.95 377.27V382.27M427.05 379.77H432.85M434.15 380.43L439.55 385.03M434.15 385.03L439.55 380.43M436.85 380.23V385.23M433.95 382.73H439.75M441.05 380.43L446.45 385.03M441.05 385.03L446.45 380.43M443.75 380.23V385.23M440.85 382.73H446.65M447.95 390.32L453.35 394.92M447.95 394.92L453.35 390.32M450.65 390.12V395.12M447.75 392.62H453.55M454.85 396.07L460.25 400.67M454.85 400.67L460.25 396.07M457.55 395.87V400.87M454.65 398.37H460.45M461.75 406.11L467.15 410.71M461.75 410.71L467.15 406.11M464.45 405.91V410.91M461.55 408.41H467.35M468.65 416.74L474.05 421.34M468.65 421.34L474.05 416.74M471.35 416.54V421.54M468.45 419.04H474.25M475.55 408.62L480.95 413.22M475.55 413.22L480.95 408.62M478.25 408.42V413.42M475.35 410.92H481.15M482.45 409.95L487.85 414.55M482.45 414.55L487.85 409.95M485.15 409.75V414.75M482.25 412.25H488.05M489.35 404.64L494.75 409.24M489.35 409.24L494.75 404.64M492.05 404.44V409.44M489.15 406.94H494.95M496.25 406.11L501.65 410.71M496.25 410.71L501.65 406.11M498.95 405.91V410.91M496.05 408.41H501.85M503.15 398.29L508.55 402.89M503.15 402.89L508.55 398.29M505.85 398.09V403.09M502.95 400.59H508.75M510.05 403.75L515.45 408.35M510.05 408.35L515.45 403.75M512.75 403.55V408.55M509.85 406.05H515.65M516.95 416.74L522.35 421.34M516.95 421.34L522.35 416.74M519.65 416.54V421.54M516.75 419.04H522.55M523.85 422.5L529.25 427.1M523.85 427.1L529.25 422.5M526.55 422.3V427.3M523.65 424.8H529.45M530.75 424.27L536.15 428.87M530.75 428.87L536.15 424.27M533.45 424.07V429.07M530.55 426.57H536.35M537.65 427.52L543.05 432.12M537.65 432.12L543.05 427.52M540.35 427.32V432.32M537.45 429.82H543.25M544.55 429.29L549.95 433.89M544.55 433.89L549.95 429.29M547.25 429.09V434.09M544.35 431.59H550.15M551.45 428.7L556.85 433.3M551.45 433.3L556.85 428.7M554.15 428.5V433.5M551.25 431H557.05M558.35 428.26L563.75 432.86M558.35 432.86L563.75 428.26M561.05 428.06V433.06M558.15 430.56H563.95M565.25 428.7L570.65 433.3M565.25 433.3L570.65 428.7M567.95 428.5V433.5M565.05 431H570.85M572.15 423.98L577.55 428.58M572.15 428.58L577.55 423.98M574.85 423.78V428.78M571.95 426.28H577.75" stroke="#0000ff" stroke-width="1.2"/><path d="M409.25 424.06L416.15 418.6L423.05 408.41L429.95 403.69L436.85 388.63L443.75 380.36L450.65 388.63L457.55 408.86L464.45 417.71L471.35 417.71L478.25 415.79L485.15 415.79L492.05 402.66L498.95 406.94L505.85 404.72L512.75 394.39L519.65 392.91L526.55 403.39L533.45 408.86L540.35 424.06L547.25 415.79L554.15 412.25L561.05 416.83L567.95 413.73L574.85 414.02" stroke="#ff0000" stroke-width="1.5" stroke-linejoin="round"/><path d="M406.55 421.76L411.95 426.36M406.55 426.36L411.95 421.76M409.25 421.56V426.56M406.35 424.06H412.15M413.45 416.3L418.85 420.9M413.45 420.9L418.85 416.3M416.15 416.1V421.1M413.25 418.6H419.05M420.35 406.11L425.75 410.71M420.35 410.71L425.75 406.11M423.05 405.91V410.91M420.15 408.41H425.95M427.25 401.39L432.65 405.99M427.25 405.99L432.65 401.39M429.95 401.19V406.19M427.05 403.69H432.85M434.15 386.33L439.55 390.93M434.15 390.93L439.55 386.33M436.85 386.13V391.13M433.95 388.63H439.75M441.05 378.06L446.45 382.66M441.05 382.66L446.45 378.06M443.75 377.86V382.86M440.85 380.36H446.65M447.95 386.33L453.35 390.93M447.95 390.93L453.35 386.33M450.65 386.13V391.13M447.75 388.63H453.55M454.85 406.56L460.25 411.16M454.85 411.16L460.25 406.56M457.55 406.36V411.36M454.65 408.86H460.45M461.75 415.41L467.15 420.01M461.75 420.01L467.15 415.41M464.45 415.21V420.21M461.55 417.71H467.35M468.65 415.41L474.05 420.01M468.65 420.01L474.05 415.41M471.35 415.21V420.21M468.45 417.71H474.25M475.55 413.49L480.95 418.09M475.55 418.09L480.95 413.49M478.25 413.29V418.29M475.35 415.79H481.15M482.45 413.49L487.85 418.09M482.45 418.09L487.85 413.49M485.15 413.29V418.29M482.25 415.79H488.05M489.35 400.36L494.75 404.96M489.35 404.96L494.75 400.36M492.05 400.16V405.16M489.15 402.66H494.95M496.25 404.64L501.65 409.24M496.25 409.24L501.65 404.64M498.95 404.44V409.44M496.05 406.94H501.85M503.15 402.42L508.55 407.02M503.15 407.02L508.55 402.42M505.85 402.22V407.22M502.95 404.72H508.75M510.05 392.09L515.45 396.69M510.05 396.69L515.45 392.09M512.75 391.89V396.89M509.85 394.39H515.65M516.95 390.61L522.35 395.21M516.95 395.21L522.35 390.61M519.65 390.41V395.41M516.75 392.91H522.55M523.85 401.09L529.25 405.69M523.85 405.69L529.25 401.09M526.55 400.89V405.89M523.65 403.39H529.45M530.75 406.56L536.15 411.16M530.75 411.16L536.15 406.56M533.45 406.36V411.36M530.55 408.86H536.35M537.65 421.76L543.05 426.36M537.65 426.36L543.05 421.76M540.35 421.56V426.56M537.45 424.06H543.25M544.55 413.49L549.95 418.09M544.55 418.09L549.95 413.49M547.25 413.29V418.29M544.35 415.79H550.15M551.45 409.95L556.85 414.55M551.45 414.55L556.85 409.95M554.15 409.75V414.75M551.25 412.25H557.05M558.35 414.53L563.75 419.13M558.35 419.13L563.75 414.53M561.05 414.33V419.33M558.15 416.83H563.95M565.25 411.43L570.65 416.03M565.25 416.03L570.65 411.43M567.95 411.23V416.23M565.05 413.73H570.85M572.15 411.72L577.55 416.32M572.15 416.32L577.55 411.72M574.85 411.52V416.52M571.95 414.02H577.75" stroke="#ff0000" stroke-width="1.2"/></g><path d="M409 316H575.9M409 434.1H575.9" stroke="#ff0000" stroke-width="1.8" fill="none"/><path d="M409.6 316V434.1M575.3 316V434.1" stroke="#ff0000" stroke-width="1.3" fill="none"/><path d="M436.85 316v6M436.85 434.1v-6M464.45 316v6M464.45 434.1v-6M492.05 316v6M492.05 434.1v-6M519.65 316v6M519.65 434.1v-6M547.25 316v6M547.25 434.1v-6M423.05 316v4M423.05 434.1v-4M450.65 316v4M450.65 434.1v-4M478.25 316v4M478.25 434.1v-4M505.85 316v4M505.85 434.1v-4M533.45 316v4M533.45 434.1v-4M561.05 316v4M561.05 434.1v-4M409.6 404.58h6M575.3 404.58h-6M409.6 375.05h6M575.3 375.05h-6M409.6 345.53h6M575.3 345.53h-6M409.6 419.34h4M575.3 419.34h-4M409.6 389.81h4M575.3 389.81h-4M409.6 360.29h4M575.3 360.29h-4M409.6 330.76h4M575.3 330.76h-4" stroke="#ff0000" stroke-width="1.1" fill="none"/><path d="M436.85 316V433.1M464.45 316V433.1M492.05 316V433.1M519.65 316V433.1M547.25 316V433.1M410.6 316H574.3M410.6 404.58H574.3M410.6 375.05H574.3M410.6 345.53H574.3" stroke="#000" stroke-width="1" stroke-dasharray="1.3 1.8" fill="none"/><g class="t" fill="#ff0000"><text x="409.25" y="444.8" text-anchor="middle">0</text><text x="436.85" y="444.8" text-anchor="middle">4</text><text x="464.45" y="444.8" text-anchor="middle">8</text><text x="492.05" y="444.8" text-anchor="middle">12</text><text x="519.65" y="444.8" text-anchor="middle">16</text><text x="547.25" y="444.8" text-anchor="middle">20</text><text x="574.85" y="444.8" text-anchor="middle">24</text><text x="405.1" y="437.4" text-anchor="end">0</text><text x="405.1" y="407.88" text-anchor="end">20</text><text x="405.1" y="378.35" text-anchor="end">40</text><text x="405.1" y="348.83" text-anchor="end">60</text><text x="405.1" y="319.3" text-anchor="end">80</text></g><text class="n" x="492.45" y="458.8" text-anchor="middle" fill="#ff0000" clip-path="url(#l22)">Mong Kok</text>
<clipPath id="c23"><rect x="602.6" y="316" width="165.7" height="118.1"/></clipPath><clipPath id="l23"><rect x="582.6" y="446.1" width="205.7" height="12.7"/></clipPath><g clip-path="url(#c23)" fill="none"><path d="M602.25 429.52L609.15 429.52L616.05 416.24L622.95 397.93L629.85 373.87L636.75 382.73L643.65 400.59L650.55 412.69L657.45 423.91L664.35 424.5L671.25 426.57L678.15 424.5L685.05 405.17L691.95 416.24L698.85 404.72L705.75 396.6L712.65 414.47L719.55 412.69L726.45 423.91L733.35 410.63L740.25 382.28L747.15 375.64L754.05 372.84L760.95 381.55L767.85 381.84" stroke="#00ffff" stroke-width="1.5" stroke-linejoin="round"/><path d="M599.55 427.22L604.95 431.82M599.55 431.82L604.95 427.22M602.25 427.02V432.02M599.35 429.52H605.15M606.45 427.22L611.85 431.82M606.45 431.82L611.85 427.22M609.15 427.02V432.02M606.25 429.52H612.05M613.35 413.94L618.75 418.54M613.35 418.54L618.75 413.94M616.05 413.74V418.74M613.15 416.24H618.95M620.25 395.63L625.65 400.23M620.25 400.23L625.65 395.63M622.95 395.43V400.43M620.05 397.93H625.85M627.15 371.57L632.55 376.17M627.15 376.17L632.55 371.57M629.85 371.37V376.37M626.95 373.87H632.75M634.05 380.43L639.45 385.03M634.05 385.03L639.45 380.43M636.75 380.23V385.23M633.85 382.73H639.65M640.95 398.29L646.35 402.89M640.95 402.89L646.35 398.29M643.65 398.09V403.09M640.75 400.59H646.55M647.85 410.39L653.25 414.99M647.85 414.99L653.25 410.39M650.55 410.19V415.19M647.65 412.69H653.45M654.75 421.61L660.15 426.21M654.75 426.21L660.15 421.61M657.45 421.41V426.41M654.55 423.91H660.35M661.65 422.2L667.05 426.8M661.65 426.8L667.05 422.2M664.35 422V427M661.45 424.5H667.25M668.55 424.27L673.95 428.87M668.55 428.87L673.95 424.27M671.25 424.07V429.07M668.35 426.57H674.15M675.45 422.2L680.85 426.8M675.45 426.8L680.85 422.2M678.15 422V427M675.25 424.5H681.05M682.35 402.87L687.75 407.47M682.35 407.47L687.75 402.87M685.05 402.67V407.67M682.15 405.17H687.95M689.25 413.94L694.65 418.54M689.25 418.54L694.65 413.94M691.95 413.74V418.74M689.05 416.24H694.85M696.15 402.42L701.55 407.02M696.15 407.02L701.55 402.42M698.85 402.22V407.22M695.95 404.72H701.75M703.05 394.3L708.45 398.9M703.05 398.9L708.45 394.3M705.75 394.1V399.1M702.85 396.6H708.65M709.95 412.17L715.35 416.77M709.95 416.77L715.35 412.17M712.65 411.97V416.97M709.75 414.47H715.55M716.85 410.39L722.25 414.99M716.85 414.99L722.25 410.39M719.55 410.19V415.19M716.65 412.69H722.45M723.75 421.61L729.15 426.21M723.75 426.21L729.15 421.61M726.45 421.41V426.41M723.55 423.91H729.35M730.65 408.33L736.05 412.93M730.65 412.93L736.05 408.33M733.35 408.13V413.13M730.45 410.63H736.25M737.55 379.98L742.95 384.58M737.55 384.58L742.95 379.98M740.25 379.78V384.78M737.35 382.28H743.15M744.45 373.34L749.85 377.94M744.45 377.94L749.85 373.34M747.15 373.14V378.14M744.25 375.64H750.05M751.35 370.54L756.75 375.14M751.35 375.14L756.75 370.54M754.05 370.34V375.34M751.15 372.84H756.95M758.25 379.25L763.65 383.85M758.25 383.85L763.65 379.25M760.95 379.05V384.05M758.05 381.55H763.85M765.15 379.54L770.55 384.14M765.15 384.14L770.55 379.54M767.85 379.34V384.34M764.95 381.84H770.75" stroke="#00ffff" stroke-width="1.2"/><path d="M602.25 380.07L609.15 387.6L616.05 383.61L622.95 378.3L629.85 373.87L636.75 371.95L643.65 373.28L650.55 384.65L657.45 393.5L664.35 392.91L671.25 388.04L678.15 397.93L685.05 403.39L691.95 379.18L698.85 361.76L705.75 365.75L712.65 377.41L719.55 377.41L726.45 383.61L733.35 370.77L740.25 367.23L747.15 367.23L754.05 365.45L760.95 368.41L767.85 376.53" stroke="#00ff00" stroke-width="1.5" stroke-linejoin="round"/><path d="M599.55 377.77L604.95 382.37M599.55 382.37L604.95 377.77M602.25 377.57V382.57M599.35 380.07H605.15M606.45 385.3L611.85 389.9M606.45 389.9L611.85 385.3M609.15 385.1V390.1M606.25 387.6H612.05M613.35 381.31L618.75 385.91M613.35 385.91L618.75 381.31M616.05 381.11V386.11M613.15 383.61H618.95M620.25 376L625.65 380.6M620.25 380.6L625.65 376M622.95 375.8V380.8M620.05 378.3H625.85M627.15 371.57L632.55 376.17M627.15 376.17L632.55 371.57M629.85 371.37V376.37M626.95 373.87H632.75M634.05 369.65L639.45 374.25M634.05 374.25L639.45 369.65M636.75 369.45V374.45M633.85 371.95H639.65M640.95 370.98L646.35 375.58M640.95 375.58L646.35 370.98M643.65 370.78V375.78M640.75 373.28H646.55M647.85 382.35L653.25 386.95M647.85 386.95L653.25 382.35M650.55 382.15V387.15M647.65 384.65H653.45M654.75 391.2L660.15 395.8M654.75 395.8L660.15 391.2M657.45 391V396M654.55 393.5H660.35M661.65 390.61L667.05 395.21M661.65 395.21L667.05 390.61M664.35 390.41V395.41M661.45 392.91H667.25M668.55 385.74L673.95 390.34M668.55 390.34L673.95 385.74M671.25 385.54V390.54M668.35 388.04H674.15M675.45 395.63L680.85 400.23M675.45 400.23L680.85 395.63M678.15 395.43V400.43M675.25 397.93H681.05M682.35 401.09L687.75 405.69M682.35 405.69L687.75 401.09M685.05 400.89V405.89M682.15 403.39H687.95M689.25 376.88L694.65 381.48M689.25 381.48L694.65 376.88M691.95 376.68V381.68M689.05 379.18H694.85M696.15 359.46L701.55 364.06M696.15 364.06L701.55 359.46M698.85 359.26V364.26M695.95 361.76H701.75M703.05 363.45L708.45 368.05M703.05 368.05L708.45 363.45M705.75 363.25V368.25M702.85 365.75H708.65M709.95 375.11L715.35 379.71M709.95 379.71L715.35 375.11M712.65 374.91V379.91M709.75 377.41H715.55M716.85 375.11L722.25 379.71M716.85 379.71L722.25 375.11M719.55 374.91V379.91M716.65 377.41H722.45M723.75 381.31L729.15 385.91M723.75 385.91L729.15 381.31M726.45 381.11V386.11M723.55 383.61H729.35M730.65 368.47L736.05 373.07M730.65 373.07L736.05 368.47M733.35 368.27V373.27M730.45 370.77H736.25M737.55 364.93L742.95 369.53M737.55 369.53L742.95 364.93M740.25 364.73V369.73M737.35 367.23H743.15M744.45 364.93L749.85 369.53M744.45 369.53L749.85 364.93M747.15 364.73V369.73M744.25 367.23H750.05M751.35 363.15L756.75 367.75M751.35 367.75L756.75 363.15M754.05 362.95V367.95M751.15 365.45H756.95M758.25 366.11L763.65 370.71M758.25 370.71L763.65 366.11M760.95 365.91V370.91M758.05 368.41H763.85M765.15 374.23L770.55 378.83M765.15 378.83L770.55 374.23M767.85 374.03V379.03M764.95 376.53H770.75" stroke="#00ff00" stroke-width="1.2"/><path d="M602.25 373.87L609.15 373.28L616.05 371.06L622.95 371.06L629.85 372.84L636.75 371.06L643.65 377.41L650.55 382.73L657.45 390.85L664.35 398.08L671.25 390.4L678.15 384.94L685.05 378.59L691.95 376.53L733.35 423.91L740.25 423.91L747.15 425.39L754.05 419.04L760.95 413.14L767.85 382.28" stroke="#0000ff" stroke-width="1.5" stroke-linejoin="round"/><path d="M599.55 371.57L604.95 376.17M599.55 376.17L604.95 371.57M602.25 371.37V376.37M599.35 373.87H605.15M606.45 370.98L611.85 375.58M606.45 375.58L611.85 370.98M609.15 370.78V375.78M606.25 373.28H612.05M613.35 368.76L618.75 373.36M613.35 373.36L618.75 368.76M616.05 368.56V373.56M613.15 371.06H618.95M620.25 368.76L625.65 373.36M620.25 373.36L625.65 368.76M622.95 368.56V373.56M620.05 371.06H625.85M627.15 370.54L632.55 375.14M627.15 375.14L632.55 370.54M629.85 370.34V375.34M626.95 372.84H632.75M634.05 368.76L639.45 373.36M634.05 373.36L639.45 368.76M636.75 368.56V373.56M633.85 371.06H639.65M640.95 375.11L646.35 379.71M640.95 379.71L646.35 375.11M643.65 374.91V379.91M640.75 377.41H646.55M647.85 380.43L653.25 385.03M647.85 385.03L653.25 380.43M650.55 380.23V385.23M647.65 382.73H653.45M654.75 388.55L660.15 393.15M654.75 393.15L660.15 388.55M657.45 388.35V393.35M654.55 390.85H660.35M661.65 395.78L667.05 400.38M661.65 400.38L667.05 395.78M664.35 395.58V400.58M661.45 398.08H667.25M668.55 388.1L673.95 392.7M668.55 392.7L673.95 388.1M671.25 387.9V392.9M668.35 390.4H674.15M675.45 382.64L680.85 387.24M675.45 387.24L680.85 382.64M678.15 382.44V387.44M675.25 384.94H681.05M682.35 376.29L687.75 380.89M682.35 380.89L687.75 376.29M685.05 376.09V381.09M682.15 378.59H687.95M689.25 374.23L694.65 378.83M689.25 378.83L694.65 374.23M691.95 374.03V379.03M689.05 376.53H694.85M730.65 421.61L736.05 426.21M730.65 426.21L736.05 421.61M733.35 421.41V426.41M730.45 423.91H736.25M737.55 421.61L742.95 426.21M737.55 426.21L742.95 421.61M740.25 421.41V426.41M737.35 423.91H743.15M744.45 423.09L749.85 427.69M744.45 427.69L749.85 423.09M747.15 422.89V427.89M744.25 425.39H750.05M751.35 416.74L756.75 421.34M751.35 421.34L756.75 416.74M754.05 416.54V421.54M751.15 419.04H756.95M758.25 410.84L763.65 415.44M758.25 415.44L763.65 410.84M760.95 410.64V415.64M758.05 413.14H763.85M765.15 379.98L770.55 384.58M765.15 384.58L770.55 379.98M767.85 379.78V384.78M764.95 382.28H770.75" stroke="#0000ff" stroke-width="1.2"/><path d="M602.25 381.55L609.15 385.83L616.05 372.84L622.95 373.28L629.85 366.64L636.75 363.98L643.65 367.23L650.55 382.73L657.45 394.68L664.35 391.14L671.25 375.05L678.15 375.05L685.05 363.98L691.95 355.86L698.85 347.89L705.75 347.89L712.65 347.89L719.55 352.32L726.45 358.22L733.35 367.23L740.25 366.64L747.15 371.06L754.05 364.86L760.95 367.23L767.85 377.85" stroke="#ff0000" stroke-width="1.5" stroke-linejoin="round"/><path d="M599.55 379.25L604.95 383.85M599.55 383.85L604.95 379.25M602.25 379.05V384.05M599.35 381.55H605.15M606.45 383.53L611.85 388.13M606.45 388.13L611.85 383.53M609.15 383.33V388.33M606.25 385.83H612.05M613.35 370.54L618.75 375.14M613.35 375.14L618.75 370.54M616.05 370.34V375.34M613.15 372.84H618.95M620.25 370.98L625.65 375.58M620.25 375.58L625.65 370.98M622.95 370.78V375.78M620.05 373.28H625.85M627.15 364.34L632.55 368.94M627.15 368.94L632.55 364.34M629.85 364.14V369.14M626.95 366.64H632.75M634.05 361.68L639.45 366.28M634.05 366.28L639.45 361.68M636.75 361.48V366.48M633.85 363.98H639.65M640.95 364.93L646.35 369.53M640.95 369.53L646.35 364.93M643.65 364.73V369.73M640.75 367.23H646.55M647.85 380.43L653.25 385.03M647.85 385.03L653.25 380.43M650.55 380.23V385.23M647.65 382.73H653.45M654.75 392.38L660.15 396.98M654.75 396.98L660.15 392.38M657.45 392.18V397.18M654.55 394.68H660.35M661.65 388.84L667.05 393.44M661.65 393.44L667.05 388.84M664.35 388.64V393.64M661.45 391.14H667.25M668.55 372.75L673.95 377.35M668.55 377.35L673.95 372.75M671.25 372.55V377.55M668.35 375.05H674.15M675.45 372.75L680.85 377.35M675.45 377.35L680.85 372.75M678.15 372.55V377.55M675.25 375.05H681.05M682.35 361.68L687.75 366.28M682.35 366.28L687.75 361.68M685.05 361.48V366.48M682.15 363.98H687.95M689.25 353.56L694.65 358.16M689.25 358.16L694.65 353.56M691.95 353.36V358.36M689.05 355.86H694.85M696.15 345.59L701.55 350.19M696.15 350.19L701.55 345.59M698.85 345.39V350.39M695.95 347.89H701.75M703.05 345.59L708.45 350.19M703.05 350.19L708.45 345.59M705.75 345.39V350.39M702.85 347.89H708.65M709.95 345.59L715.35 350.19M709.95 350.19L715.35 345.59M712.65 345.39V350.39M709.75 347.89H715.55M716.85 350.02L722.25 354.62M716.85 354.62L722.25 350.02M719.55 349.82V354.82M716.65 352.32H722.45M723.75 355.92L729.15 360.52M723.75 360.52L729.15 355.92M726.45 355.72V360.72M723.55 358.22H729.35M730.65 364.93L736.05 369.53M730.65 369.53L736.05 364.93M733.35 364.73V369.73M730.45 367.23H736.25M737.55 364.34L742.95 368.94M737.55 368.94L742.95 364.34M740.25 364.14V369.14M737.35 366.64H743.15M744.45 368.76L749.85 373.36M744.45 373.36L749.85 368.76M747.15 368.56V373.56M744.25 371.06H750.05M751.35 362.56L756.75 367.16M751.35 367.16L756.75 362.56M754.05 362.36V367.36M751.15 364.86H756.95M758.25 364.93L763.65 369.53M758.25 369.53L763.65 364.93M760.95 364.73V369.73M758.05 367.23H763.85M765.15 375.55L770.55 380.15M765.15 380.15L770.55 375.55M767.85 375.35V380.35M764.95 377.85H770.75" stroke="#ff0000" stroke-width="1.2"/></g><path d="M602 316H768.9M602 434.1H768.9" stroke="#000" stroke-width="1.8" fill="none"/><path d="M602.6 316V434.1M768.3 316V434.1" stroke="#000" stroke-width="1.3" fill="none"/><path d="M629.85 316v6M629.85 434.1v-6M657.45 316v6M657.45 434.1v-6M685.05 316v6M685.05 434.1v-6M712.65 316v6M712.65 434.1v-6M740.25 316v6M740.25 434.1v-6M616.05 316v4M616.05 434.1v-4M643.65 316v4M643.65 434.1v-4M671.25 316v4M671.25 434.1v-4M698.85 316v4M698.85 434.1v-4M726.45 316v4M726.45 434.1v-4M754.05 316v4M754.05 434.1v-4M602.6 404.58h6M768.3 404.58h-6M602.6 375.05h6M768.3 375.05h-6M602.6 345.53h6M768.3 345.53h-6M602.6 419.34h4M768.3 419.34h-4M602.6 389.81h4M768.3 389.81h-4M602.6 360.29h4M768.3 360.29h-4M602.6 330.76h4M768.3 330.76h-4" stroke="#000" stroke-width="1.1" fill="none"/><path d="M629.85 316V433.1M657.45 316V433.1M685.05 316V433.1M712.65 316V433.1M740.25 316V433.1M603.6 316H767.3M603.6 404.58H767.3M603.6 375.05H767.3M603.6 345.53H767.3" stroke="#000" stroke-width="1" stroke-dasharray="1.3 1.8" fill="none"/><g class="t" fill="#000"><text x="602.25" y="444.8" text-anchor="middle">0</text><text x="629.85" y="444.8" text-anchor="middle">4</text><text x="657.45" y="444.8" text-anchor="middle">8</text><text x="685.05" y="444.8" text-anchor="middle">12</text><text x="712.65" y="444.8" text-anchor="middle">16</text><text x="740.25" y="444.8" text-anchor="middle">20</text><text x="767.85" y="444.8" text-anchor="middle">24</text><text x="598.1" y="437.4" text-anchor="end">0</text><text x="598.1" y="407.88" text-anchor="end">20</text><text x="598.1" y="378.35" text-anchor="end">40</text><text x="598.1" y="348.83" text-anchor="end">60</text><text x="598.1" y="319.3" text-anchor="end">80</text></g><text class="n" x="685.45" y="458.8" text-anchor="middle" fill="#000" clip-path="url(#l23)">Kwun Tong</text>
<clipPath id="c24"><rect x="795.6" y="316" width="165.7" height="118.1"/></clipPath><clipPath id="l24"><rect x="775.6" y="446.1" width="205.7" height="12.7"/></clipPath><g clip-path="url(#c24)" fill="none"><path d="M795.25 379.48L802.15 399.26L809.05 358.81L815.95 364.72L822.85 358.22L829.75 363.68L836.65 382.43L843.55 388.19L850.45 398.97L857.35 389.37L864.25 416.24L871.15 397.64L878.05 372.25L884.95 365.01L891.85 368.55L898.75 371.65L905.65 358.52L912.55 354.83L919.45 371.65L926.35 356.74L933.25 368.26L940.15 374.16L947.05 365.75L953.95 366.49L960.85 369.29" stroke="#00ffff" stroke-width="1.5" stroke-linejoin="round"/><path d="M792.55 377.18L797.95 381.78M792.55 381.78L797.95 377.18M795.25 376.98V381.98M792.35 379.48H798.15M799.45 396.96L804.85 401.56M799.45 401.56L804.85 396.96M802.15 396.76V401.76M799.25 399.26H805.05M806.35 356.51L811.75 361.11M806.35 361.11L811.75 356.51M809.05 356.31V361.31M806.15 358.81H811.95M813.25 362.42L818.65 367.02M813.25 367.02L818.65 362.42M815.95 362.22V367.22M813.05 364.72H818.85M820.15 355.92L825.55 360.52M820.15 360.52L825.55 355.92M822.85 355.72V360.72M819.95 358.22H825.75M827.05 361.38L832.45 365.98M827.05 365.98L832.45 361.38M829.75 361.18V366.18M826.85 363.68H832.65M833.95 380.13L839.35 384.73M833.95 384.73L839.35 380.13M836.65 379.93V384.93M833.75 382.43H839.55M840.85 385.89L846.25 390.49M840.85 390.49L846.25 385.89M843.55 385.69V390.69M840.65 388.19H846.45M847.75 396.67L853.15 401.27M847.75 401.27L853.15 396.67M850.45 396.47V401.47M847.55 398.97H853.35M854.65 387.07L860.05 391.67M854.65 391.67L860.05 387.07M857.35 386.87V391.87M854.45 389.37H860.25M861.55 413.94L866.95 418.54M861.55 418.54L866.95 413.94M864.25 413.74V418.74M861.35 416.24H867.15M868.45 395.34L873.85 399.94M868.45 399.94L873.85 395.34M871.15 395.14V400.14M868.25 397.64H874.05M875.35 369.95L880.75 374.55M875.35 374.55L880.75 369.95M878.05 369.75V374.75M875.15 372.25H880.95M882.25 362.71L887.65 367.31M882.25 367.31L887.65 362.71M884.95 362.51V367.51M882.05 365.01H887.85M889.15 366.25L894.55 370.85M889.15 370.85L894.55 366.25M891.85 366.05V371.05M888.95 368.55H894.75M896.05 369.35L901.45 373.95M896.05 373.95L901.45 369.35M898.75 369.15V374.15M895.85 371.65H901.65M902.95 356.22L908.35 360.82M902.95 360.82L908.35 356.22M905.65 356.02V361.02M902.75 358.52H908.55M909.85 352.53L915.25 357.13M909.85 357.13L915.25 352.53M912.55 352.33V357.33M909.65 354.83H915.45M916.75 369.35L922.15 373.95M916.75 373.95L922.15 369.35M919.45 369.15V374.15M916.55 371.65H922.35M923.65 354.44L929.05 359.04M923.65 359.04L929.05 354.44M926.35 354.24V359.24M923.45 356.74H929.25M930.55 365.96L935.95 370.56M930.55 370.56L935.95 365.96M933.25 365.76V370.76M930.35 368.26H936.15M937.45 371.86L942.85 376.46M937.45 376.46L942.85 371.86M940.15 371.66V376.66M937.25 374.16H943.05M944.35 363.45L949.75 368.05M944.35 368.05L949.75 363.45M947.05 363.25V368.25M944.15 365.75H949.95M951.25 364.19L956.65 368.79M951.25 368.79L956.65 364.19M953.95 363.99V368.99M951.05 366.49H956.85M958.15 366.99L963.55 371.59M958.15 371.59L963.55 366.99M960.85 366.79V371.79M957.95 369.29H963.75" stroke="#00ffff" stroke-width="1.2"/><path d="M795.25 369L802.15 371.95L809.05 371.06L815.95 365.45L822.85 368.41L829.75 370.18L836.65 373.28L843.55 378L850.45 379.77L857.35 381.55L864.25 376.82L871.15 369.29L878.05 358.66L884.95 349.66L891.85 341.54L898.75 338.59L905.65 334.9L912.55 341.1L919.45 334.9L926.35 342.13L933.25 351.73L940.15 351.73L947.05 358.66L953.95 357.19L960.85 355.86" stroke="#00ff00" stroke-width="1.5" stroke-linejoin="round"/><path d="M792.55 366.7L797.95 371.3M792.55 371.3L797.95 366.7M795.25 366.5V371.5M792.35 369H798.15M799.45 369.65L804.85 374.25M799.45 374.25L804.85 369.65M802.15 369.45V374.45M799.25 371.95H805.05M806.35 368.76L811.75 373.36M806.35 373.36L811.75 368.76M809.05 368.56V373.56M806.15 371.06H811.95M813.25 363.15L818.65 367.75M813.25 367.75L818.65 363.15M815.95 362.95V367.95M813.05 365.45H818.85M820.15 366.11L825.55 370.71M820.15 370.71L825.55 366.11M822.85 365.91V370.91M819.95 368.41H825.75M827.05 367.88L832.45 372.48M827.05 372.48L832.45 367.88M829.75 367.68V372.68M826.85 370.18H832.65M833.95 370.98L839.35 375.58M833.95 375.58L839.35 370.98M836.65 370.78V375.78M833.75 373.28H839.55M840.85 375.7L846.25 380.3M840.85 380.3L846.25 375.7M843.55 375.5V380.5M840.65 378H846.45M847.75 377.47L853.15 382.07M847.75 382.07L853.15 377.47M850.45 377.27V382.27M847.55 379.77H853.35M854.65 379.25L860.05 383.85M854.65 383.85L860.05 379.25M857.35 379.05V384.05M854.45 381.55H860.25M861.55 374.52L866.95 379.12M861.55 379.12L866.95 374.52M864.25 374.32V379.32M861.35 376.82H867.15M868.45 366.99L873.85 371.59M868.45 371.59L873.85 366.99M871.15 366.79V371.79M868.25 369.29H874.05M875.35 356.36L880.75 360.96M875.35 360.96L880.75 356.36M878.05 356.16V361.16M875.15 358.66H880.95M882.25 347.36L887.65 351.96M882.25 351.96L887.65 347.36M884.95 347.16V352.16M882.05 349.66H887.85M889.15 339.24L894.55 343.84M889.15 343.84L894.55 339.24M891.85 339.04V344.04M888.95 341.54H894.75M896.05 336.29L901.45 340.89M896.05 340.89L901.45 336.29M898.75 336.09V341.09M895.85 338.59H901.65M902.95 332.6L908.35 337.2M902.95 337.2L908.35 332.6M905.65 332.4V337.4M902.75 334.9H908.55M909.85 338.8L915.25 343.4M909.85 343.4L915.25 338.8M912.55 338.6V343.6M909.65 341.1H915.45M916.75 332.6L922.15 337.2M916.75 337.2L922.15 332.6M919.45 332.4V337.4M916.55 334.9H922.35M923.65 339.83L929.05 344.43M923.65 344.43L929.05 339.83M926.35 339.63V344.63M923.45 342.13H929.25M930.55 349.43L935.95 354.03M930.55 354.03L935.95 349.43M933.25 349.23V354.23M930.35 351.73H936.15M937.45 349.43L942.85 354.03M937.45 354.03L942.85 349.43M940.15 349.23V354.23M937.25 351.73H943.05M944.35 356.36L949.75 360.96M944.35 360.96L949.75 356.36M947.05 356.16V361.16M944.15 358.66H949.95M951.25 354.89L956.65 359.49M951.25 359.49L956.65 354.89M953.95 354.69V359.69M951.05 357.19H956.85M958.15 353.56L963.55 358.16M958.15 358.16L963.55 353.56M960.85 353.36V358.36M957.95 355.86H963.75" stroke="#00ff00" stroke-width="1.2"/><path d="M795.25 355.42L802.15 358.22L809.05 363.09L815.95 367.96L822.85 369.29L829.75 371.95L836.65 372.84L843.55 376.53L850.45 377.41L857.35 376.53L864.25 371.95L871.15 367.52L878.05 363.09L884.95 356.45L891.85 351.13L898.75 346.12L905.65 343.9L912.55 369L919.45 382.73L926.35 411.37L933.25 428.34L940.15 429.23L947.05 429.82L953.95 429.82L960.85 431.15" stroke="#0000ff" stroke-width="1.5" stroke-linejoin="round"/><path d="M792.55 353.12L797.95 357.72M792.55 357.72L797.95 353.12M795.25 352.92V357.92M792.35 355.42H798.15M799.45 355.92L804.85 360.52M799.45 360.52L804.85 355.92M802.15 355.72V360.72M799.25 358.22H805.05M806.35 360.79L811.75 365.39M806.35 365.39L811.75 360.79M809.05 360.59V365.59M806.15 363.09H811.95M813.25 365.66L818.65 370.26M813.25 370.26L818.65 365.66M815.95 365.46V370.46M813.05 367.96H818.85M820.15 366.99L825.55 371.59M820.15 371.59L825.55 366.99M822.85 366.79V371.79M819.95 369.29H825.75M827.05 369.65L832.45 374.25M827.05 374.25L832.45 369.65M829.75 369.45V374.45M826.85 371.95H832.65M833.95 370.54L839.35 375.14M833.95 375.14L839.35 370.54M836.65 370.34V375.34M833.75 372.84H839.55M840.85 374.23L846.25 378.83M840.85 378.83L846.25 374.23M843.55 374.03V379.03M840.65 376.53H846.45M847.75 375.11L853.15 379.71M847.75 379.71L853.15 375.11M850.45 374.91V379.91M847.55 377.41H853.35M854.65 374.23L860.05 378.83M854.65 378.83L860.05 374.23M857.35 374.03V379.03M854.45 376.53H860.25M861.55 369.65L866.95 374.25M861.55 374.25L866.95 369.65M864.25 369.45V374.45M861.35 371.95H867.15M868.45 365.22L873.85 369.82M868.45 369.82L873.85 365.22M871.15 365.02V370.02M868.25 367.52H874.05M875.35 360.79L880.75 365.39M875.35 365.39L880.75 360.79M878.05 360.59V365.59M875.15 363.09H880.95M882.25 354.15L887.65 358.75M882.25 358.75L887.65 354.15M884.95 353.95V358.95M882.05 356.45H887.85M889.15 348.83L894.55 353.43M889.15 353.43L894.55 348.83M891.85 348.63V353.63M888.95 351.13H894.75M896.05 343.82L901.45 348.42M896.05 348.42L901.45 343.82M898.75 343.62V348.62M895.85 346.12H901.65M902.95 341.6L908.35 346.2M902.95 346.2L908.35 341.6M905.65 341.4V346.4M902.75 343.9H908.55M909.85 366.7L915.25 371.3M909.85 371.3L915.25 366.7M912.55 366.5V371.5M909.65 369H915.45M916.75 380.43L922.15 385.03M916.75 385.03L922.15 380.43M919.45 380.23V385.23M916.55 382.73H922.35M923.65 409.07L929.05 413.67M923.65 413.67L929.05 409.07M926.35 408.87V413.87M923.45 411.37H929.25M930.55 426.04L935.95 430.64M930.55 430.64L935.95 426.04M933.25 425.84V430.84M930.35 428.34H936.15M937.45 426.93L942.85 431.53M937.45 431.53L942.85 426.93M940.15 426.73V431.73M937.25 429.23H943.05M944.35 427.52L949.75 432.12M944.35 432.12L949.75 427.52M947.05 427.32V432.32M944.15 429.82H949.95M951.25 427.52L956.65 432.12M951.25 432.12L956.65 427.52M953.95 427.32V432.32M951.05 429.82H956.85M958.15 428.85L963.55 433.45M958.15 433.45L963.55 428.85M960.85 428.65V433.65M957.95 431.15H963.75" stroke="#0000ff" stroke-width="1.2"/><path d="M795.25 431.74L802.15 430.56L809.05 424.06L815.95 413.28L822.85 396.46L829.75 403.69L836.65 358.81L843.55 353.35L850.45 366.64L857.35 363.09L864.25 359.4L871.15 352.17L878.05 344.93L884.95 341.83L891.85 337.55L898.75 333.42L905.65 332.83L912.55 337.55L919.45 340.06L926.35 358.81L933.25 397.64L940.15 414.02L947.05 419.49L953.95 429.23L960.85 373.13" stroke="#ff0000" stroke-width="1.5" stroke-linejoin="round"/><path d="M792.55 429.44L797.95 434.04M792.55 434.04L797.95 429.44M795.25 429.24V434.24M792.35 431.74H798.15M799.45 428.26L804.85 432.86M799.45 432.86L804.85 428.26M802.15 428.06V433.06M799.25 430.56H805.05M806.35 421.76L811.75 426.36M806.35 426.36L811.75 421.76M809.05 421.56V426.56M806.15 424.06H811.95M813.25 410.98L818.65 415.58M813.25 415.58L818.65 410.98M815.95 410.78V415.78M813.05 413.28H818.85M820.15 394.16L825.55 398.76M820.15 398.76L825.55 394.16M822.85 393.96V398.96M819.95 396.46H825.75M827.05 401.39L832.45 405.99M827.05 405.99L832.45 401.39M829.75 401.19V406.19M826.85 403.69H832.65M833.95 356.51L839.35 361.11M833.95 361.11L839.35 356.51M836.65 356.31V361.31M833.75 358.81H839.55M840.85 351.05L846.25 355.65M840.85 355.65L846.25 351.05M843.55 350.85V355.85M840.65 353.35H846.45M847.75 364.34L853.15 368.94M847.75 368.94L853.15 364.34M850.45 364.14V369.14M847.55 366.64H853.35M854.65 360.79L860.05 365.39M854.65 365.39L860.05 360.79M857.35 360.59V365.59M854.45 363.09H860.25M861.55 357.1L866.95 361.7M861.55 361.7L866.95 357.1M864.25 356.9V361.9M861.35 359.4H867.15M868.45 349.87L873.85 354.47M868.45 354.47L873.85 349.87M871.15 349.67V354.67M868.25 352.17H874.05M875.35 342.63L880.75 347.23M875.35 347.23L880.75 342.63M878.05 342.43V347.43M875.15 344.93H880.95M882.25 339.53L887.65 344.13M882.25 344.13L887.65 339.53M884.95 339.33V344.33M882.05 341.83H887.85M889.15 335.25L894.55 339.85M889.15 339.85L894.55 335.25M891.85 335.05V340.05M888.95 337.55H894.75M896.05 331.12L901.45 335.72M896.05 335.72L901.45 331.12M898.75 330.92V335.92M895.85 333.42H901.65M902.95 330.53L908.35 335.13M902.95 335.13L908.35 330.53M905.65 330.33V335.33M902.75 332.83H908.55M909.85 335.25L915.25 339.85M909.85 339.85L915.25 335.25M912.55 335.05V340.05M909.65 337.55H915.45M916.75 337.76L922.15 342.36M916.75 342.36L922.15 337.76M919.45 337.56V342.56M916.55 340.06H922.35M923.65 356.51L929.05 361.11M923.65 361.11L929.05 356.51M926.35 356.31V361.31M923.45 358.81H929.25M930.55 395.34L935.95 399.94M930.55 399.94L935.95 395.34M933.25 395.14V400.14M930.35 397.64H936.15M937.45 411.72L942.85 416.32M937.45 416.32L942.85 411.72M940.15 411.52V416.52M937.25 414.02H943.05M944.35 417.19L949.75 421.79M944.35 421.79L949.75 417.19M947.05 416.99V421.99M944.15 419.49H949.95M951.25 426.93L956.65 431.53M951.25 431.53L956.65 426.93M953.95 426.73V431.73M951.05 429.23H956.85M958.15 370.83L963.55 375.43M958.15 375.43L963.55 370.83M960.85 370.63V375.63M957.95 373.13H963.75" stroke="#ff0000" stroke-width="1.2"/></g><path d="M795 316H961.9M795 434.1H961.9" stroke="#000" stroke-width="1.8" fill="none"/><path d="M795.6 316V434.1M961.3 316V434.1" stroke="#000" stroke-width="1.3" fill="none"/><path d="M822.85 316v6M822.85 434.1v-6M850.45 316v6M850.45 434.1v-6M878.05 316v6M878.05 434.1v-6M905.65 316v6M905.65 434.1v-6M933.25 316v6M933.25 434.1v-6M809.05 316v4M809.05 434.1v-4M836.65 316v4M836.65 434.1v-4M864.25 316v4M864.25 434.1v-4M891.85 316v4M891.85 434.1v-4M919.45 316v4M919.45 434.1v-4M947.05 316v4M947.05 434.1v-4M795.6 404.58h6M961.3 404.58h-6M795.6 375.05h6M961.3 375.05h-6M795.6 345.53h6M961.3 345.53h-6M795.6 419.34h4M961.3 419.34h-4M795.6 389.81h4M961.3 389.81h-4M795.6 360.29h4M961.3 360.29h-4M795.6 330.76h4M961.3 330.76h-4" stroke="#000" stroke-width="1.1" fill="none"/><path d="M822.85 316V433.1M850.45 316V433.1M878.05 316V433.1M905.65 316V433.1M933.25 316V433.1M796.6 316H960.3M796.6 404.58H960.3M796.6 375.05H960.3M796.6 345.53H960.3" stroke="#000" stroke-width="1" stroke-dasharray="1.3 1.8" fill="none"/><g class="t" fill="#000"><text x="795.25" y="444.8" text-anchor="middle">0</text><text x="822.85" y="444.8" text-anchor="middle">4</text><text x="850.45" y="444.8" text-anchor="middle">8</text><text x="878.05" y="444.8" text-anchor="middle">12</text><text x="905.65" y="444.8" text-anchor="middle">16</text><text x="933.25" y="444.8" text-anchor="middle">20</text><text x="960.85" y="444.8" text-anchor="middle">24</text><text x="791.1" y="437.4" text-anchor="end">0</text><text x="791.1" y="407.88" text-anchor="end">20</text><text x="791.1" y="378.35" text-anchor="end">40</text><text x="791.1" y="348.83" text-anchor="end">60</text><text x="791.1" y="319.3" text-anchor="end">80</text></g><text class="n" x="878.45" y="458.8" text-anchor="middle" fill="#000" clip-path="url(#l24)">Tseung Kwan O</text>
<clipPath id="c30"><rect x="23.6" y="464" width="165.7" height="118.1"/></clipPath><clipPath id="l30"><rect x="3.6" y="594.1" width="205.7" height="12.7"/></clipPath><g clip-path="url(#c30)" fill="none"><path d="M23.25 569.55L30.15 569.99L37.05 568.52L43.95 570.88L50.85 572.06L57.75 572.06L64.65 572.65L71.55 572.65L78.45 571.77L85.35 569.11L92.25 566.3L99.15 560.1L106.05 544.01L112.95 522.46L119.85 535.89L126.75 515.37L133.65 507.7L140.55 515.52L147.45 538.55L154.35 545.78L161.25 560.4L168.15 562.91L175.05 549.92L181.95 549.92L188.85 553.17" stroke="#00ffff" stroke-width="1.5" stroke-linejoin="round"/><path d="M20.55 567.25L25.95 571.85M20.55 571.85L25.95 567.25M23.25 567.05V572.05M20.35 569.55H26.15M27.45 567.69L32.85 572.29M27.45 572.29L32.85 567.69M30.15 567.49V572.49M27.25 569.99H33.05M34.35 566.22L39.75 570.82M34.35 570.82L39.75 566.22M37.05 566.02V571.02M34.15 568.52H39.95M41.25 568.58L46.65 573.18M41.25 573.18L46.65 568.58M43.95 568.38V573.38M41.05 570.88H46.85M48.15 569.76L53.55 574.36M48.15 574.36L53.55 569.76M50.85 569.56V574.56M47.95 572.06H53.75M55.05 569.76L60.45 574.36M55.05 574.36L60.45 569.76M57.75 569.56V574.56M54.85 572.06H60.65M61.95 570.35L67.35 574.95M61.95 574.95L67.35 570.35M64.65 570.15V575.15M61.75 572.65H67.55M68.85 570.35L74.25 574.95M68.85 574.95L74.25 570.35M71.55 570.15V575.15M68.65 572.65H74.45M75.75 569.47L81.15 574.07M75.75 574.07L81.15 569.47M78.45 569.27V574.27M75.55 571.77H81.35M82.65 566.81L88.05 571.41M82.65 571.41L88.05 566.81M85.35 566.61V571.61M82.45 569.11H88.25M89.55 564L94.95 568.6M89.55 568.6L94.95 564M92.25 563.8V568.8M89.35 566.3H95.15M96.45 557.8L101.85 562.4M96.45 562.4L101.85 557.8M99.15 557.6V562.6M96.25 560.1H102.05M103.35 541.71L108.75 546.31M103.35 546.31L108.75 541.71M106.05 541.51V546.51M103.15 544.01H108.95M110.25 520.16L115.65 524.76M110.25 524.76L115.65 520.16M112.95 519.96V524.96M110.05 522.46H115.85M117.15 533.59L122.55 538.19M117.15 538.19L122.55 533.59M119.85 533.39V538.39M116.95 535.89H122.75M124.05 513.07L129.45 517.67M124.05 517.67L129.45 513.07M126.75 512.87V517.87M123.85 515.37H129.65M130.95 505.4L136.35 510M130.95 510L136.35 505.4M133.65 505.2V510.2M130.75 507.7H136.55M137.85 513.22L143.25 517.82M137.85 517.82L143.25 513.22M140.55 513.02V518.02M137.65 515.52H143.45M144.75 536.25L150.15 540.85M144.75 540.85L150.15 536.25M147.45 536.05V541.05M144.55 538.55H150.35M151.65 543.48L157.05 548.08M151.65 548.08L157.05 543.48M154.35 543.28V548.28M151.45 545.78H157.25M158.55 558.1L163.95 562.7M158.55 562.7L163.95 558.1M161.25 557.9V562.9M158.35 560.4H164.15M165.45 560.61L170.85 565.21M165.45 565.21L170.85 560.61M168.15 560.41V565.41M165.25 562.91H171.05M172.35 547.62L177.75 552.22M172.35 552.22L177.75 547.62M175.05 547.42V552.42M172.15 549.92H177.95M179.25 547.62L184.65 552.22M179.25 552.22L184.65 547.62M181.95 547.42V552.42M179.05 549.92H184.85M186.15 550.87L191.55 555.47M186.15 555.47L191.55 550.87M188.85 550.67V555.67M185.95 553.17H191.75" stroke="#00ffff" stroke-width="1.2"/><path d="M23.25 553.17L30.15 560.69L37.05 529.1L43.95 527.33L50.85 533.97L57.75 530.28L64.65 527.33L71.55 526.74L78.45 529.1L85.35 529.1L92.25 528.51L99.15 521.28L106.05 507.99L112.95 502.09L119.85 490.13L126.75 486.59L133.65 485.11L140.55 496.63L147.45 502.09L154.35 551.25L161.25 565.57L168.15 557.15L175.05 562.91L181.95 547.7L188.85 520.84" stroke="#00ff00" stroke-width="1.5" stroke-linejoin="round"/><path d="M20.55 550.87L25.95 555.47M20.55 555.47L25.95 550.87M23.25 550.67V555.67M20.35 553.17H26.15M27.45 558.39L32.85 562.99M27.45 562.99L32.85 558.39M30.15 558.19V563.19M27.25 560.69H33.05M34.35 526.8L39.75 531.4M34.35 531.4L39.75 526.8M37.05 526.6V531.6M34.15 529.1H39.95M41.25 525.03L46.65 529.63M41.25 529.63L46.65 525.03M43.95 524.83V529.83M41.05 527.33H46.85M48.15 531.67L53.55 536.27M48.15 536.27L53.55 531.67M50.85 531.47V536.47M47.95 533.97H53.75M55.05 527.98L60.45 532.58M55.05 532.58L60.45 527.98M57.75 527.78V532.78M54.85 530.28H60.65M61.95 525.03L67.35 529.63M61.95 529.63L67.35 525.03M64.65 524.83V529.83M61.75 527.33H67.55M68.85 524.44L74.25 529.04M68.85 529.04L74.25 524.44M71.55 524.24V529.24M68.65 526.74H74.45M75.75 526.8L81.15 531.4M75.75 531.4L81.15 526.8M78.45 526.6V531.6M75.55 529.1H81.35M82.65 526.8L88.05 531.4M82.65 531.4L88.05 526.8M85.35 526.6V531.6M82.45 529.1H88.25M89.55 526.21L94.95 530.81M89.55 530.81L94.95 526.21M92.25 526.01V531.01M89.35 528.51H95.15M96.45 518.98L101.85 523.58M96.45 523.58L101.85 518.98M99.15 518.78V523.78M96.25 521.28H102.05M103.35 505.69L108.75 510.29M103.35 510.29L108.75 505.69M106.05 505.49V510.49M103.15 507.99H108.95M110.25 499.79L115.65 504.39M110.25 504.39L115.65 499.79M112.95 499.59V504.59M110.05 502.09H115.85M117.15 487.83L122.55 492.43M117.15 492.43L122.55 487.83M119.85 487.63V492.63M116.95 490.13H122.75M124.05 484.29L129.45 488.89M124.05 488.89L129.45 484.29M126.75 484.09V489.09M123.85 486.59H129.65M130.95 482.81L136.35 487.41M130.95 487.41L136.35 482.81M133.65 482.61V487.61M130.75 485.11H136.55M137.85 494.33L143.25 498.93M137.85 498.93L143.25 494.33M140.55 494.13V499.13M137.65 496.63H143.45M144.75 499.79L150.15 504.39M144.75 504.39L150.15 499.79M147.45 499.59V504.59M144.55 502.09H150.35M151.65 548.95L157.05 553.55M151.65 553.55L157.05 548.95M154.35 548.75V553.75M151.45 551.25H157.25M158.55 563.27L163.95 567.87M158.55 567.87L163.95 563.27M161.25 563.07V568.07M158.35 565.57H164.15M165.45 554.85L170.85 559.45M165.45 559.45L170.85 554.85M168.15 554.65V559.65M165.25 557.15H171.05M172.35 560.61L177.75 565.21M172.35 565.21L177.75 560.61M175.05 560.41V565.41M172.15 562.91H177.95M179.25 545.4L184.65 550M179.25 550L184.65 545.4M181.95 545.2V550.2M179.05 547.7H184.85M186.15 518.54L191.55 523.14M186.15 523.14L191.55 518.54M188.85 518.34V523.34M185.95 520.84H191.75" stroke="#00ff00" stroke-width="1.2"/><path d="M23.25 521.28L30.15 510.5L37.05 512.27L43.95 516.41L50.85 517L57.75 514.64L64.65 518.18L71.55 524.82L78.45 539.73L85.35 540.91L92.25 533.83L99.15 525.41L106.05 511.98L112.95 501.2L119.85 489.83L126.75 497.51L133.65 511.83L140.55 532.35L147.45 546.97L154.35 562.02L161.25 565.57L168.15 574.57L175.05 573.69L181.95 568.67L188.85 575.01" stroke="#0000ff" stroke-width="1.5" stroke-linejoin="round"/><path d="M20.55 518.98L25.95 523.58M20.55 523.58L25.95 518.98M23.25 518.78V523.78M20.35 521.28H26.15M27.45 508.2L32.85 512.8M27.45 512.8L32.85 508.2M30.15 508V513M27.25 510.5H33.05M34.35 509.97L39.75 514.57M34.35 514.57L39.75 509.97M37.05 509.77V514.77M34.15 512.27H39.95M41.25 514.11L46.65 518.71M41.25 518.71L46.65 514.11M43.95 513.91V518.91M41.05 516.41H46.85M48.15 514.7L53.55 519.3M48.15 519.3L53.55 514.7M50.85 514.5V519.5M47.95 517H53.75M55.05 512.34L60.45 516.94M55.05 516.94L60.45 512.34M57.75 512.14V517.14M54.85 514.64H60.65M61.95 515.88L67.35 520.48M61.95 520.48L67.35 515.88M64.65 515.68V520.68M61.75 518.18H67.55M68.85 522.52L74.25 527.12M68.85 527.12L74.25 522.52M71.55 522.32V527.32M68.65 524.82H74.45M75.75 537.43L81.15 542.03M75.75 542.03L81.15 537.43M78.45 537.23V542.23M75.55 539.73H81.35M82.65 538.61L88.05 543.21M82.65 543.21L88.05 538.61M85.35 538.41V543.41M82.45 540.91H88.25M89.55 531.53L94.95 536.13M89.55 536.13L94.95 531.53M92.25 531.33V536.33M89.35 533.83H95.15M96.45 523.11L101.85 527.71M96.45 527.71L101.85 523.11M99.15 522.91V527.91M96.25 525.41H102.05M103.35 509.68L108.75 514.28M103.35 514.28L108.75 509.68M106.05 509.48V514.48M103.15 511.98H108.95M110.25 498.9L115.65 503.5M110.25 503.5L115.65 498.9M112.95 498.7V503.7M110.05 501.2H115.85M117.15 487.53L122.55 492.13M117.15 492.13L122.55 487.53M119.85 487.33V492.33M116.95 489.83H122.75M124.05 495.21L129.45 499.81M124.05 499.81L129.45 495.21M126.75 495.01V500.01M123.85 497.51H129.65M130.95 509.53L136.35 514.13M130.95 514.13L136.35 509.53M133.65 509.33V514.33M130.75 511.83H136.55M137.85 530.05L143.25 534.65M137.85 534.65L143.25 530.05M140.55 529.85V534.85M137.65 532.35H143.45M144.75 544.67L150.15 549.27M144.75 549.27L150.15 544.67M147.45 544.47V549.47M144.55 546.97H150.35M151.65 559.72L157.05 564.32M151.65 564.32L157.05 559.72M154.35 559.52V564.52M151.45 562.02H157.25M158.55 563.27L163.95 567.87M158.55 567.87L163.95 563.27M161.25 563.07V568.07M158.35 565.57H164.15M165.45 572.27L170.85 576.87M165.45 576.87L170.85 572.27M168.15 572.07V577.07M165.25 574.57H171.05M172.35 571.39L177.75 575.99M172.35 575.99L177.75 571.39M175.05 571.19V576.19M172.15 573.69H177.95M179.25 566.37L184.65 570.97M179.25 570.97L184.65 566.37M181.95 566.17V571.17M179.05 568.67H184.85M186.15 572.71L191.55 577.31M186.15 577.31L191.55 572.71M188.85 572.51V577.51M185.95 575.01H191.75" stroke="#0000ff" stroke-width="1.2"/><path d="M23.25 574.42L30.15 574.42L37.05 548.59L43.95 567.04L50.85 563.5L57.75 550.21L64.65 544.46L71.55 566.01L78.45 544.46L85.35 537.37L92.25 538.55L99.15 529.1L106.05 526L112.95 536.78L119.85 522.46L126.75 522.46L133.65 520.69L140.55 529.1L147.45 529.1L154.35 517L161.25 527.33L168.15 529.55L175.05 529.1L181.95 524.23L188.85 527.33" stroke="#ff0000" stroke-width="1.5" stroke-linejoin="round"/><path d="M20.55 572.12L25.95 576.72M20.55 576.72L25.95 572.12M23.25 571.92V576.92M20.35 574.42H26.15M27.45 572.12L32.85 576.72M27.45 576.72L32.85 572.12M30.15 571.92V576.92M27.25 574.42H33.05M34.35 546.29L39.75 550.89M34.35 550.89L39.75 546.29M37.05 546.09V551.09M34.15 548.59H39.95M41.25 564.74L46.65 569.34M41.25 569.34L46.65 564.74M43.95 564.54V569.54M41.05 567.04H46.85M48.15 561.2L53.55 565.8M48.15 565.8L53.55 561.2M50.85 561V566M47.95 563.5H53.75M55.05 547.91L60.45 552.51M55.05 552.51L60.45 547.91M57.75 547.71V552.71M54.85 550.21H60.65M61.95 542.16L67.35 546.76M61.95 546.76L67.35 542.16M64.65 541.96V546.96M61.75 544.46H67.55M68.85 563.71L74.25 568.31M68.85 568.31L74.25 563.71M71.55 563.51V568.51M68.65 566.01H74.45M75.75 542.16L81.15 546.76M75.75 546.76L81.15 542.16M78.45 541.96V546.96M75.55 544.46H81.35M82.65 535.07L88.05 539.67M82.65 539.67L88.05 535.07M85.35 534.87V539.87M82.45 537.37H88.25M89.55 536.25L94.95 540.85M89.55 540.85L94.95 536.25M92.25 536.05V541.05M89.35 538.55H95.15M96.45 526.8L101.85 531.4M96.45 531.4L101.85 526.8M99.15 526.6V531.6M96.25 529.1H102.05M103.35 523.7L108.75 528.3M103.35 528.3L108.75 523.7M106.05 523.5V528.5M103.15 526H108.95M110.25 534.48L115.65 539.08M110.25 539.08L115.65 534.48M112.95 534.28V539.28M110.05 536.78H115.85M117.15 520.16L122.55 524.76M117.15 524.76L122.55 520.16M119.85 519.96V524.96M116.95 522.46H122.75M124.05 520.16L129.45 524.76M124.05 524.76L129.45 520.16M126.75 519.96V524.96M123.85 522.46H129.65M130.95 518.39L136.35 522.99M130.95 522.99L136.35 518.39M133.65 518.19V523.19M130.75 520.69H136.55M137.85 526.8L143.25 531.4M137.85 531.4L143.25 526.8M140.55 526.6V531.6M137.65 529.1H143.45M144.75 526.8L150.15 531.4M144.75 531.4L150.15 526.8M147.45 526.6V531.6M144.55 529.1H150.35M151.65 514.7L157.05 519.3M151.65 519.3L157.05 514.7M154.35 514.5V519.5M151.45 517H157.25M158.55 525.03L163.95 529.63M158.55 529.63L163.95 525.03M161.25 524.83V529.83M158.35 527.33H164.15M165.45 527.25L170.85 531.85M165.45 531.85L170.85 527.25M168.15 527.05V532.05M165.25 529.55H171.05M172.35 526.8L177.75 531.4M172.35 531.4L177.75 526.8M175.05 526.6V531.6M172.15 529.1H177.95M179.25 521.93L184.65 526.53M179.25 526.53L184.65 521.93M181.95 521.73V526.73M179.05 524.23H184.85M186.15 525.03L191.55 529.63M186.15 529.63L191.55 525.03M188.85 524.83V529.83M185.95 527.33H191.75" stroke="#ff0000" stroke-width="1.2"/></g><path d="M23 464H189.9M23 582.1H189.9" stroke="#000" stroke-width="1.8" fill="none"/><path d="M23.6 464V582.1M189.3 464V582.1" stroke="#000" stroke-width="1.3" fill="none"/><path d="M50.85 464v6M50.85 582.1v-6M78.45 464v6M78.45 582.1v-6M106.05 464v6M106.05 582.1v-6M133.65 464v6M133.65 582.1v-6M161.25 464v6M161.25 582.1v-6M37.05 464v4M37.05 582.1v-4M64.65 464v4M64.65 582.1v-4M92.25 464v4M92.25 582.1v-4M119.85 464v4M119.85 582.1v-4M147.45 464v4M147.45 582.1v-4M175.05 464v4M175.05 582.1v-4M23.6 552.58h6M189.3 552.58h-6M23.6 523.05h6M189.3 523.05h-6M23.6 493.53h6M189.3 493.53h-6M23.6 567.34h4M189.3 567.34h-4M23.6 537.81h4M189.3 537.81h-4M23.6 508.29h4M189.3 508.29h-4M23.6 478.76h4M189.3 478.76h-4" stroke="#000" stroke-width="1.1" fill="none"/><path d="M50.85 464V581.1M78.45 464V581.1M106.05 464V581.1M133.65 464V581.1M161.25 464V581.1M24.6 464H188.3M24.6 552.58H188.3M24.6 523.05H188.3M24.6 493.53H188.3" stroke="#000" stroke-width="1" stroke-dasharray="1.3 1.8" fill="none"/><g class="t" fill="#000"><text x="23.25" y="592.8" text-anchor="middle">0</text><text x="50.85" y="592.8" text-anchor="middle">4</text><text x="78.45" y="592.8" text-anchor="middle">8</text><text x="106.05" y="592.8" text-anchor="middle">12</text><text x="133.65" y="592.8" text-anchor="middle">16</text><text x="161.25" y="592.8" text-anchor="middle">20</text><text x="188.85" y="592.8" text-anchor="middle">24</text><text x="19.1" y="585.4" text-anchor="end">0</text><text x="19.1" y="555.88" text-anchor="end">20</text><text x="19.1" y="526.35" text-anchor="end">40</text><text x="19.1" y="496.83" text-anchor="end">60</text><text x="19.1" y="467.3" text-anchor="end">80</text></g><text class="n" x="106.45" y="606.8" text-anchor="middle" fill="#000" clip-path="url(#l30)" textLength="100.7" lengthAdjust="spacingAndGlyphs">Airport, Pump House 1</text>
<clipPath id="c31"><rect x="216.6" y="464" width="165.7" height="118.1"/></clipPath><clipPath id="l31"><rect x="196.6" y="594.1" width="205.7" height="12.7"/></clipPath><g clip-path="url(#c31)" fill="none"><path d="M216.25 580.92L223.15 580.92L230.05 580.92L236.95 580.92L243.85 558.48L250.75 543.87L257.65 553.17L264.55 574.28L271.45 565.27L278.35 568.37L285.25 579L292.15 576.34L299.05 575.46L305.95 576.05L312.85 568.96L319.75 566.6L326.65 561.28L333.55 551.39L340.45 537.07L347.35 576.05L354.25 575.46L361.15 559.96L368.05 572.5L374.95 555.82L381.85 534.86" stroke="#00ffff" stroke-width="1.5" stroke-linejoin="round"/><path d="M213.55 578.62L218.95 583.22M213.55 583.22L218.95 578.62M216.25 578.42V583.42M213.35 580.92H219.15M220.45 578.62L225.85 583.22M220.45 583.22L225.85 578.62M223.15 578.42V583.42M220.25 580.92H226.05M227.35 578.62L232.75 583.22M227.35 583.22L232.75 578.62M230.05 578.42V583.42M227.15 580.92H232.95M234.25 578.62L239.65 583.22M234.25 583.22L239.65 578.62M236.95 578.42V583.42M234.05 580.92H239.85M241.15 556.18L246.55 560.78M241.15 560.78L246.55 556.18M243.85 555.98V560.98M240.95 558.48H246.75M248.05 541.57L253.45 546.17M248.05 546.17L253.45 541.57M250.75 541.37V546.37M247.85 543.87H253.65M254.95 550.87L260.35 555.47M254.95 555.47L260.35 550.87M257.65 550.67V555.67M254.75 553.17H260.55M261.85 571.98L267.25 576.58M261.85 576.58L267.25 571.98M264.55 571.78V576.78M261.65 574.28H267.45M268.75 562.97L274.15 567.57M268.75 567.57L274.15 562.97M271.45 562.77V567.77M268.55 565.27H274.35M275.65 566.07L281.05 570.67M275.65 570.67L281.05 566.07M278.35 565.87V570.87M275.45 568.37H281.25M282.55 576.7L287.95 581.3M282.55 581.3L287.95 576.7M285.25 576.5V581.5M282.35 579H288.15M289.45 574.04L294.85 578.64M289.45 578.64L294.85 574.04M292.15 573.84V578.84M289.25 576.34H295.05M296.35 573.16L301.75 577.76M296.35 577.76L301.75 573.16M299.05 572.96V577.96M296.15 575.46H301.95M303.25 573.75L308.65 578.35M303.25 578.35L308.65 573.75M305.95 573.55V578.55M303.05 576.05H308.85M310.15 566.66L315.55 571.26M310.15 571.26L315.55 566.66M312.85 566.46V571.46M309.95 568.96H315.75M317.05 564.3L322.45 568.9M317.05 568.9L322.45 564.3M319.75 564.1V569.1M316.85 566.6H322.65M323.95 558.98L329.35 563.58M323.95 563.58L329.35 558.98M326.65 558.78V563.78M323.75 561.28H329.55M330.85 549.09L336.25 553.69M330.85 553.69L336.25 549.09M333.55 548.89V553.89M330.65 551.39H336.45M337.75 534.77L343.15 539.37M337.75 539.37L343.15 534.77M340.45 534.57V539.57M337.55 537.07H343.35M344.65 573.75L350.05 578.35M344.65 578.35L350.05 573.75M347.35 573.55V578.55M344.45 576.05H350.25M351.55 573.16L356.95 577.76M351.55 577.76L356.95 573.16M354.25 572.96V577.96M351.35 575.46H357.15M358.45 557.66L363.85 562.26M358.45 562.26L363.85 557.66M361.15 557.46V562.46M358.25 559.96H364.05M365.35 570.2L370.75 574.8M365.35 574.8L370.75 570.2M368.05 570V575M365.15 572.5H370.95M372.25 553.52L377.65 558.12M372.25 558.12L377.65 553.52M374.95 553.32V558.32M372.05 555.82H377.85M379.15 532.56L384.55 537.16M379.15 537.16L384.55 532.56M381.85 532.36V537.36M378.95 534.86H384.75" stroke="#00ffff" stroke-width="1.2"/><path d="M216.25 535.16L223.15 536.04L230.05 539.14L236.95 534.42L243.85 528.51L250.75 525.41L257.65 527.18L264.55 534.86L271.45 551.69L278.35 551.69L285.25 549.92L292.15 548.59L299.05 550.95L305.95 541.5L312.85 537.07L319.75 535.6L326.65 530.73L333.55 521.28L340.45 514.78L347.35 526.59L354.25 545.05L361.15 533.38L368.05 522.31L374.95 523.05L381.85 515.23" stroke="#00ff00" stroke-width="1.5" stroke-linejoin="round"/><path d="M213.55 532.86L218.95 537.46M213.55 537.46L218.95 532.86M216.25 532.66V537.66M213.35 535.16H219.15M220.45 533.74L225.85 538.34M220.45 538.34L225.85 533.74M223.15 533.54V538.54M220.25 536.04H226.05M227.35 536.84L232.75 541.44M227.35 541.44L232.75 536.84M230.05 536.64V541.64M227.15 539.14H232.95M234.25 532.12L239.65 536.72M234.25 536.72L239.65 532.12M236.95 531.92V536.92M234.05 534.42H239.85M241.15 526.21L246.55 530.81M241.15 530.81L246.55 526.21M243.85 526.01V531.01M240.95 528.51H246.75M248.05 523.11L253.45 527.71M248.05 527.71L253.45 523.11M250.75 522.91V527.91M247.85 525.41H253.65M254.95 524.88L260.35 529.48M254.95 529.48L260.35 524.88M257.65 524.68V529.68M254.75 527.18H260.55M261.85 532.56L267.25 537.16M261.85 537.16L267.25 532.56M264.55 532.36V537.36M261.65 534.86H267.45M268.75 549.39L274.15 553.99M268.75 553.99L274.15 549.39M271.45 549.19V554.19M268.55 551.69H274.35M275.65 549.39L281.05 553.99M275.65 553.99L281.05 549.39M278.35 549.19V554.19M275.45 551.69H281.25M282.55 547.62L287.95 552.22M282.55 552.22L287.95 547.62M285.25 547.42V552.42M282.35 549.92H288.15M289.45 546.29L294.85 550.89M289.45 550.89L294.85 546.29M292.15 546.09V551.09M289.25 548.59H295.05M296.35 548.65L301.75 553.25M296.35 553.25L301.75 548.65M299.05 548.45V553.45M296.15 550.95H301.95M303.25 539.2L308.65 543.8M303.25 543.8L308.65 539.2M305.95 539V544M303.05 541.5H308.85M310.15 534.77L315.55 539.37M310.15 539.37L315.55 534.77M312.85 534.57V539.57M309.95 537.07H315.75M317.05 533.3L322.45 537.9M317.05 537.9L322.45 533.3M319.75 533.1V538.1M316.85 535.6H322.65M323.95 528.43L329.35 533.03M323.95 533.03L329.35 528.43M326.65 528.23V533.23M323.75 530.73H329.55M330.85 518.98L336.25 523.58M330.85 523.58L336.25 518.98M333.55 518.78V523.78M330.65 521.28H336.45M337.75 512.48L343.15 517.08M337.75 517.08L343.15 512.48M340.45 512.28V517.28M337.55 514.78H343.35M344.65 524.29L350.05 528.89M344.65 528.89L350.05 524.29M347.35 524.09V529.09M344.45 526.59H350.25M351.55 542.75L356.95 547.35M351.55 547.35L356.95 542.75M354.25 542.55V547.55M351.35 545.05H357.15M358.45 531.08L363.85 535.68M358.45 535.68L363.85 531.08M361.15 530.88V535.88M358.25 533.38H364.05M365.35 520.01L370.75 524.61M365.35 524.61L370.75 520.01M368.05 519.81V524.81M365.15 522.31H370.95M372.25 520.75L377.65 525.35M372.25 525.35L377.65 520.75M374.95 520.55V525.55M372.05 523.05H377.85M379.15 512.93L384.55 517.53M379.15 517.53L384.55 512.93M381.85 512.73V517.73M378.95 515.23H384.75" stroke="#00ff00" stroke-width="1.2"/><path d="M216.25 515.23L223.15 516.41L230.05 518.18L236.95 528.96L243.85 530.73L250.75 520.54L257.65 528.51L264.55 540.32L271.45 562.47L278.35 560.69L285.25 551.69L292.15 543.87L299.05 539.73L305.95 529.84L312.85 524.82L319.75 543.87L326.65 526.59L333.55 526.59L340.45 528.07L347.35 535.6L354.25 554.94L361.15 572.5L368.05 579.59L374.95 579.59L381.85 577.23" stroke="#0000ff" stroke-width="1.5" stroke-linejoin="round"/><path d="M213.55 512.93L218.95 517.53M213.55 517.53L218.95 512.93M216.25 512.73V517.73M213.35 515.23H219.15M220.45 514.11L225.85 518.71M220.45 518.71L225.85 514.11M223.15 513.91V518.91M220.25 516.41H226.05M227.35 515.88L232.75 520.48M227.35 520.48L232.75 515.88M230.05 515.68V520.68M227.15 518.18H232.95M234.25 526.66L239.65 531.25M234.25 531.25L239.65 526.66M236.95 526.46V531.46M234.05 528.96H239.85M241.15 528.43L246.55 533.03M241.15 533.03L246.55 528.43M243.85 528.23V533.23M240.95 530.73H246.75M248.05 518.24L253.45 522.84M248.05 522.84L253.45 518.24M250.75 518.04V523.04M247.85 520.54H253.65M254.95 526.21L260.35 530.81M254.95 530.81L260.35 526.21M257.65 526.01V531.01M254.75 528.51H260.55M261.85 538.02L267.25 542.62M261.85 542.62L267.25 538.02M264.55 537.82V542.82M261.65 540.32H267.45M268.75 560.17L274.15 564.77M268.75 564.77L274.15 560.17M271.45 559.97V564.97M268.55 562.47H274.35M275.65 558.39L281.05 562.99M275.65 562.99L281.05 558.39M278.35 558.19V563.19M275.45 560.69H281.25M282.55 549.39L287.95 553.99M282.55 553.99L287.95 549.39M285.25 549.19V554.19M282.35 551.69H288.15M289.45 541.57L294.85 546.17M289.45 546.17L294.85 541.57M292.15 541.37V546.37M289.25 543.87H295.05M296.35 537.43L301.75 542.03M296.35 542.03L301.75 537.43M299.05 537.23V542.23M296.15 539.73H301.95M303.25 527.54L308.65 532.14M303.25 532.14L308.65 527.54M305.95 527.34V532.34M303.05 529.84H308.85M310.15 522.52L315.55 527.12M310.15 527.12L315.55 522.52M312.85 522.32V527.32M309.95 524.82H315.75M317.05 541.57L322.45 546.17M317.05 546.17L322.45 541.57M319.75 541.37V546.37M316.85 543.87H322.65M323.95 524.29L329.35 528.89M323.95 528.89L329.35 524.29M326.65 524.09V529.09M323.75 526.59H329.55M330.85 524.29L336.25 528.89M330.85 528.89L336.25 524.29M333.55 524.09V529.09M330.65 526.59H336.45M337.75 525.77L343.15 530.37M337.75 530.37L343.15 525.77M340.45 525.57V530.57M337.55 528.07H343.35M344.65 533.3L350.05 537.9M344.65 537.9L350.05 533.3M347.35 533.1V538.1M344.45 535.6H350.25M351.55 552.64L356.95 557.24M351.55 557.24L356.95 552.64M354.25 552.44V557.44M351.35 554.94H357.15M358.45 570.2L363.85 574.8M358.45 574.8L363.85 570.2M361.15 570V575M358.25 572.5H364.05M365.35 577.29L370.75 581.89M365.35 581.89L370.75 577.29M368.05 577.09V582.09M365.15 579.59H370.95M372.25 577.29L377.65 581.89M372.25 581.89L377.65 577.29M374.95 577.09V582.09M372.05 579.59H377.85M379.15 574.93L384.55 579.53M379.15 579.53L384.55 574.93M381.85 574.73V579.73M378.95 577.23H384.75" stroke="#0000ff" stroke-width="1.2"/><path d="M216.25 576.34L223.15 552.72L230.05 534.86L236.95 527.18L243.85 510.21L250.75 509.32L257.65 508.73L264.55 513.75L271.45 524.82L278.35 534.42L285.25 542.39L292.15 530.73L299.05 519.95L305.95 511.54L312.85 506.96L319.75 508.44L326.65 510.21L333.55 515.23L340.45 527.18L347.35 539.73L354.25 527.77L361.15 528.96L368.05 517L374.95 535.6L381.85 532.06" stroke="#ff0000" stroke-width="1.5" stroke-linejoin="round"/><path d="M213.55 574.04L218.95 578.64M213.55 578.64L218.95 574.04M216.25 573.84V578.84M213.35 576.34H219.15M220.45 550.42L225.85 555.02M220.45 555.02L225.85 550.42M223.15 550.22V555.22M220.25 552.72H226.05M227.35 532.56L232.75 537.16M227.35 537.16L232.75 532.56M230.05 532.36V537.36M227.15 534.86H232.95M234.25 524.88L239.65 529.48M234.25 529.48L239.65 524.88M236.95 524.68V529.68M234.05 527.18H239.85M241.15 507.91L246.55 512.51M241.15 512.51L246.55 507.91M243.85 507.71V512.71M240.95 510.21H246.75M248.05 507.02L253.45 511.62M248.05 511.62L253.45 507.02M250.75 506.82V511.82M247.85 509.32H253.65M254.95 506.43L260.35 511.03M254.95 511.03L260.35 506.43M257.65 506.23V511.23M254.75 508.73H260.55M261.85 511.45L267.25 516.05M261.85 516.05L267.25 511.45M264.55 511.25V516.25M261.65 513.75H267.45M268.75 522.52L274.15 527.12M268.75 527.12L274.15 522.52M271.45 522.32V527.32M268.55 524.82H274.35M275.65 532.12L281.05 536.72M275.65 536.72L281.05 532.12M278.35 531.92V536.92M275.45 534.42H281.25M282.55 540.09L287.95 544.69M282.55 544.69L287.95 540.09M285.25 539.89V544.89M282.35 542.39H288.15M289.45 528.43L294.85 533.03M289.45 533.03L294.85 528.43M292.15 528.23V533.23M289.25 530.73H295.05M296.35 517.65L301.75 522.25M296.35 522.25L301.75 517.65M299.05 517.45V522.45M296.15 519.95H301.95M303.25 509.24L308.65 513.84M303.25 513.84L308.65 509.24M305.95 509.04V514.04M303.05 511.54H308.85M310.15 504.66L315.55 509.26M310.15 509.26L315.55 504.66M312.85 504.46V509.46M309.95 506.96H315.75M317.05 506.14L322.45 510.74M317.05 510.74L322.45 506.14M319.75 505.94V510.94M316.85 508.44H322.65M323.95 507.91L329.35 512.51M323.95 512.51L329.35 507.91M326.65 507.71V512.71M323.75 510.21H329.55M330.85 512.93L336.25 517.53M330.85 517.53L336.25 512.93M333.55 512.73V517.73M330.65 515.23H336.45M337.75 524.88L343.15 529.48M337.75 529.48L343.15 524.88M340.45 524.68V529.68M337.55 527.18H343.35M344.65 537.43L350.05 542.03M344.65 542.03L350.05 537.43M347.35 537.23V542.23M344.45 539.73H350.25M351.55 525.47L356.95 530.07M351.55 530.07L356.95 525.47M354.25 525.27V530.27M351.35 527.77H357.15M358.45 526.66L363.85 531.25M358.45 531.25L363.85 526.66M361.15 526.46V531.46M358.25 528.96H364.05M365.35 514.7L370.75 519.3M365.35 519.3L370.75 514.7M368.05 514.5V519.5M365.15 517H370.95M372.25 533.3L377.65 537.9M372.25 537.9L377.65 533.3M374.95 533.1V538.1M372.05 535.6H377.85M379.15 529.76L384.55 534.36M379.15 534.36L384.55 529.76M381.85 529.56V534.56M378.95 532.06H384.75" stroke="#ff0000" stroke-width="1.2"/></g><path d="M216 464H382.9M216 582.1H382.9" stroke="#000" stroke-width="1.8" fill="none"/><path d="M216.6 464V582.1M382.3 464V582.1" stroke="#000" stroke-width="1.3" fill="none"/><path d="M243.85 464v6M243.85 582.1v-6M271.45 464v6M271.45 582.1v-6M299.05 464v6M299.05 582.1v-6M326.65 464v6M326.65 582.1v-6M354.25 464v6M354.25 582.1v-6M230.05 464v4M230.05 582.1v-4M257.65 464v4M257.65 582.1v-4M285.25 464v4M285.25 582.1v-4M312.85 464v4M312.85 582.1v-4M340.45 464v4M340.45 582.1v-4M368.05 464v4M368.05 582.1v-4M216.6 552.58h6M382.3 552.58h-6M216.6 523.05h6M382.3 523.05h-6M216.6 493.53h6M382.3 493.53h-6M216.6 567.34h4M382.3 567.34h-4M216.6 537.81h4M382.3 537.81h-4M216.6 508.29h4M382.3 508.29h-4M216.6 478.76h4M382.3 478.76h-4" stroke="#000" stroke-width="1.1" fill="none"/><path d="M243.85 464V581.1M271.45 464V581.1M299.05 464V581.1M326.65 464V581.1M354.25 464V581.1M217.6 464H381.3M217.6 552.58H381.3M217.6 523.05H381.3M217.6 493.53H381.3" stroke="#000" stroke-width="1" stroke-dasharray="1.3 1.8" fill="none"/><g class="t" fill="#000"><text x="216.25" y="592.8" text-anchor="middle">0</text><text x="243.85" y="592.8" text-anchor="middle">4</text><text x="271.45" y="592.8" text-anchor="middle">8</text><text x="299.05" y="592.8" text-anchor="middle">12</text><text x="326.65" y="592.8" text-anchor="middle">16</text><text x="354.25" y="592.8" text-anchor="middle">20</text><text x="381.85" y="592.8" text-anchor="middle">24</text><text x="212.1" y="585.4" text-anchor="end">0</text><text x="212.1" y="555.88" text-anchor="end">20</text><text x="212.1" y="526.35" text-anchor="end">40</text><text x="212.1" y="496.83" text-anchor="end">60</text><text x="212.1" y="467.3" text-anchor="end">80</text></g><text class="n" x="299.45" y="606.8" text-anchor="middle" fill="#000" clip-path="url(#l31)">Central/Western</text>
<clipPath id="c32"><rect x="409.6" y="464" width="165.7" height="118.1"/></clipPath><clipPath id="l32"><rect x="389.6" y="594.1" width="205.7" height="12.7"/></clipPath><g clip-path="url(#c32)" fill="none"><path d="M409.25 581.51L416.15 580.62L423.05 580.92L429.95 580.62L436.85 562.47L443.75 557.74L450.65 564.24L457.55 575.16L464.45 578.56L471.35 580.33L478.25 580.62L485.15 580.62L492.05 579.74L498.95 579.74L505.85 580.33L512.75 580.33L519.65 580.33L526.55 580.33L533.45 580.33L540.35 580.33L547.25 578.56L554.15 577.23L561.05 574.28L567.95 561.73L574.85 556.27" stroke="#00ffff" stroke-width="1.5" stroke-linejoin="round"/><path d="M406.55 579.21L411.95 583.81M406.55 583.81L411.95 579.21M409.25 579.01V584.01M406.35 581.51H412.15M413.45 578.32L418.85 582.92M413.45 582.92L418.85 578.32M416.15 578.12V583.12M413.25 580.62H419.05M420.35 578.62L425.75 583.22M420.35 583.22L425.75 578.62M423.05 578.42V583.42M420.15 580.92H425.95M427.25 578.32L432.65 582.92M427.25 582.92L432.65 578.32M429.95 578.12V583.12M427.05 580.62H432.85M434.15 560.17L439.55 564.77M434.15 564.77L439.55 560.17M436.85 559.97V564.97M433.95 562.47H439.75M441.05 555.44L446.45 560.04M441.05 560.04L446.45 555.44M443.75 555.24V560.24M440.85 557.74H446.65M447.95 561.94L453.35 566.54M447.95 566.54L453.35 561.94M450.65 561.74V566.74M447.75 564.24H453.55M454.85 572.86L460.25 577.46M454.85 577.46L460.25 572.86M457.55 572.66V577.66M454.65 575.16H460.45M461.75 576.26L467.15 580.86M461.75 580.86L467.15 576.26M464.45 576.06V581.06M461.55 578.56H467.35M468.65 578.03L474.05 582.63M468.65 582.63L474.05 578.03M471.35 577.83V582.83M468.45 580.33H474.25M475.55 578.32L480.95 582.92M475.55 582.92L480.95 578.32M478.25 578.12V583.12M475.35 580.62H481.15M482.45 578.32L487.85 582.92M482.45 582.92L487.85 578.32M485.15 578.12V583.12M482.25 580.62H488.05M489.35 577.44L494.75 582.04M489.35 582.04L494.75 577.44M492.05 577.24V582.24M489.15 579.74H494.95M496.25 577.44L501.65 582.04M496.25 582.04L501.65 577.44M498.95 577.24V582.24M496.05 579.74H501.85M503.15 578.03L508.55 582.63M503.15 582.63L508.55 578.03M505.85 577.83V582.83M502.95 580.33H508.75M510.05 578.03L515.45 582.63M510.05 582.63L515.45 578.03M512.75 577.83V582.83M509.85 580.33H515.65M516.95 578.03L522.35 582.63M516.95 582.63L522.35 578.03M519.65 577.83V582.83M516.75 580.33H522.55M523.85 578.03L529.25 582.63M523.85 582.63L529.25 578.03M526.55 577.83V582.83M523.65 580.33H529.45M530.75 578.03L536.15 582.63M530.75 582.63L536.15 578.03M533.45 577.83V582.83M530.55 580.33H536.35M537.65 578.03L543.05 582.63M537.65 582.63L543.05 578.03M540.35 577.83V582.83M537.45 580.33H543.25M544.55 576.26L549.95 580.86M544.55 580.86L549.95 576.26M547.25 576.06V581.06M544.35 578.56H550.15M551.45 574.93L556.85 579.53M551.45 579.53L556.85 574.93M554.15 574.73V579.73M551.25 577.23H557.05M558.35 571.98L563.75 576.58M558.35 576.58L563.75 571.98M561.05 571.78V576.78M558.15 574.28H563.95M565.25 559.43L570.65 564.03M565.25 564.03L570.65 559.43M567.95 559.23V564.23M565.05 561.73H570.85M572.15 553.97L577.55 558.57M572.15 558.57L577.55 553.97M574.85 553.77V558.77M571.95 556.27H577.75" stroke="#00ffff" stroke-width="1.2"/><path d="M409.25 555.82L416.15 552.72L423.05 550.95L429.95 552.28L436.85 546.37L443.75 541.95L450.65 551.39L457.55 567.78L464.45 576.79L471.35 576.05L478.25 574.87L485.15 573.39L492.05 573.39L498.95 571.32L505.85 561.88L512.75 567.19L519.65 560.69L526.55 560.69L533.45 559.22L540.35 575.6L547.25 578.56L554.15 551.39L561.05 544.16L567.95 545.05L574.85 533.97" stroke="#00ff00" stroke-width="1.5" stroke-linejoin="round"/><path d="M406.55 553.52L411.95 558.12M406.55 558.12L411.95 553.52M409.25 553.32V558.32M406.35 555.82H412.15M413.45 550.42L418.85 555.02M413.45 555.02L418.85 550.42M416.15 550.22V555.22M413.25 552.72H419.05M420.35 548.65L425.75 553.25M420.35 553.25L425.75 548.65M423.05 548.45V553.45M420.15 550.95H425.95M427.25 549.98L432.65 554.58M427.25 554.58L432.65 549.98M429.95 549.78V554.78M427.05 552.28H432.85M434.15 544.07L439.55 548.67M434.15 548.67L439.55 544.07M436.85 543.87V548.87M433.95 546.37H439.75M441.05 539.65L446.45 544.25M441.05 544.25L446.45 539.65M443.75 539.45V544.45M440.85 541.95H446.65M447.95 549.09L453.35 553.69M447.95 553.69L453.35 549.09M450.65 548.89V553.89M447.75 551.39H453.55M454.85 565.48L460.25 570.08M454.85 570.08L460.25 565.48M457.55 565.28V570.28M454.65 567.78H460.45M461.75 574.49L467.15 579.09M461.75 579.09L467.15 574.49M464.45 574.29V579.29M461.55 576.79H467.35M468.65 573.75L474.05 578.35M468.65 578.35L474.05 573.75M471.35 573.55V578.55M468.45 576.05H474.25M475.55 572.57L480.95 577.17M475.55 577.17L480.95 572.57M478.25 572.37V577.37M475.35 574.87H481.15M482.45 571.09L487.85 575.69M482.45 575.69L487.85 571.09M485.15 570.89V575.89M482.25 573.39H488.05M489.35 571.09L494.75 575.69M489.35 575.69L494.75 571.09M492.05 570.89V575.89M489.15 573.39H494.95M496.25 569.02L501.65 573.62M496.25 573.62L501.65 569.02M498.95 568.82V573.82M496.05 571.32H501.85M503.15 559.58L508.55 564.18M503.15 564.18L508.55 559.58M505.85 559.38V564.38M502.95 561.88H508.75M510.05 564.89L515.45 569.49M510.05 569.49L515.45 564.89M512.75 564.69V569.69M509.85 567.19H515.65M516.95 558.39L522.35 562.99M516.95 562.99L522.35 558.39M519.65 558.19V563.19M516.75 560.69H522.55M523.85 558.39L529.25 562.99M523.85 562.99L529.25 558.39M526.55 558.19V563.19M523.65 560.69H529.45M530.75 556.92L536.15 561.52M530.75 561.52L536.15 556.92M533.45 556.72V561.72M530.55 559.22H536.35M537.65 573.3L543.05 577.9M537.65 577.9L543.05 573.3M540.35 573.1V578.1M537.45 575.6H543.25M544.55 576.26L549.95 580.86M544.55 580.86L549.95 576.26M547.25 576.06V581.06M544.35 578.56H550.15M551.45 549.09L556.85 553.69M551.45 553.69L556.85 549.09M554.15 548.89V553.89M551.25 551.39H557.05M558.35 541.86L563.75 546.46M558.35 546.46L563.75 541.86M561.05 541.66V546.66M558.15 544.16H563.95M565.25 542.75L570.65 547.35M565.25 547.35L570.65 542.75M567.95 542.55V547.55M565.05 545.05H570.85M572.15 531.67L577.55 536.27M572.15 536.27L577.55 531.67M574.85 531.47V536.47M571.95 533.97H577.75" stroke="#00ff00" stroke-width="1.2"/><path d="M409.25 533.97L416.15 536.93L423.05 525.71L429.95 528.36L436.85 542.24L443.75 539.44L450.65 551.25L457.55 564.38L464.45 571.91L471.35 575.46L478.25 578.56L485.15 575.46L492.05 571.91L498.95 565.71L505.85 565.71L512.75 571.91L519.65 575.46L526.55 576.05L533.45 577.82L540.35 579L547.25 579.59L554.15 579.59L561.05 579.59L567.95 579.89L574.85 579.89" stroke="#0000ff" stroke-width="1.5" stroke-linejoin="round"/><path d="M406.55 531.67L411.95 536.27M406.55 536.27L411.95 531.67M409.25 531.47V536.47M406.35 533.97H412.15M413.45 534.63L418.85 539.23M413.45 539.23L418.85 534.63M416.15 534.43V539.43M413.25 536.93H419.05M420.35 523.41L425.75 528.01M420.35 528.01L425.75 523.41M423.05 523.21V528.21M420.15 525.71H425.95M427.25 526.06L432.65 530.66M427.25 530.66L432.65 526.06M429.95 525.86V530.86M427.05 528.36H432.85M434.15 539.94L439.55 544.54M434.15 544.54L439.55 539.94M436.85 539.74V544.74M433.95 542.24H439.75M441.05 537.14L446.45 541.74M441.05 541.74L446.45 537.14M443.75 536.94V541.94M440.85 539.44H446.65M447.95 548.95L453.35 553.55M447.95 553.55L453.35 548.95M450.65 548.75V553.75M447.75 551.25H453.55M454.85 562.09L460.25 566.68M454.85 566.68L460.25 562.09M457.55 561.88V566.88M454.65 564.38H460.45M461.75 569.61L467.15 574.21M461.75 574.21L467.15 569.61M464.45 569.41V574.41M461.55 571.91H467.35M468.65 573.16L474.05 577.76M468.65 577.76L474.05 573.16M471.35 572.96V577.96M468.45 575.46H474.25M475.55 576.26L480.95 580.86M475.55 580.86L480.95 576.26M478.25 576.06V581.06M475.35 578.56H481.15M482.45 573.16L487.85 577.76M482.45 577.76L487.85 573.16M485.15 572.96V577.96M482.25 575.46H488.05M489.35 569.61L494.75 574.21M489.35 574.21L494.75 569.61M492.05 569.41V574.41M489.15 571.91H494.95M496.25 563.41L501.65 568.01M496.25 568.01L501.65 563.41M498.95 563.21V568.21M496.05 565.71H501.85M503.15 563.41L508.55 568.01M503.15 568.01L508.55 563.41M505.85 563.21V568.21M502.95 565.71H508.75M510.05 569.61L515.45 574.21M510.05 574.21L515.45 569.61M512.75 569.41V574.41M509.85 571.91H515.65M516.95 573.16L522.35 577.76M516.95 577.76L522.35 573.16M519.65 572.96V577.96M516.75 575.46H522.55M523.85 573.75L529.25 578.35M523.85 578.35L529.25 573.75M526.55 573.55V578.55M523.65 576.05H529.45M530.75 575.52L536.15 580.12M530.75 580.12L536.15 575.52M533.45 575.32V580.32M530.55 577.82H536.35M537.65 576.7L543.05 581.3M537.65 581.3L543.05 576.7M540.35 576.5V581.5M537.45 579H543.25M544.55 577.29L549.95 581.89M544.55 581.89L549.95 577.29M547.25 577.09V582.09M544.35 579.59H550.15M551.45 577.29L556.85 581.89M551.45 581.89L556.85 577.29M554.15 577.09V582.09M551.25 579.59H557.05M558.35 577.29L563.75 581.89M558.35 581.89L563.75 577.29M561.05 577.09V582.09M558.15 579.59H563.95M565.25 577.59L570.65 582.19M565.25 582.19L570.65 577.59M567.95 577.39V582.39M565.05 579.89H570.85M572.15 577.59L577.55 582.19M572.15 582.19L577.55 577.59M574.85 577.39V582.39M571.95 579.89H577.75" stroke="#0000ff" stroke-width="1.2"/><path d="M409.25 580.62L416.15 575.31L423.05 560.1L429.95 552.28L436.85 526.59L443.75 522.75L450.65 519.06L457.55 527.18L464.45 552.72L471.35 565.71L478.25 569.55L485.15 571.91L492.05 558.92L498.95 546.82L505.85 540.91L512.75 540.91L519.65 543.87L526.55 550.21L533.45 558.63L540.35 556.86L547.25 545.05L554.15 546.82L561.05 549.47L567.95 551.69L574.85 558.63" stroke="#ff0000" stroke-width="1.5" stroke-linejoin="round"/><path d="M406.55 578.32L411.95 582.92M406.55 582.92L411.95 578.32M409.25 578.12V583.12M406.35 580.62H412.15M413.45 573.01L418.85 577.61M413.45 577.61L418.85 573.01M416.15 572.81V577.81M413.25 575.31H419.05M420.35 557.8L425.75 562.4M420.35 562.4L425.75 557.8M423.05 557.6V562.6M420.15 560.1H425.95M427.25 549.98L432.65 554.58M427.25 554.58L432.65 549.98M429.95 549.78V554.78M427.05 552.28H432.85M434.15 524.29L439.55 528.89M434.15 528.89L439.55 524.29M436.85 524.09V529.09M433.95 526.59H439.75M441.05 520.45L446.45 525.05M441.05 525.05L446.45 520.45M443.75 520.25V525.25M440.85 522.75H446.65M447.95 516.76L453.35 521.36M447.95 521.36L453.35 516.76M450.65 516.56V521.56M447.75 519.06H453.55M454.85 524.88L460.25 529.48M454.85 529.48L460.25 524.88M457.55 524.68V529.68M454.65 527.18H460.45M461.75 550.42L467.15 555.02M461.75 555.02L467.15 550.42M464.45 550.22V555.22M461.55 552.72H467.35M468.65 563.41L474.05 568.01M468.65 568.01L474.05 563.41M471.35 563.21V568.21M468.45 565.71H474.25M475.55 567.25L480.95 571.85M475.55 571.85L480.95 567.25M478.25 567.05V572.05M475.35 569.55H481.15M482.45 569.61L487.85 574.21M482.45 574.21L487.85 569.61M485.15 569.41V574.41M482.25 571.91H488.05M489.35 556.62L494.75 561.22M489.35 561.22L494.75 556.62M492.05 556.42V561.42M489.15 558.92H494.95M496.25 544.52L501.65 549.12M496.25 549.12L501.65 544.52M498.95 544.32V549.32M496.05 546.82H501.85M503.15 538.61L508.55 543.21M503.15 543.21L508.55 538.61M505.85 538.41V543.41M502.95 540.91H508.75M510.05 538.61L515.45 543.21M510.05 543.21L515.45 538.61M512.75 538.41V543.41M509.85 540.91H515.65M516.95 541.57L522.35 546.17M516.95 546.17L522.35 541.57M519.65 541.37V546.37M516.75 543.87H522.55M523.85 547.91L529.25 552.51M523.85 552.51L529.25 547.91M526.55 547.71V552.71M523.65 550.21H529.45M530.75 556.33L536.15 560.93M530.75 560.93L536.15 556.33M533.45 556.13V561.13M530.55 558.63H536.35M537.65 554.56L543.05 559.16M537.65 559.16L543.05 554.56M540.35 554.36V559.36M537.45 556.86H543.25M544.55 542.75L549.95 547.35M544.55 547.35L549.95 542.75M547.25 542.55V547.55M544.35 545.05H550.15M551.45 544.52L556.85 549.12M551.45 549.12L556.85 544.52M554.15 544.32V549.32M551.25 546.82H557.05M558.35 547.17L563.75 551.77M558.35 551.77L563.75 547.17M561.05 546.97V551.97M558.15 549.47H563.95M565.25 549.39L570.65 553.99M565.25 553.99L570.65 549.39M567.95 549.19V554.19M565.05 551.69H570.85M572.15 556.33L577.55 560.93M572.15 560.93L577.55 556.33M574.85 556.13V561.13M571.95 558.63H577.75" stroke="#ff0000" stroke-width="1.2"/></g><path d="M409 464H575.9M409 582.1H575.9" stroke="#ff0000" stroke-width="1.8" fill="none"/><path d="M409.6 464V582.1M575.3 464V582.1" stroke="#ff0000" stroke-width="1.3" fill="none"/><path d="M436.85 464v6M436.85 582.1v-6M464.45 464v6M464.45 582.1v-6M492.05 464v6M492.05 582.1v-6M519.65 464v6M519.65 582.1v-6M547.25 464v6M547.25 582.1v-6M423.05 464v4M423.05 582.1v-4M450.65 464v4M450.65 582.1v-4M478.25 464v4M478.25 582.1v-4M505.85 464v4M505.85 582.1v-4M533.45 464v4M533.45 582.1v-4M561.05 464v4M561.05 582.1v-4M409.6 552.58h6M575.3 552.58h-6M409.6 523.05h6M575.3 523.05h-6M409.6 493.53h6M575.3 493.53h-6M409.6 567.34h4M575.3 567.34h-4M409.6 537.81h4M575.3 537.81h-4M409.6 508.29h4M575.3 508.29h-4M409.6 478.76h4M575.3 478.76h-4" stroke="#ff0000" stroke-width="1.1" fill="none"/><path d="M436.85 464V581.1M464.45 464V581.1M492.05 464V581.1M519.65 464V581.1M547.25 464V581.1M410.6 464H574.3M410.6 552.58H574.3M410.6 523.05H574.3M410.6 493.53H574.3" stroke="#000" stroke-width="1" stroke-dasharray="1.3 1.8" fill="none"/><g class="t" fill="#ff0000"><text x="409.25" y="592.8" text-anchor="middle">0</text><text x="436.85" y="592.8" text-anchor="middle">4</text><text x="464.45" y="592.8" text-anchor="middle">8</text><text x="492.05" y="592.8" text-anchor="middle">12</text><text x="519.65" y="592.8" text-anchor="middle">16</text><text x="547.25" y="592.8" text-anchor="middle">20</text><text x="574.85" y="592.8" text-anchor="middle">24</text><text x="405.1" y="585.4" text-anchor="end">0</text><text x="405.1" y="555.88" text-anchor="end">20</text><text x="405.1" y="526.35" text-anchor="end">40</text><text x="405.1" y="496.83" text-anchor="end">60</text><text x="405.1" y="467.3" text-anchor="end">80</text></g><text class="n" x="492.45" y="606.8" text-anchor="middle" fill="#ff0000" clip-path="url(#l32)">Central</text>
<clipPath id="c33"><rect x="602.6" y="464" width="165.7" height="118.1"/></clipPath><clipPath id="l33"><rect x="582.6" y="594.1" width="205.7" height="12.7"/></clipPath><g clip-path="url(#c33)" fill="none"><path d="M602.25 581.51L609.15 580.92L616.05 581.51L622.95 580.62L629.85 567.19L636.75 550.21L643.65 560.1L650.55 578.11L657.45 578.11L664.35 579.74L671.25 580.62L678.15 580.62L685.05 580.62L691.95 580.62L698.85 580.62L705.75 580.33L712.65 580.62L719.55 580.62L726.45 580.62L733.35 580.62L740.25 580.62L747.15 577.08L754.05 573.24L760.95 570.88L767.85 562.76" stroke="#00ffff" stroke-width="1.5" stroke-linejoin="round"/><path d="M599.55 579.21L604.95 583.81M599.55 583.81L604.95 579.21M602.25 579.01V584.01M599.35 581.51H605.15M606.45 578.62L611.85 583.22M606.45 583.22L611.85 578.62M609.15 578.42V583.42M606.25 580.92H612.05M613.35 579.21L618.75 583.81M613.35 583.81L618.75 579.21M616.05 579.01V584.01M613.15 581.51H618.95M620.25 578.32L625.65 582.92M620.25 582.92L625.65 578.32M622.95 578.12V583.12M620.05 580.62H625.85M627.15 564.89L632.55 569.49M627.15 569.49L632.55 564.89M629.85 564.69V569.69M626.95 567.19H632.75M634.05 547.91L639.45 552.51M634.05 552.51L639.45 547.91M636.75 547.71V552.71M633.85 550.21H639.65M640.95 557.8L646.35 562.4M640.95 562.4L646.35 557.8M643.65 557.6V562.6M640.75 560.1H646.55M647.85 575.81L653.25 580.41M647.85 580.41L653.25 575.81M650.55 575.61V580.61M647.65 578.11H653.45M654.75 575.81L660.15 580.41M654.75 580.41L660.15 575.81M657.45 575.61V580.61M654.55 578.11H660.35M661.65 577.44L667.05 582.04M661.65 582.04L667.05 577.44M664.35 577.24V582.24M661.45 579.74H667.25M668.55 578.32L673.95 582.92M668.55 582.92L673.95 578.32M671.25 578.12V583.12M668.35 580.62H674.15M675.45 578.32L680.85 582.92M675.45 582.92L680.85 578.32M678.15 578.12V583.12M675.25 580.62H681.05M682.35 578.32L687.75 582.92M682.35 582.92L687.75 578.32M685.05 578.12V583.12M682.15 580.62H687.95M689.25 578.32L694.65 582.92M689.25 582.92L694.65 578.32M691.95 578.12V583.12M689.05 580.62H694.85M696.15 578.32L701.55 582.92M696.15 582.92L701.55 578.32M698.85 578.12V583.12M695.95 580.62H701.75M703.05 578.03L708.45 582.63M703.05 582.63L708.45 578.03M705.75 577.83V582.83M702.85 580.33H708.65M709.95 578.32L715.35 582.92M709.95 582.92L715.35 578.32M712.65 578.12V583.12M709.75 580.62H715.55M716.85 578.32L722.25 582.92M716.85 582.92L722.25 578.32M719.55 578.12V583.12M716.65 580.62H722.45M723.75 578.32L729.15 582.92M723.75 582.92L729.15 578.32M726.45 578.12V583.12M723.55 580.62H729.35M730.65 578.32L736.05 582.92M730.65 582.92L736.05 578.32M733.35 578.12V583.12M730.45 580.62H736.25M737.55 578.32L742.95 582.92M737.55 582.92L742.95 578.32M740.25 578.12V583.12M737.35 580.62H743.15M744.45 574.78L749.85 579.38M744.45 579.38L749.85 574.78M747.15 574.58V579.58M744.25 577.08H750.05M751.35 570.94L756.75 575.54M751.35 575.54L756.75 570.94M754.05 570.74V575.74M751.15 573.24H756.95M758.25 568.58L763.65 573.18M758.25 573.18L763.65 568.58M760.95 568.38V573.38M758.05 570.88H763.85M765.15 560.46L770.55 565.06M765.15 565.06L770.55 560.46M767.85 560.26V565.26M764.95 562.76H770.75" stroke="#00ffff" stroke-width="1.2"/><path d="M602.25 562.76L609.15 557.45L616.05 561.88L622.95 553.46L629.85 551.69L636.75 535.01L643.65 549.33L650.55 564.24L657.45 566.75L664.35 576.79L671.25 578.56L678.15 579.74L685.05 579.74L691.95 579.74L698.85 578.56L705.75 580.33L712.65 580.62L719.55 580.62L726.45 580.62L733.35 580.62L740.25 567.04L747.15 568.37L754.05 567.93L760.95 562.02L767.85 548.29" stroke="#00ff00" stroke-width="1.5" stroke-linejoin="round"/><path d="M599.55 560.46L604.95 565.06M599.55 565.06L604.95 560.46M602.25 560.26V565.26M599.35 562.76H605.15M606.45 555.15L611.85 559.75M606.45 559.75L611.85 555.15M609.15 554.95V559.95M606.25 557.45H612.05M613.35 559.58L618.75 564.18M613.35 564.18L618.75 559.58M616.05 559.38V564.38M613.15 561.88H618.95M620.25 551.16L625.65 555.76M620.25 555.76L625.65 551.16M622.95 550.96V555.96M620.05 553.46H625.85M627.15 549.39L632.55 553.99M627.15 553.99L632.55 549.39M629.85 549.19V554.19M626.95 551.69H632.75M634.05 532.71L639.45 537.31M634.05 537.31L639.45 532.71M636.75 532.51V537.51M633.85 535.01H639.65M640.95 547.03L646.35 551.63M640.95 551.63L646.35 547.03M643.65 546.83V551.83M640.75 549.33H646.55M647.85 561.94L653.25 566.54M647.85 566.54L653.25 561.94M650.55 561.74V566.74M647.65 564.24H653.45M654.75 564.45L660.15 569.05M654.75 569.05L660.15 564.45M657.45 564.25V569.25M654.55 566.75H660.35M661.65 574.49L667.05 579.09M661.65 579.09L667.05 574.49M664.35 574.29V579.29M661.45 576.79H667.25M668.55 576.26L673.95 580.86M668.55 580.86L673.95 576.26M671.25 576.06V581.06M668.35 578.56H674.15M675.45 577.44L680.85 582.04M675.45 582.04L680.85 577.44M678.15 577.24V582.24M675.25 579.74H681.05M682.35 577.44L687.75 582.04M682.35 582.04L687.75 577.44M685.05 577.24V582.24M682.15 579.74H687.95M689.25 577.44L694.65 582.04M689.25 582.04L694.65 577.44M691.95 577.24V582.24M689.05 579.74H694.85M696.15 576.26L701.55 580.86M696.15 580.86L701.55 576.26M698.85 576.06V581.06M695.95 578.56H701.75M703.05 578.03L708.45 582.63M703.05 582.63L708.45 578.03M705.75 577.83V582.83M702.85 580.33H708.65M709.95 578.32L715.35 582.92M709.95 582.92L715.35 578.32M712.65 578.12V583.12M709.75 580.62H715.55M716.85 578.32L722.25 582.92M716.85 582.92L722.25 578.32M719.55 578.12V583.12M716.65 580.62H722.45M723.75 578.32L729.15 582.92M723.75 582.92L729.15 578.32M726.45 578.12V583.12M723.55 580.62H729.35M730.65 578.32L736.05 582.92M730.65 582.92L736.05 578.32M733.35 578.12V583.12M730.45 580.62H736.25M737.55 564.74L742.95 569.34M737.55 569.34L742.95 564.74M740.25 564.54V569.54M737.35 567.04H743.15M744.45 566.07L749.85 570.67M744.45 570.67L749.85 566.07M747.15 565.87V570.87M744.25 568.37H750.05M751.35 565.63L756.75 570.23M751.35 570.23L756.75 565.63M754.05 565.43V570.43M751.15 567.93H756.95M758.25 559.72L763.65 564.32M758.25 564.32L763.65 559.72M760.95 559.52V564.52M758.05 562.02H763.85M765.15 545.99L770.55 550.59M765.15 550.59L770.55 545.99M767.85 545.79V550.79M764.95 548.29H770.75" stroke="#00ff00" stroke-width="1.2"/><path d="M602.25 547.7L609.15 545.64L616.05 542.68L622.95 544.46L629.85 539.73L636.75 542.68L643.65 549.92L650.55 565.42L657.45 570.88L664.35 576.93L671.25 578.7L678.15 579.74L685.05 572.8L691.95 576.93L698.85 571.91L705.75 576.49L712.65 580.33L719.55 580.62L726.45 580.62L733.35 580.62L740.25 580.62L747.15 580.62L754.05 580.62L760.95 580.62L767.85 580.62" stroke="#0000ff" stroke-width="1.5" stroke-linejoin="round"/><path d="M599.55 545.4L604.95 550M599.55 550L604.95 545.4M602.25 545.2V550.2M599.35 547.7H605.15M606.45 543.34L611.85 547.94M606.45 547.94L611.85 543.34M609.15 543.14V548.14M606.25 545.64H612.05M613.35 540.38L618.75 544.98M613.35 544.98L618.75 540.38M616.05 540.18V545.18M613.15 542.68H618.95M620.25 542.16L625.65 546.76M620.25 546.76L625.65 542.16M622.95 541.96V546.96M620.05 544.46H625.85M627.15 537.43L632.55 542.03M627.15 542.03L632.55 537.43M629.85 537.23V542.23M626.95 539.73H632.75M634.05 540.38L639.45 544.98M634.05 544.98L639.45 540.38M636.75 540.18V545.18M633.85 542.68H639.65M640.95 547.62L646.35 552.22M640.95 552.22L646.35 547.62M643.65 547.42V552.42M640.75 549.92H646.55M647.85 563.12L653.25 567.72M647.85 567.72L653.25 563.12M650.55 562.92V567.92M647.65 565.42H653.45M654.75 568.58L660.15 573.18M654.75 573.18L660.15 568.58M657.45 568.38V573.38M654.55 570.88H660.35M661.65 574.63L667.05 579.23M661.65 579.23L667.05 574.63M664.35 574.43V579.43M661.45 576.93H667.25M668.55 576.4L673.95 581M668.55 581L673.95 576.4M671.25 576.2V581.2M668.35 578.7H674.15M675.45 577.44L680.85 582.04M675.45 582.04L680.85 577.44M678.15 577.24V582.24M675.25 579.74H681.05M682.35 570.5L687.75 575.1M682.35 575.1L687.75 570.5M685.05 570.3V575.3M682.15 572.8H687.95M689.25 574.63L694.65 579.23M689.25 579.23L694.65 574.63M691.95 574.43V579.43M689.05 576.93H694.85M696.15 569.61L701.55 574.21M696.15 574.21L701.55 569.61M698.85 569.41V574.41M695.95 571.91H701.75M703.05 574.19L708.45 578.79M703.05 578.79L708.45 574.19M705.75 573.99V578.99M702.85 576.49H708.65M709.95 578.03L715.35 582.63M709.95 582.63L715.35 578.03M712.65 577.83V582.83M709.75 580.33H715.55M716.85 578.32L722.25 582.92M716.85 582.92L722.25 578.32M719.55 578.12V583.12M716.65 580.62H722.45M723.75 578.32L729.15 582.92M723.75 582.92L729.15 578.32M726.45 578.12V583.12M723.55 580.62H729.35M730.65 578.32L736.05 582.92M730.65 582.92L736.05 578.32M733.35 578.12V583.12M730.45 580.62H736.25M737.55 578.32L742.95 582.92M737.55 582.92L742.95 578.32M740.25 578.12V583.12M737.35 580.62H743.15M744.45 578.32L749.85 582.92M744.45 582.92L749.85 578.32M747.15 578.12V583.12M744.25 580.62H750.05M751.35 578.32L756.75 582.92M751.35 582.92L756.75 578.32M754.05 578.12V583.12M751.15 580.62H756.95M758.25 578.32L763.65 582.92M758.25 582.92L763.65 578.32M760.95 578.12V583.12M758.05 580.62H763.85M765.15 578.32L770.55 582.92M765.15 582.92L770.55 578.32M767.85 578.12V583.12M764.95 580.62H770.75" stroke="#0000ff" stroke-width="1.2"/><path d="M602.25 580.62L609.15 572.06L616.05 544.46L622.95 532.65L629.85 541.65L636.75 535.75L643.65 534.71L650.55 560.69L657.45 570.88L664.35 568.67L671.25 568.67L678.15 569.26L685.05 565.12L691.95 568.67L698.85 562.61L705.75 557.45L712.65 575.9L719.55 568.37L726.45 570.14L733.35 566.16L740.25 550.8L747.15 565.12L754.05 567.93L760.95 565.12L767.85 566.6" stroke="#ff0000" stroke-width="1.5" stroke-linejoin="round"/><path d="M599.55 578.32L604.95 582.92M599.55 582.92L604.95 578.32M602.25 578.12V583.12M599.35 580.62H605.15M606.45 569.76L611.85 574.36M606.45 574.36L611.85 569.76M609.15 569.56V574.56M606.25 572.06H612.05M613.35 542.16L618.75 546.76M613.35 546.76L618.75 542.16M616.05 541.96V546.96M613.15 544.46H618.95M620.25 530.35L625.65 534.95M620.25 534.95L625.65 530.35M622.95 530.15V535.15M620.05 532.65H625.85M627.15 539.35L632.55 543.95M627.15 543.95L632.55 539.35M629.85 539.15V544.15M626.95 541.65H632.75M634.05 533.45L639.45 538.05M634.05 538.05L639.45 533.45M636.75 533.25V538.25M633.85 535.75H639.65M640.95 532.41L646.35 537.01M640.95 537.01L646.35 532.41M643.65 532.21V537.21M640.75 534.71H646.55M647.85 558.39L653.25 562.99M647.85 562.99L653.25 558.39M650.55 558.19V563.19M647.65 560.69H653.45M654.75 568.58L660.15 573.18M654.75 573.18L660.15 568.58M657.45 568.38V573.38M654.55 570.88H660.35M661.65 566.37L667.05 570.97M661.65 570.97L667.05 566.37M664.35 566.17V571.17M661.45 568.67H667.25M668.55 566.37L673.95 570.97M668.55 570.97L673.95 566.37M671.25 566.17V571.17M668.35 568.67H674.15M675.45 566.96L680.85 571.56M675.45 571.56L680.85 566.96M678.15 566.76V571.76M675.25 569.26H681.05M682.35 562.82L687.75 567.42M682.35 567.42L687.75 562.82M685.05 562.62V567.62M682.15 565.12H687.95M689.25 566.37L694.65 570.97M689.25 570.97L694.65 566.37M691.95 566.17V571.17M689.05 568.67H694.85M696.15 560.31L701.55 564.91M696.15 564.91L701.55 560.31M698.85 560.11V565.11M695.95 562.61H701.75M703.05 555.15L708.45 559.75M703.05 559.75L708.45 555.15M705.75 554.95V559.95M702.85 557.45H708.65M709.95 573.6L715.35 578.2M709.95 578.2L715.35 573.6M712.65 573.4V578.4M709.75 575.9H715.55M716.85 566.07L722.25 570.67M716.85 570.67L722.25 566.07M719.55 565.87V570.87M716.65 568.37H722.45M723.75 567.84L729.15 572.44M723.75 572.44L729.15 567.84M726.45 567.64V572.64M723.55 570.14H729.35M730.65 563.86L736.05 568.46M730.65 568.46L736.05 563.86M733.35 563.66V568.66M730.45 566.16H736.25M737.55 548.5L742.95 553.1M737.55 553.1L742.95 548.5M740.25 548.3V553.3M737.35 550.8H743.15M744.45 562.82L749.85 567.42M744.45 567.42L749.85 562.82M747.15 562.62V567.62M744.25 565.12H750.05M751.35 565.63L756.75 570.23M751.35 570.23L756.75 565.63M754.05 565.43V570.43M751.15 567.93H756.95M758.25 562.82L763.65 567.42M758.25 567.42L763.65 562.82M760.95 562.62V567.62M758.05 565.12H763.85M765.15 564.3L770.55 568.9M765.15 568.9L770.55 564.3M767.85 564.1V569.1M764.95 566.6H770.75" stroke="#ff0000" stroke-width="1.2"/></g><path d="M602 464H768.9M602 582.1H768.9" stroke="#ff0000" stroke-width="1.8" fill="none"/><path d="M602.6 464V582.1M768.3 464V582.1" stroke="#ff0000" stroke-width="1.3" fill="none"/><path d="M629.85 464v6M629.85 582.1v-6M657.45 464v6M657.45 582.1v-6M685.05 464v6M685.05 582.1v-6M712.65 464v6M712.65 582.1v-6M740.25 464v6M740.25 582.1v-6M616.05 464v4M616.05 582.1v-4M643.65 464v4M643.65 582.1v-4M671.25 464v4M671.25 582.1v-4M698.85 464v4M698.85 582.1v-4M726.45 464v4M726.45 582.1v-4M754.05 464v4M754.05 582.1v-4M602.6 552.58h6M768.3 552.58h-6M602.6 523.05h6M768.3 523.05h-6M602.6 493.53h6M768.3 493.53h-6M602.6 567.34h4M768.3 567.34h-4M602.6 537.81h4M768.3 537.81h-4M602.6 508.29h4M768.3 508.29h-4M602.6 478.76h4M768.3 478.76h-4" stroke="#ff0000" stroke-width="1.1" fill="none"/><path d="M629.85 464V581.1M657.45 464V581.1M685.05 464V581.1M712.65 464V581.1M740.25 464V581.1M603.6 464H767.3M603.6 552.58H767.3M603.6 523.05H767.3M603.6 493.53H767.3" stroke="#000" stroke-width="1" stroke-dasharray="1.3 1.8" fill="none"/><g class="t" fill="#ff0000"><text x="602.25" y="592.8" text-anchor="middle">0</text><text x="629.85" y="592.8" text-anchor="middle">4</text><text x="657.45" y="592.8" text-anchor="middle">8</text><text x="685.05" y="592.8" text-anchor="middle">12</text><text x="712.65" y="592.8" text-anchor="middle">16</text><text x="740.25" y="592.8" text-anchor="middle">20</text><text x="767.85" y="592.8" text-anchor="middle">24</text><text x="598.1" y="585.4" text-anchor="end">0</text><text x="598.1" y="555.88" text-anchor="end">20</text><text x="598.1" y="526.35" text-anchor="end">40</text><text x="598.1" y="496.83" text-anchor="end">60</text><text x="598.1" y="467.3" text-anchor="end">80</text></g><text class="n" x="685.45" y="606.8" text-anchor="middle" fill="#ff0000" clip-path="url(#l33)">Causeway Bay</text>
<clipPath id="c34"><rect x="795.6" y="464" width="165.7" height="118.1"/></clipPath><clipPath id="l34"><rect x="775.6" y="594.1" width="205.7" height="12.7"/></clipPath><g clip-path="url(#c34)" fill="none"><path d="M795.25 557.74L802.15 566.6L809.05 563.94L815.95 544.01L822.85 520.39L829.75 524.08L836.65 541.95L843.55 556.71L850.45 561.43L857.35 560.1L864.25 568.67L871.15 567.49L878.05 547.7L884.95 543.57L891.85 527.48L898.75 526.15L905.65 502.09L912.55 507.84L919.45 520.69L926.35 529.69L933.25 536.34L940.15 536.93L947.05 525.71L953.95 523.64L960.85 534.27" stroke="#00ffff" stroke-width="1.5" stroke-linejoin="round"/><path d="M792.55 555.44L797.95 560.04M792.55 560.04L797.95 555.44M795.25 555.24V560.24M792.35 557.74H798.15M799.45 564.3L804.85 568.9M799.45 568.9L804.85 564.3M802.15 564.1V569.1M799.25 566.6H805.05M806.35 561.64L811.75 566.24M806.35 566.24L811.75 561.64M809.05 561.44V566.44M806.15 563.94H811.95M813.25 541.71L818.65 546.31M813.25 546.31L818.65 541.71M815.95 541.51V546.51M813.05 544.01H818.85M820.15 518.09L825.55 522.69M820.15 522.69L825.55 518.09M822.85 517.89V522.89M819.95 520.39H825.75M827.05 521.78L832.45 526.38M827.05 526.38L832.45 521.78M829.75 521.58V526.58M826.85 524.08H832.65M833.95 539.65L839.35 544.25M833.95 544.25L839.35 539.65M836.65 539.45V544.45M833.75 541.95H839.55M840.85 554.41L846.25 559.01M840.85 559.01L846.25 554.41M843.55 554.21V559.21M840.65 556.71H846.45M847.75 559.13L853.15 563.73M847.75 563.73L853.15 559.13M850.45 558.93V563.93M847.55 561.43H853.35M854.65 557.8L860.05 562.4M854.65 562.4L860.05 557.8M857.35 557.6V562.6M854.45 560.1H860.25M861.55 566.37L866.95 570.97M861.55 570.97L866.95 566.37M864.25 566.17V571.17M861.35 568.67H867.15M868.45 565.19L873.85 569.79M868.45 569.79L873.85 565.19M871.15 564.99V569.99M868.25 567.49H874.05M875.35 545.4L880.75 550M875.35 550L880.75 545.4M878.05 545.2V550.2M875.15 547.7H880.95M882.25 541.27L887.65 545.87M882.25 545.87L887.65 541.27M884.95 541.07V546.07M882.05 543.57H887.85M889.15 525.18L894.55 529.78M889.15 529.78L894.55 525.18M891.85 524.98V529.98M888.95 527.48H894.75M896.05 523.85L901.45 528.45M896.05 528.45L901.45 523.85M898.75 523.65V528.65M895.85 526.15H901.65M902.95 499.79L908.35 504.39M902.95 504.39L908.35 499.79M905.65 499.59V504.59M902.75 502.09H908.55M909.85 505.54L915.25 510.14M909.85 510.14L915.25 505.54M912.55 505.34V510.34M909.65 507.84H915.45M916.75 518.39L922.15 522.99M916.75 522.99L922.15 518.39M919.45 518.19V523.19M916.55 520.69H922.35M923.65 527.39L929.05 531.99M923.65 531.99L929.05 527.39M926.35 527.19V532.19M923.45 529.69H929.25M930.55 534.04L935.95 538.64M930.55 538.64L935.95 534.04M933.25 533.84V538.84M930.35 536.34H936.15M937.45 534.63L942.85 539.23M937.45 539.23L942.85 534.63M940.15 534.43V539.43M937.25 536.93H943.05M944.35 523.41L949.75 528.01M944.35 528.01L949.75 523.41M947.05 523.21V528.21M944.15 525.71H949.95M951.25 521.34L956.65 525.94M951.25 525.94L956.65 521.34M953.95 521.14V526.14M951.05 523.64H956.85M958.15 531.97L963.55 536.57M958.15 536.57L963.55 531.97M960.85 531.77V536.77M957.95 534.27H963.75" stroke="#00ffff" stroke-width="1.2"/><path d="M795.25 532.94L802.15 532.35L809.05 533.38L815.95 522.16L822.85 518.62L829.75 518.62L836.65 519.51L843.55 532.06L850.45 546.37L857.35 549.92L864.25 535.6L871.15 526.3L878.05 525.26L884.95 506.96L891.85 500.32L898.75 499.13L905.65 500.32L912.55 498.54L919.45 502.09L926.35 512.72L933.25 506.07L940.15 518.03L947.05 509.03L953.95 509.03L960.85 511.39" stroke="#00ff00" stroke-width="1.5" stroke-linejoin="round"/><path d="M792.55 530.64L797.95 535.24M792.55 535.24L797.95 530.64M795.25 530.44V535.44M792.35 532.94H798.15M799.45 530.05L804.85 534.65M799.45 534.65L804.85 530.05M802.15 529.85V534.85M799.25 532.35H805.05M806.35 531.08L811.75 535.68M806.35 535.68L811.75 531.08M809.05 530.88V535.88M806.15 533.38H811.95M813.25 519.86L818.65 524.46M813.25 524.46L818.65 519.86M815.95 519.66V524.66M813.05 522.16H818.85M820.15 516.32L825.55 520.92M820.15 520.92L825.55 516.32M822.85 516.12V521.12M819.95 518.62H825.75M827.05 516.32L832.45 520.92M827.05 520.92L832.45 516.32M829.75 516.12V521.12M826.85 518.62H832.65M833.95 517.21L839.35 521.81M833.95 521.81L839.35 517.21M836.65 517.01V522.01M833.75 519.51H839.55M840.85 529.76L846.25 534.36M840.85 534.36L846.25 529.76M843.55 529.56V534.56M840.65 532.06H846.45M847.75 544.07L853.15 548.67M847.75 548.67L853.15 544.07M850.45 543.87V548.87M847.55 546.37H853.35M854.65 547.62L860.05 552.22M854.65 552.22L860.05 547.62M857.35 547.42V552.42M854.45 549.92H860.25M861.55 533.3L866.95 537.9M861.55 537.9L866.95 533.3M864.25 533.1V538.1M861.35 535.6H867.15M868.45 524L873.85 528.6M868.45 528.6L873.85 524M871.15 523.8V528.8M868.25 526.3H874.05M875.35 522.96L880.75 527.56M875.35 527.56L880.75 522.96M878.05 522.76V527.76M875.15 525.26H880.95M882.25 504.66L887.65 509.26M882.25 509.26L887.65 504.66M884.95 504.46V509.46M882.05 506.96H887.85M889.15 498.02L894.55 502.62M889.15 502.62L894.55 498.02M891.85 497.82V502.82M888.95 500.32H894.75M896.05 496.83L901.45 501.43M896.05 501.43L901.45 496.83M898.75 496.63V501.63M895.85 499.13H901.65M902.95 498.02L908.35 502.62M902.95 502.62L908.35 498.02M905.65 497.82V502.82M902.75 500.32H908.55M909.85 496.24L915.25 500.84M909.85 500.84L915.25 496.24M912.55 496.04V501.04M909.65 498.54H915.45M916.75 499.79L922.15 504.39M916.75 504.39L922.15 499.79M919.45 499.59V504.59M916.55 502.09H922.35M923.65 510.42L929.05 515.02M923.65 515.02L929.05 510.42M926.35 510.22V515.22M923.45 512.72H929.25M930.55 503.77L935.95 508.37M930.55 508.37L935.95 503.77M933.25 503.57V508.57M930.35 506.07H936.15M937.45 515.73L942.85 520.33M937.45 520.33L942.85 515.73M940.15 515.53V520.53M937.25 518.03H943.05M944.35 506.73L949.75 511.33M944.35 511.33L949.75 506.73M947.05 506.53V511.53M944.15 509.03H949.95M951.25 506.73L956.65 511.33M951.25 511.33L956.65 506.73M953.95 506.53V511.53M951.05 509.03H956.85M958.15 509.09L963.55 513.69M958.15 513.69L963.55 509.09M960.85 508.89V513.89M957.95 511.39H963.75" stroke="#00ff00" stroke-width="1.2"/><path d="M795.25 511.39L802.15 511.39L809.05 507.84L815.95 510.5L822.85 513.16L829.75 514.93L836.65 525.71L843.55 533.83L850.45 549.47L857.35 544.46L864.25 532.06L871.15 525.26L878.05 519.51L884.95 511.98L891.85 504.74L898.75 508.29L905.65 511.39L912.55 521.57L919.45 531.17L926.35 549.03L933.25 566.01L940.15 570.44L947.05 567.78L953.95 560.25L960.85 545.93" stroke="#0000ff" stroke-width="1.5" stroke-linejoin="round"/><path d="M792.55 509.09L797.95 513.69M792.55 513.69L797.95 509.09M795.25 508.89V513.89M792.35 511.39H798.15M799.45 509.09L804.85 513.69M799.45 513.69L804.85 509.09M802.15 508.89V513.89M799.25 511.39H805.05M806.35 505.54L811.75 510.14M806.35 510.14L811.75 505.54M809.05 505.34V510.34M806.15 507.84H811.95M813.25 508.2L818.65 512.8M813.25 512.8L818.65 508.2M815.95 508V513M813.05 510.5H818.85M820.15 510.86L825.55 515.46M820.15 515.46L825.55 510.86M822.85 510.66V515.66M819.95 513.16H825.75M827.05 512.63L832.45 517.23M827.05 517.23L832.45 512.63M829.75 512.43V517.43M826.85 514.93H832.65M833.95 523.41L839.35 528.01M833.95 528.01L839.35 523.41M836.65 523.21V528.21M833.75 525.71H839.55M840.85 531.53L846.25 536.13M840.85 536.13L846.25 531.53M843.55 531.33V536.33M840.65 533.83H846.45M847.75 547.17L853.15 551.77M847.75 551.77L853.15 547.17M850.45 546.97V551.97M847.55 549.47H853.35M854.65 542.16L860.05 546.76M854.65 546.76L860.05 542.16M857.35 541.96V546.96M854.45 544.46H860.25M861.55 529.76L866.95 534.36M861.55 534.36L866.95 529.76M864.25 529.56V534.56M861.35 532.06H867.15M868.45 522.96L873.85 527.56M868.45 527.56L873.85 522.96M871.15 522.76V527.76M868.25 525.26H874.05M875.35 517.21L880.75 521.81M875.35 521.81L880.75 517.21M878.05 517.01V522.01M875.15 519.51H880.95M882.25 509.68L887.65 514.28M882.25 514.28L887.65 509.68M884.95 509.48V514.48M882.05 511.98H887.85M889.15 502.44L894.55 507.04M889.15 507.04L894.55 502.44M891.85 502.24V507.24M888.95 504.74H894.75M896.05 505.99L901.45 510.59M896.05 510.59L901.45 505.99M898.75 505.79V510.79M895.85 508.29H901.65M902.95 509.09L908.35 513.69M902.95 513.69L908.35 509.09M905.65 508.89V513.89M902.75 511.39H908.55M909.85 519.27L915.25 523.87M909.85 523.87L915.25 519.27M912.55 519.07V524.07M909.65 521.57H915.45M916.75 528.87L922.15 533.47M916.75 533.47L922.15 528.87M919.45 528.67V533.67M916.55 531.17H922.35M923.65 546.73L929.05 551.33M923.65 551.33L929.05 546.73M926.35 546.53V551.53M923.45 549.03H929.25M930.55 563.71L935.95 568.31M930.55 568.31L935.95 563.71M933.25 563.51V568.51M930.35 566.01H936.15M937.45 568.14L942.85 572.74M937.45 572.74L942.85 568.14M940.15 567.94V572.94M937.25 570.44H943.05M944.35 565.48L949.75 570.08M944.35 570.08L949.75 565.48M947.05 565.28V570.28M944.15 567.78H949.95M951.25 557.95L956.65 562.55M951.25 562.55L956.65 557.95M953.95 557.75V562.75M951.05 560.25H956.85M958.15 543.63L963.55 548.23M958.15 548.23L963.55 543.63M960.85 543.43V548.43M957.95 545.93H963.75" stroke="#0000ff" stroke-width="1.2"/><path d="M795.25 545.19L802.15 535.01L809.05 536.78L815.95 513.16L822.85 506.52L829.75 502.97L836.65 504.15L843.55 514.93L850.45 535.01L857.35 529.99L864.25 526L871.15 515.37L878.05 514.19L884.95 505.19L891.85 497.66L898.75 495.89L905.65 497.95L912.55 504.89L919.45 511.98L926.35 526.3L933.25 529.99L940.15 533.24L947.05 533.68L953.95 524.38L960.85 527.63" stroke="#ff0000" stroke-width="1.5" stroke-linejoin="round"/><path d="M792.55 542.89L797.95 547.49M792.55 547.49L797.95 542.89M795.25 542.69V547.69M792.35 545.19H798.15M799.45 532.71L804.85 537.31M799.45 537.31L804.85 532.71M802.15 532.51V537.51M799.25 535.01H805.05M806.35 534.48L811.75 539.08M806.35 539.08L811.75 534.48M809.05 534.28V539.28M806.15 536.78H811.95M813.25 510.86L818.65 515.46M813.25 515.46L818.65 510.86M815.95 510.66V515.66M813.05 513.16H818.85M820.15 504.22L825.55 508.82M820.15 508.82L825.55 504.22M822.85 504.02V509.02M819.95 506.52H825.75M827.05 500.67L832.45 505.27M827.05 505.27L832.45 500.67M829.75 500.47V505.47M826.85 502.97H832.65M833.95 501.85L839.35 506.45M833.95 506.45L839.35 501.85M836.65 501.65V506.65M833.75 504.15H839.55M840.85 512.63L846.25 517.23M840.85 517.23L846.25 512.63M843.55 512.43V517.43M840.65 514.93H846.45M847.75 532.71L853.15 537.31M847.75 537.31L853.15 532.71M850.45 532.51V537.51M847.55 535.01H853.35M854.65 527.69L860.05 532.29M854.65 532.29L860.05 527.69M857.35 527.49V532.49M854.45 529.99H860.25M861.55 523.7L866.95 528.3M861.55 528.3L866.95 523.7M864.25 523.5V528.5M861.35 526H867.15M868.45 513.07L873.85 517.67M868.45 517.67L873.85 513.07M871.15 512.87V517.87M868.25 515.37H874.05M875.35 511.89L880.75 516.49M875.35 516.49L880.75 511.89M878.05 511.69V516.69M875.15 514.19H880.95M882.25 502.89L887.65 507.49M882.25 507.49L887.65 502.89M884.95 502.69V507.69M882.05 505.19H887.85M889.15 495.36L894.55 499.96M889.15 499.96L894.55 495.36M891.85 495.16V500.16M888.95 497.66H894.75M896.05 493.59L901.45 498.19M896.05 498.19L901.45 493.59M898.75 493.39V498.39M895.85 495.89H901.65M902.95 495.65L908.35 500.25M902.95 500.25L908.35 495.65M905.65 495.45V500.45M902.75 497.95H908.55M909.85 502.59L915.25 507.19M909.85 507.19L915.25 502.59M912.55 502.39V507.39M909.65 504.89H915.45M916.75 509.68L922.15 514.28M916.75 514.28L922.15 509.68M919.45 509.48V514.48M916.55 511.98H922.35M923.65 524L929.05 528.6M923.65 528.6L929.05 524M926.35 523.8V528.8M923.45 526.3H929.25M930.55 527.69L935.95 532.29M930.55 532.29L935.95 527.69M933.25 527.49V532.49M930.35 529.99H936.15M937.45 530.94L942.85 535.54M937.45 535.54L942.85 530.94M940.15 530.74V535.74M937.25 533.24H943.05M944.35 531.38L949.75 535.98M944.35 535.98L949.75 531.38M947.05 531.18V536.18M944.15 533.68H949.95M951.25 522.08L956.65 526.68M951.25 526.68L956.65 522.08M953.95 521.88V526.88M951.05 524.38H956.85M958.15 525.33L963.55 529.93M958.15 529.93L963.55 525.33M960.85 525.13V530.13M957.95 527.63H963.75" stroke="#ff0000" stroke-width="1.2"/></g><path d="M795 464H961.9M795 582.1H961.9" stroke="#000" stroke-width="1.8" fill="none"/><path d="M795.6 464V582.1M961.3 464V582.1" stroke="#000" stroke-width="1.3" fill="none"/><path d="M822.85 464v6M822.85 582.1v-6M850.45 464v6M850.45 582.1v-6M878.05 464v6M878.05 582.1v-6M905.65 464v6M905.65 582.1v-6M933.25 464v6M933.25 582.1v-6M809.05 464v4M809.05 582.1v-4M836.65 464v4M836.65 582.1v-4M864.25 464v4M864.25 582.1v-4M891.85 464v4M891.85 582.1v-4M919.45 464v4M919.45 582.1v-4M947.05 464v4M947.05 582.1v-4M795.6 552.58h6M961.3 552.58h-6M795.6 523.05h6M961.3 523.05h-6M795.6 493.53h6M961.3 493.53h-6M795.6 567.34h4M961.3 567.34h-4M795.6 537.81h4M961.3 537.81h-4M795.6 508.29h4M961.3 508.29h-4M795.6 478.76h4M961.3 478.76h-4" stroke="#000" stroke-width="1.1" fill="none"/><path d="M822.85 464V581.1M850.45 464V581.1M878.05 464V581.1M905.65 464V581.1M933.25 464V581.1M796.6 464H960.3M796.6 552.58H960.3M796.6 523.05H960.3M796.6 493.53H960.3" stroke="#000" stroke-width="1" stroke-dasharray="1.3 1.8" fill="none"/><g class="t" fill="#000"><text x="795.25" y="592.8" text-anchor="middle">0</text><text x="822.85" y="592.8" text-anchor="middle">4</text><text x="850.45" y="592.8" text-anchor="middle">8</text><text x="878.05" y="592.8" text-anchor="middle">12</text><text x="905.65" y="592.8" text-anchor="middle">16</text><text x="933.25" y="592.8" text-anchor="middle">20</text><text x="960.85" y="592.8" text-anchor="middle">24</text><text x="791.1" y="585.4" text-anchor="end">0</text><text x="791.1" y="555.88" text-anchor="end">20</text><text x="791.1" y="526.35" text-anchor="end">40</text><text x="791.1" y="496.83" text-anchor="end">60</text><text x="791.1" y="467.3" text-anchor="end">80</text></g><text class="n" x="878.45" y="606.8" text-anchor="middle" fill="#000" clip-path="url(#l34)">Eastern</text>
<clipPath id="c40"><rect x="23.6" y="612" width="165.7" height="118.1"/></clipPath><clipPath id="l40"><rect x="3.6" y="742.1" width="205.7" height="12.7"/></clipPath><g clip-path="url(#c40)" fill="none"><path d="M23.25 728.62L30.15 728.62L37.05 728.62L43.95 728.62L50.85 728.62L57.75 728.62L64.65 728.62L71.55 728.62L78.45 728.33L85.35 727.74L92.25 725.38L99.15 720.5L106.05 718.29L112.95 715.78L119.85 713.86L126.75 684.34L133.65 654.22L140.55 649.5L147.45 674.59L154.35 703.97L161.25 719.32L168.15 716.37L175.05 715.34L181.95 725.08L188.85 723.75" stroke="#00ffff" stroke-width="1.5" stroke-linejoin="round"/><path d="M20.55 726.32L25.95 730.92M20.55 730.92L25.95 726.32M23.25 726.12V731.12M20.35 728.62H26.15M27.45 726.32L32.85 730.92M27.45 730.92L32.85 726.32M30.15 726.12V731.12M27.25 728.62H33.05M34.35 726.32L39.75 730.92M34.35 730.92L39.75 726.32M37.05 726.12V731.12M34.15 728.62H39.95M41.25 726.32L46.65 730.92M41.25 730.92L46.65 726.32M43.95 726.12V731.12M41.05 728.62H46.85M48.15 726.32L53.55 730.92M48.15 730.92L53.55 726.32M50.85 726.12V731.12M47.95 728.62H53.75M55.05 726.32L60.45 730.92M55.05 730.92L60.45 726.32M57.75 726.12V731.12M54.85 728.62H60.65M61.95 726.32L67.35 730.92M61.95 730.92L67.35 726.32M64.65 726.12V731.12M61.75 728.62H67.55M68.85 726.32L74.25 730.92M68.85 730.92L74.25 726.32M71.55 726.12V731.12M68.65 728.62H74.45M75.75 726.03L81.15 730.63M75.75 730.63L81.15 726.03M78.45 725.83V730.83M75.55 728.33H81.35M82.65 725.44L88.05 730.04M82.65 730.04L88.05 725.44M85.35 725.24V730.24M82.45 727.74H88.25M89.55 723.08L94.95 727.68M89.55 727.68L94.95 723.08M92.25 722.88V727.88M89.35 725.38H95.15M96.45 718.2L101.85 722.8M96.45 722.8L101.85 718.2M99.15 718V723M96.25 720.5H102.05M103.35 715.99L108.75 720.59M103.35 720.59L108.75 715.99M106.05 715.79V720.79M103.15 718.29H108.95M110.25 713.48L115.65 718.08M110.25 718.08L115.65 713.48M112.95 713.28V718.28M110.05 715.78H115.85M117.15 711.56L122.55 716.16M117.15 716.16L122.55 711.56M119.85 711.36V716.36M116.95 713.86H122.75M124.05 682.04L129.45 686.64M124.05 686.64L129.45 682.04M126.75 681.84V686.84M123.85 684.34H129.65M130.95 651.92L136.35 656.52M130.95 656.52L136.35 651.92M133.65 651.72V656.72M130.75 654.22H136.55M137.85 647.2L143.25 651.8M137.85 651.8L143.25 647.2M140.55 647V652M137.65 649.5H143.45M144.75 672.29L150.15 676.89M144.75 676.89L150.15 672.29M147.45 672.09V677.09M144.55 674.59H150.35M151.65 701.67L157.05 706.27M151.65 706.27L157.05 701.67M154.35 701.47V706.47M151.45 703.97H157.25M158.55 717.02L163.95 721.62M158.55 721.62L163.95 717.02M161.25 716.82V721.82M158.35 719.32H164.15M165.45 714.07L170.85 718.67M165.45 718.67L170.85 714.07M168.15 713.87V718.87M165.25 716.37H171.05M172.35 713.04L177.75 717.64M172.35 717.64L177.75 713.04M175.05 712.84V717.84M172.15 715.34H177.95M179.25 722.78L184.65 727.38M179.25 727.38L184.65 722.78M181.95 722.58V727.58M179.05 725.08H184.85M186.15 721.45L191.55 726.05M186.15 726.05L191.55 721.45M188.85 721.25V726.25M185.95 723.75H191.75" stroke="#00ffff" stroke-width="1.2"/><path d="M23.25 722.57L30.15 725.23L37.05 727.89L43.95 689.5L50.85 688.47L57.75 685.96L64.65 686.55L71.55 694.97L78.45 692.6L85.35 692.16L92.25 694.37L99.15 695.41L106.05 694.82L112.95 688.47L119.85 687.14L126.75 669.87L133.65 673.41L140.55 672.53L147.45 682.42L154.35 709.28L161.25 725.82L168.15 725.82L175.05 723.6L181.95 725.23L188.85 706.63" stroke="#00ff00" stroke-width="1.5" stroke-linejoin="round"/><path d="M20.55 720.27L25.95 724.87M20.55 724.87L25.95 720.27M23.25 720.07V725.07M20.35 722.57H26.15M27.45 722.93L32.85 727.53M27.45 727.53L32.85 722.93M30.15 722.73V727.73M27.25 725.23H33.05M34.35 725.59L39.75 730.19M34.35 730.19L39.75 725.59M37.05 725.39V730.39M34.15 727.89H39.95M41.25 687.2L46.65 691.8M41.25 691.8L46.65 687.2M43.95 687V692M41.05 689.5H46.85M48.15 686.17L53.55 690.77M48.15 690.77L53.55 686.17M50.85 685.97V690.97M47.95 688.47H53.75M55.05 683.66L60.45 688.26M55.05 688.26L60.45 683.66M57.75 683.46V688.46M54.85 685.96H60.65M61.95 684.25L67.35 688.85M61.95 688.85L67.35 684.25M64.65 684.05V689.05M61.75 686.55H67.55M68.85 692.67L74.25 697.27M68.85 697.27L74.25 692.67M71.55 692.47V697.47M68.65 694.97H74.45M75.75 690.3L81.15 694.9M75.75 694.9L81.15 690.3M78.45 690.1V695.1M75.55 692.6H81.35M82.65 689.86L88.05 694.46M82.65 694.46L88.05 689.86M85.35 689.66V694.66M82.45 692.16H88.25M89.55 692.07L94.95 696.67M89.55 696.67L94.95 692.07M92.25 691.87V696.87M89.35 694.37H95.15M96.45 693.11L101.85 697.71M96.45 697.71L101.85 693.11M99.15 692.91V697.91M96.25 695.41H102.05M103.35 692.52L108.75 697.12M103.35 697.12L108.75 692.52M106.05 692.32V697.32M103.15 694.82H108.95M110.25 686.17L115.65 690.77M110.25 690.77L115.65 686.17M112.95 685.97V690.97M110.05 688.47H115.85M117.15 684.84L122.55 689.44M117.15 689.44L122.55 684.84M119.85 684.64V689.64M116.95 687.14H122.75M124.05 667.57L129.45 672.17M124.05 672.17L129.45 667.57M126.75 667.37V672.37M123.85 669.87H129.65M130.95 671.11L136.35 675.71M130.95 675.71L136.35 671.11M133.65 670.91V675.91M130.75 673.41H136.55M137.85 670.23L143.25 674.83M137.85 674.83L143.25 670.23M140.55 670.03V675.03M137.65 672.53H143.45M144.75 680.12L150.15 684.72M144.75 684.72L150.15 680.12M147.45 679.92V684.92M144.55 682.42H150.35M151.65 706.98L157.05 711.58M151.65 711.58L157.05 706.98M154.35 706.78V711.78M151.45 709.28H157.25M158.55 723.52L163.95 728.12M158.55 728.12L163.95 723.52M161.25 723.32V728.32M158.35 725.82H164.15M165.45 723.52L170.85 728.12M165.45 728.12L170.85 723.52M168.15 723.32V728.32M165.25 725.82H171.05M172.35 721.3L177.75 725.9M172.35 725.9L177.75 721.3M175.05 721.1V726.1M172.15 723.6H177.95M179.25 722.93L184.65 727.53M179.25 727.53L184.65 722.93M181.95 722.73V727.73M179.05 725.23H184.85M186.15 704.33L191.55 708.93M186.15 708.93L191.55 704.33M188.85 704.13V709.13M185.95 706.63H191.75" stroke="#00ff00" stroke-width="1.2"/><path d="M23.25 706.63L30.15 688.47L37.05 679.76L43.95 685.37L50.85 687.14L57.75 687.14L64.65 698.36L71.55 677.1L78.45 688.47L85.35 690.98L188.85 699.69" stroke="#0000ff" stroke-width="1.5" stroke-linejoin="round"/><path d="M20.55 704.33L25.95 708.93M20.55 708.93L25.95 704.33M23.25 704.13V709.13M20.35 706.63H26.15M27.45 686.17L32.85 690.77M27.45 690.77L32.85 686.17M30.15 685.97V690.97M27.25 688.47H33.05M34.35 677.46L39.75 682.06M34.35 682.06L39.75 677.46M37.05 677.26V682.26M34.15 679.76H39.95M41.25 683.07L46.65 687.67M41.25 687.67L46.65 683.07M43.95 682.87V687.87M41.05 685.37H46.85M48.15 684.84L53.55 689.44M48.15 689.44L53.55 684.84M50.85 684.64V689.64M47.95 687.14H53.75M55.05 684.84L60.45 689.44M55.05 689.44L60.45 684.84M57.75 684.64V689.64M54.85 687.14H60.65M61.95 696.06L67.35 700.66M61.95 700.66L67.35 696.06M64.65 695.86V700.86M61.75 698.36H67.55M68.85 674.8L74.25 679.4M68.85 679.4L74.25 674.8M71.55 674.6V679.6M68.65 677.1H74.45M75.75 686.17L81.15 690.77M75.75 690.77L81.15 686.17M78.45 685.97V690.97M75.55 688.47H81.35M82.65 688.68L88.05 693.28M82.65 693.28L88.05 688.68M85.35 688.48V693.48M82.45 690.98H88.25M186.15 697.39L191.55 701.99M186.15 701.99L191.55 697.39M188.85 697.19V702.19M185.95 699.69H191.75" stroke="#0000ff" stroke-width="1.2"/><path d="M23.25 699.39L30.15 720.65L37.05 706.33L43.95 703.53L57.75 703.53L64.65 709.14L71.55 718.14L78.45 723.01L85.35 721.39L92.25 710.17L99.15 708.69L106.05 707.81L112.95 699.25L119.85 702.79L126.75 697.47L133.65 689.21L140.55 673.12L147.45 659.39L154.35 681.38L161.25 704.71L168.15 718.14L175.05 716.37L181.95 678.43L188.85 668.69" stroke="#ff0000" stroke-width="1.5" stroke-linejoin="round"/><path d="M20.55 697.09L25.95 701.69M20.55 701.69L25.95 697.09M23.25 696.89V701.89M20.35 699.39H26.15M27.45 718.35L32.85 722.95M27.45 722.95L32.85 718.35M30.15 718.15V723.15M27.25 720.65H33.05M34.35 704.03L39.75 708.63M34.35 708.63L39.75 704.03M37.05 703.83V708.83M34.15 706.33H39.95M41.25 701.23L46.65 705.83M41.25 705.83L46.65 701.23M43.95 701.03V706.03M41.05 703.53H46.85M55.05 701.23L60.45 705.83M55.05 705.83L60.45 701.23M57.75 701.03V706.03M54.85 703.53H60.65M61.95 706.84L67.35 711.44M61.95 711.44L67.35 706.84M64.65 706.64V711.64M61.75 709.14H67.55M68.85 715.84L74.25 720.44M68.85 720.44L74.25 715.84M71.55 715.64V720.64M68.65 718.14H74.45M75.75 720.71L81.15 725.31M75.75 725.31L81.15 720.71M78.45 720.51V725.51M75.55 723.01H81.35M82.65 719.09L88.05 723.69M82.65 723.69L88.05 719.09M85.35 718.89V723.89M82.45 721.39H88.25M89.55 707.87L94.95 712.47M89.55 712.47L94.95 707.87M92.25 707.67V712.67M89.35 710.17H95.15M96.45 706.39L101.85 710.99M96.45 710.99L101.85 706.39M99.15 706.19V711.19M96.25 708.69H102.05M103.35 705.51L108.75 710.11M103.35 710.11L108.75 705.51M106.05 705.31V710.31M103.15 707.81H108.95M110.25 696.95L115.65 701.55M110.25 701.55L115.65 696.95M112.95 696.75V701.75M110.05 699.25H115.85M117.15 700.49L122.55 705.09M117.15 705.09L122.55 700.49M119.85 700.29V705.29M116.95 702.79H122.75M124.05 695.17L129.45 699.77M124.05 699.77L129.45 695.17M126.75 694.97V699.97M123.85 697.47H129.65M130.95 686.91L136.35 691.51M130.95 691.51L136.35 686.91M133.65 686.71V691.71M130.75 689.21H136.55M137.85 670.82L143.25 675.42M137.85 675.42L143.25 670.82M140.55 670.62V675.62M137.65 673.12H143.45M144.75 657.09L150.15 661.69M144.75 661.69L150.15 657.09M147.45 656.89V661.89M144.55 659.39H150.35M151.65 679.08L157.05 683.68M151.65 683.68L157.05 679.08M154.35 678.88V683.88M151.45 681.38H157.25M158.55 702.41L163.95 707.01M158.55 707.01L163.95 702.41M161.25 702.21V707.21M158.35 704.71H164.15M165.45 715.84L170.85 720.44M165.45 720.44L170.85 715.84M168.15 715.64V720.64M165.25 718.14H171.05M172.35 714.07L177.75 718.67M172.35 718.67L177.75 714.07M175.05 713.87V718.87M172.15 716.37H177.95M179.25 676.13L184.65 680.73M179.25 680.73L184.65 676.13M181.95 675.93V680.93M179.05 678.43H184.85M186.15 666.39L191.55 670.99M186.15 670.99L191.55 666.39M188.85 666.19V671.19M185.95 668.69H191.75" stroke="#ff0000" stroke-width="1.2"/></g><path d="M23 612H189.9M23 730.1H189.9" stroke="#000" stroke-width="1.8" fill="none"/><path d="M23.6 612V730.1M189.3 612V730.1" stroke="#000" stroke-width="1.3" fill="none"/><path d="M50.85 612v6M50.85 730.1v-6M78.45 612v6M78.45 730.1v-6M106.05 612v6M106.05 730.1v-6M133.65 612v6M133.65 730.1v-6M161.25 612v6M161.25 730.1v-6M37.05 612v4M37.05 730.1v-4M64.65 612v4M64.65 730.1v-4M92.25 612v4M92.25 730.1v-4M119.85 612v4M119.85 730.1v-4M147.45 612v4M147.45 730.1v-4M175.05 612v4M175.05 730.1v-4M23.6 700.58h6M189.3 700.58h-6M23.6 671.05h6M189.3 671.05h-6M23.6 641.53h6M189.3 641.53h-6M23.6 715.34h4M189.3 715.34h-4M23.6 685.81h4M189.3 685.81h-4M23.6 656.29h4M189.3 656.29h-4M23.6 626.76h4M189.3 626.76h-4" stroke="#000" stroke-width="1.1" fill="none"/><path d="M50.85 612V729.1M78.45 612V729.1M106.05 612V729.1M133.65 612V729.1M161.25 612V729.1M24.6 612H188.3M24.6 700.58H188.3M24.6 671.05H188.3M24.6 641.53H188.3" stroke="#000" stroke-width="1" stroke-dasharray="1.3 1.8" fill="none"/><g class="t" fill="#000"><text x="23.25" y="740.8" text-anchor="middle">0</text><text x="50.85" y="740.8" text-anchor="middle">4</text><text x="78.45" y="740.8" text-anchor="middle">8</text><text x="106.05" y="740.8" text-anchor="middle">12</text><text x="133.65" y="740.8" text-anchor="middle">16</text><text x="161.25" y="740.8" text-anchor="middle">20</text><text x="188.85" y="740.8" text-anchor="middle">24</text><text x="19.1" y="733.4" text-anchor="end">0</text><text x="19.1" y="703.88" text-anchor="end">20</text><text x="19.1" y="674.35" text-anchor="end">40</text><text x="19.1" y="644.83" text-anchor="end">60</text><text x="19.1" y="615.3" text-anchor="end">80</text></g><text class="n" x="106.45" y="754.8" text-anchor="middle" fill="#000" clip-path="url(#l40)">Tung Chung</text>
<clipPath id="c41"><rect x="216.6" y="612" width="165.7" height="118.1"/></clipPath><clipPath id="l41"><rect x="196.6" y="742.1" width="205.7" height="12.7"/></clipPath><g clip-path="url(#c41)" fill="none"><path d="M216.25 724.34L223.15 724.34L230.05 724.34L236.95 724.34L243.85 724.34L250.75 724.34L257.65 724.34L264.55 724.05L271.45 723.46L278.35 721.69L285.25 714.6L292.15 713.27L299.05 702.94L305.95 695.41L312.85 665.29L319.75 652.45L326.65 647.13L333.55 676.36L340.45 709.28L347.35 714.3L354.25 715.19L361.15 706.63L368.05 718.14L374.95 715.19L381.85 722.57" stroke="#00ffff" stroke-width="1.5" stroke-linejoin="round"/><path d="M213.55 722.04L218.95 726.64M213.55 726.64L218.95 722.04M216.25 721.84V726.84M213.35 724.34H219.15M220.45 722.04L225.85 726.64M220.45 726.64L225.85 722.04M223.15 721.84V726.84M220.25 724.34H226.05M227.35 722.04L232.75 726.64M227.35 726.64L232.75 722.04M230.05 721.84V726.84M227.15 724.34H232.95M234.25 722.04L239.65 726.64M234.25 726.64L239.65 722.04M236.95 721.84V726.84M234.05 724.34H239.85M241.15 722.04L246.55 726.64M241.15 726.64L246.55 722.04M243.85 721.84V726.84M240.95 724.34H246.75M248.05 722.04L253.45 726.64M248.05 726.64L253.45 722.04M250.75 721.84V726.84M247.85 724.34H253.65M254.95 722.04L260.35 726.64M254.95 726.64L260.35 722.04M257.65 721.84V726.84M254.75 724.34H260.55M261.85 721.75L267.25 726.35M261.85 726.35L267.25 721.75M264.55 721.55V726.55M261.65 724.05H267.45M268.75 721.16L274.15 725.76M268.75 725.76L274.15 721.16M271.45 720.96V725.96M268.55 723.46H274.35M275.65 719.39L281.05 723.99M275.65 723.99L281.05 719.39M278.35 719.19V724.19M275.45 721.69H281.25M282.55 712.3L287.95 716.9M282.55 716.9L287.95 712.3M285.25 712.1V717.1M282.35 714.6H288.15M289.45 710.97L294.85 715.57M289.45 715.57L294.85 710.97M292.15 710.77V715.77M289.25 713.27H295.05M296.35 700.64L301.75 705.24M296.35 705.24L301.75 700.64M299.05 700.44V705.44M296.15 702.94H301.95M303.25 693.11L308.65 697.71M303.25 697.71L308.65 693.11M305.95 692.91V697.91M303.05 695.41H308.85M310.15 662.99L315.55 667.59M310.15 667.59L315.55 662.99M312.85 662.79V667.79M309.95 665.29H315.75M317.05 650.15L322.45 654.75M317.05 654.75L322.45 650.15M319.75 649.95V654.95M316.85 652.45H322.65M323.95 644.83L329.35 649.43M323.95 649.43L329.35 644.83M326.65 644.63V649.63M323.75 647.13H329.55M330.85 674.06L336.25 678.66M330.85 678.66L336.25 674.06M333.55 673.86V678.86M330.65 676.36H336.45M337.75 706.98L343.15 711.58M337.75 711.58L343.15 706.98M340.45 706.78V711.78M337.55 709.28H343.35M344.65 712L350.05 716.6M344.65 716.6L350.05 712M347.35 711.8V716.8M344.45 714.3H350.25M351.55 712.89L356.95 717.49M351.55 717.49L356.95 712.89M354.25 712.69V717.69M351.35 715.19H357.15M358.45 704.33L363.85 708.93M358.45 708.93L363.85 704.33M361.15 704.13V709.13M358.25 706.63H364.05M365.35 715.84L370.75 720.44M365.35 720.44L370.75 715.84M368.05 715.64V720.64M365.15 718.14H370.95M372.25 712.89L377.65 717.49M372.25 717.49L377.65 712.89M374.95 712.69V717.69M372.05 715.19H377.85M379.15 720.27L384.55 724.87M379.15 724.87L384.55 720.27M381.85 720.07V725.07M378.95 722.57H384.75" stroke="#00ffff" stroke-width="1.2"/><path d="M216.25 722.28L223.15 723.46L230.05 694.37L236.95 690.68L243.85 697.47L250.75 694.37L257.65 697.92L264.55 701.17L271.45 702.49L278.35 695.7L285.25 688.91L292.15 677.84L299.05 667.06L305.95 659.09L312.85 647.13L319.75 651.12L326.65 651.86L333.55 665.44L340.45 697.47L347.35 700.28L354.25 702.94L361.15 707.96L368.05 708.69L374.95 711.79L381.85 682.27" stroke="#00ff00" stroke-width="1.5" stroke-linejoin="round"/><path d="M213.55 719.98L218.95 724.58M213.55 724.58L218.95 719.98M216.25 719.78V724.78M213.35 722.28H219.15M220.45 721.16L225.85 725.76M220.45 725.76L225.85 721.16M223.15 720.96V725.96M220.25 723.46H226.05M227.35 692.07L232.75 696.67M227.35 696.67L232.75 692.07M230.05 691.87V696.87M227.15 694.37H232.95M234.25 688.38L239.65 692.98M234.25 692.98L239.65 688.38M236.95 688.18V693.18M234.05 690.68H239.85M241.15 695.17L246.55 699.77M241.15 699.77L246.55 695.17M243.85 694.97V699.97M240.95 697.47H246.75M248.05 692.07L253.45 696.67M248.05 696.67L253.45 692.07M250.75 691.87V696.87M247.85 694.37H253.65M254.95 695.62L260.35 700.22M254.95 700.22L260.35 695.62M257.65 695.42V700.42M254.75 697.92H260.55M261.85 698.87L267.25 703.47M261.85 703.47L267.25 698.87M264.55 698.67V703.67M261.65 701.17H267.45M268.75 700.19L274.15 704.79M268.75 704.79L274.15 700.19M271.45 699.99V704.99M268.55 702.49H274.35M275.65 693.4L281.05 698M275.65 698L281.05 693.4M278.35 693.2V698.2M275.45 695.7H281.25M282.55 686.61L287.95 691.21M282.55 691.21L287.95 686.61M285.25 686.41V691.41M282.35 688.91H288.15M289.45 675.54L294.85 680.14M289.45 680.14L294.85 675.54M292.15 675.34V680.34M289.25 677.84H295.05M296.35 664.76L301.75 669.36M296.35 669.36L301.75 664.76M299.05 664.56V669.56M296.15 667.06H301.95M303.25 656.79L308.65 661.39M303.25 661.39L308.65 656.79M305.95 656.59V661.59M303.05 659.09H308.85M310.15 644.83L315.55 649.43M310.15 649.43L315.55 644.83M312.85 644.63V649.63M309.95 647.13H315.75M317.05 648.82L322.45 653.42M317.05 653.42L322.45 648.82M319.75 648.62V653.62M316.85 651.12H322.65M323.95 649.56L329.35 654.16M323.95 654.16L329.35 649.56M326.65 649.36V654.36M323.75 651.86H329.55M330.85 663.14L336.25 667.74M330.85 667.74L336.25 663.14M333.55 662.94V667.94M330.65 665.44H336.45M337.75 695.17L343.15 699.77M337.75 699.77L343.15 695.17M340.45 694.97V699.97M337.55 697.47H343.35M344.65 697.98L350.05 702.58M344.65 702.58L350.05 697.98M347.35 697.78V702.78M344.45 700.28H350.25M351.55 700.64L356.95 705.24M351.55 705.24L356.95 700.64M354.25 700.44V705.44M351.35 702.94H357.15M358.45 705.66L363.85 710.26M358.45 710.26L363.85 705.66M361.15 705.46V710.46M358.25 707.96H364.05M365.35 706.39L370.75 710.99M365.35 710.99L370.75 706.39M368.05 706.19V711.19M365.15 708.69H370.95M372.25 709.49L377.65 714.09M372.25 714.09L377.65 709.49M374.95 709.29V714.29M372.05 711.79H377.85M379.15 679.97L384.55 684.57M379.15 684.57L384.55 679.97M381.85 679.77V684.77M378.95 682.27H384.75" stroke="#00ff00" stroke-width="1.2"/><path d="M216.25 682.27L223.15 689.5L230.05 676.96L236.95 681.83L243.85 676.07L250.75 679.91L257.65 685.81L264.55 694.82L271.45 707.96L278.35 701.46L285.25 696.59L292.15 683.6L299.05 669.87L305.95 651.86L312.85 642.12L319.75 651.86L326.65 666.18L333.55 675.18L340.45 688.62L347.35 709.73L354.25 707.96L361.15 713.71L368.05 709.28L374.95 707.96L381.85 703.82" stroke="#0000ff" stroke-width="1.5" stroke-linejoin="round"/><path d="M213.55 679.97L218.95 684.57M213.55 684.57L218.95 679.97M216.25 679.77V684.77M213.35 682.27H219.15M220.45 687.2L225.85 691.8M220.45 691.8L225.85 687.2M223.15 687V692M220.25 689.5H226.05M227.35 674.66L232.75 679.25M227.35 679.25L232.75 674.66M230.05 674.46V679.46M227.15 676.96H232.95M234.25 679.53L239.65 684.13M234.25 684.13L239.65 679.53M236.95 679.33V684.33M234.05 681.83H239.85M241.15 673.77L246.55 678.37M241.15 678.37L246.55 673.77M243.85 673.57V678.57M240.95 676.07H246.75M248.05 677.61L253.45 682.21M248.05 682.21L253.45 677.61M250.75 677.41V682.41M247.85 679.91H253.65M254.95 683.51L260.35 688.11M254.95 688.11L260.35 683.51M257.65 683.31V688.31M254.75 685.81H260.55M261.85 692.52L267.25 697.12M261.85 697.12L267.25 692.52M264.55 692.32V697.32M261.65 694.82H267.45M268.75 705.66L274.15 710.26M268.75 710.26L274.15 705.66M271.45 705.46V710.46M268.55 707.96H274.35M275.65 699.16L281.05 703.76M275.65 703.76L281.05 699.16M278.35 698.96V703.96M275.45 701.46H281.25M282.55 694.29L287.95 698.89M282.55 698.89L287.95 694.29M285.25 694.09V699.09M282.35 696.59H288.15M289.45 681.3L294.85 685.9M289.45 685.9L294.85 681.3M292.15 681.1V686.1M289.25 683.6H295.05M296.35 667.57L301.75 672.17M296.35 672.17L301.75 667.57M299.05 667.37V672.37M296.15 669.87H301.95M303.25 649.56L308.65 654.16M303.25 654.16L308.65 649.56M305.95 649.36V654.36M303.05 651.86H308.85M310.15 639.82L315.55 644.42M310.15 644.42L315.55 639.82M312.85 639.62V644.62M309.95 642.12H315.75M317.05 649.56L322.45 654.16M317.05 654.16L322.45 649.56M319.75 649.36V654.36M316.85 651.86H322.65M323.95 663.88L329.35 668.48M323.95 668.48L329.35 663.88M326.65 663.68V668.68M323.75 666.18H329.55M330.85 672.88L336.25 677.48M330.85 677.48L336.25 672.88M333.55 672.68V677.68M330.65 675.18H336.45M337.75 686.32L343.15 690.92M337.75 690.92L343.15 686.32M340.45 686.12V691.12M337.55 688.62H343.35M344.65 707.43L350.05 712.03M344.65 712.03L350.05 707.43M347.35 707.23V712.23M344.45 709.73H350.25M351.55 705.66L356.95 710.26M351.55 710.26L356.95 705.66M354.25 705.46V710.46M351.35 707.96H357.15M358.45 711.41L363.85 716.01M358.45 716.01L363.85 711.41M361.15 711.21V716.21M358.25 713.71H364.05M365.35 706.98L370.75 711.58M365.35 711.58L370.75 706.98M368.05 706.78V711.78M365.15 709.28H370.95M372.25 705.66L377.65 710.26M372.25 710.26L377.65 705.66M374.95 705.46V710.46M372.05 707.96H377.85M379.15 701.52L384.55 706.12M379.15 706.12L384.55 701.52M381.85 701.32V706.32M378.95 703.82H384.75" stroke="#0000ff" stroke-width="1.2"/><path d="M216.25 703.23L223.15 702.49L230.05 703.82L236.95 703.23L243.85 705L250.75 704.27L257.65 715.49L264.55 715.04L271.45 713.71L278.35 701.17L285.25 703.23L292.15 694.37L299.05 674.3L305.95 677.1L312.85 665.14L319.75 677.1L326.65 698.66L333.55 690.09L340.45 698.66L347.35 691.27L354.25 707.96L361.15 682.27L368.05 691.27L374.95 694.82L381.85 690.09" stroke="#ff0000" stroke-width="1.5" stroke-linejoin="round"/><path d="M213.55 700.93L218.95 705.53M213.55 705.53L218.95 700.93M216.25 700.73V705.73M213.35 703.23H219.15M220.45 700.19L225.85 704.79M220.45 704.79L225.85 700.19M223.15 699.99V704.99M220.25 702.49H226.05M227.35 701.52L232.75 706.12M227.35 706.12L232.75 701.52M230.05 701.32V706.32M227.15 703.82H232.95M234.25 700.93L239.65 705.53M234.25 705.53L239.65 700.93M236.95 700.73V705.73M234.05 703.23H239.85M241.15 702.7L246.55 707.3M241.15 707.3L246.55 702.7M243.85 702.5V707.5M240.95 705H246.75M248.05 701.97L253.45 706.57M248.05 706.57L253.45 701.97M250.75 701.77V706.77M247.85 704.27H253.65M254.95 713.19L260.35 717.79M254.95 717.79L260.35 713.19M257.65 712.99V717.99M254.75 715.49H260.55M261.85 712.74L267.25 717.34M261.85 717.34L267.25 712.74M264.55 712.54V717.54M261.65 715.04H267.45M268.75 711.41L274.15 716.01M268.75 716.01L274.15 711.41M271.45 711.21V716.21M268.55 713.71H274.35M275.65 698.87L281.05 703.47M275.65 703.47L281.05 698.87M278.35 698.67V703.67M275.45 701.17H281.25M282.55 700.93L287.95 705.53M282.55 705.53L287.95 700.93M285.25 700.73V705.73M282.35 703.23H288.15M289.45 692.07L294.85 696.67M289.45 696.67L294.85 692.07M292.15 691.87V696.87M289.25 694.37H295.05M296.35 672L301.75 676.6M296.35 676.6L301.75 672M299.05 671.8V676.8M296.15 674.3H301.95M303.25 674.8L308.65 679.4M303.25 679.4L308.65 674.8M305.95 674.6V679.6M303.05 677.1H308.85M310.15 662.85L315.55 667.44M310.15 667.44L315.55 662.85M312.85 662.64V667.64M309.95 665.14H315.75M317.05 674.8L322.45 679.4M317.05 679.4L322.45 674.8M319.75 674.6V679.6M316.85 677.1H322.65M323.95 696.36L329.35 700.96M323.95 700.96L329.35 696.36M326.65 696.16V701.16M323.75 698.66H329.55M330.85 687.79L336.25 692.39M330.85 692.39L336.25 687.79M333.55 687.59V692.59M330.65 690.09H336.45M337.75 696.36L343.15 700.96M337.75 700.96L343.15 696.36M340.45 696.16V701.16M337.55 698.66H343.35M344.65 688.97L350.05 693.57M344.65 693.57L350.05 688.97M347.35 688.77V693.77M344.45 691.27H350.25M351.55 705.66L356.95 710.26M351.55 710.26L356.95 705.66M354.25 705.46V710.46M351.35 707.96H357.15M358.45 679.97L363.85 684.57M358.45 684.57L363.85 679.97M361.15 679.77V684.77M358.25 682.27H364.05M365.35 688.97L370.75 693.57M365.35 693.57L370.75 688.97M368.05 688.77V693.77M365.15 691.27H370.95M372.25 692.52L377.65 697.12M372.25 697.12L377.65 692.52M374.95 692.32V697.32M372.05 694.82H377.85M379.15 687.79L384.55 692.39M379.15 692.39L384.55 687.79M381.85 687.59V692.59M378.95 690.09H384.75" stroke="#ff0000" stroke-width="1.2"/></g><path d="M216 612H382.9M216 730.1H382.9" stroke="#000" stroke-width="1.8" fill="none"/><path d="M216.6 612V730.1M382.3 612V730.1" stroke="#000" stroke-width="1.3" fill="none"/><path d="M243.85 612v6M243.85 730.1v-6M271.45 612v6M271.45 730.1v-6M299.05 612v6M299.05 730.1v-6M326.65 612v6M326.65 730.1v-6M354.25 612v6M354.25 730.1v-6M230.05 612v4M230.05 730.1v-4M257.65 612v4M257.65 730.1v-4M285.25 612v4M285.25 730.1v-4M312.85 612v4M312.85 730.1v-4M340.45 612v4M340.45 730.1v-4M368.05 612v4M368.05 730.1v-4M216.6 700.58h6M382.3 700.58h-6M216.6 671.05h6M382.3 671.05h-6M216.6 641.53h6M382.3 641.53h-6M216.6 715.34h4M382.3 715.34h-4M216.6 685.81h4M382.3 685.81h-4M216.6 656.29h4M382.3 656.29h-4M216.6 626.76h4M382.3 626.76h-4" stroke="#000" stroke-width="1.1" fill="none"/><path d="M243.85 612V729.1M271.45 612V729.1M299.05 612V729.1M326.65 612V729.1M354.25 612V729.1M217.6 612H381.3M217.6 700.58H381.3M217.6 671.05H381.3M217.6 641.53H381.3" stroke="#000" stroke-width="1" stroke-dasharray="1.3 1.8" fill="none"/><g class="t" fill="#000"><text x="216.25" y="740.8" text-anchor="middle">0</text><text x="243.85" y="740.8" text-anchor="middle">4</text><text x="271.45" y="740.8" text-anchor="middle">8</text><text x="299.05" y="740.8" text-anchor="middle">12</text><text x="326.65" y="740.8" text-anchor="middle">16</text><text x="354.25" y="740.8" text-anchor="middle">20</text><text x="381.85" y="740.8" text-anchor="middle">24</text><text x="212.1" y="733.4" text-anchor="end">0</text><text x="212.1" y="703.88" text-anchor="end">20</text><text x="212.1" y="674.35" text-anchor="end">40</text><text x="212.1" y="644.83" text-anchor="end">60</text><text x="212.1" y="615.3" text-anchor="end">80</text></g><text class="n" x="299.45" y="754.8" text-anchor="middle" fill="#000" clip-path="url(#l41)" textLength="100.7" lengthAdjust="spacingAndGlyphs">Airport, Pump House 5</text>
<clipPath id="c42"><rect x="409.6" y="612" width="165.7" height="118.1"/></clipPath><clipPath id="l42"><rect x="389.6" y="742.1" width="205.7" height="12.7"/></clipPath><path d="M409 612H575.9M409 730.1H575.9" stroke="#000" stroke-width="1.8" fill="none"/><path d="M409.6 612V730.1M575.3 612V730.1" stroke="#000" stroke-width="1.3" fill="none"/><path d="M436.85 612v6M436.85 730.1v-6M464.45 612v6M464.45 730.1v-6M492.05 612v6M492.05 730.1v-6M519.65 612v6M519.65 730.1v-6M547.25 612v6M547.25 730.1v-6M423.05 612v4M423.05 730.1v-4M450.65 612v4M450.65 730.1v-4M478.25 612v4M478.25 730.1v-4M505.85 612v4M505.85 730.1v-4M533.45 612v4M533.45 730.1v-4M561.05 612v4M561.05 730.1v-4M409.6 700.58h6M575.3 700.58h-6M409.6 671.05h6M575.3 671.05h-6M409.6 641.53h6M575.3 641.53h-6M409.6 715.34h4M575.3 715.34h-4M409.6 685.81h4M575.3 685.81h-4M409.6 656.29h4M575.3 656.29h-4M409.6 626.76h4M575.3 626.76h-4" stroke="#000" stroke-width="1.1" fill="none"/><path d="M436.85 612V729.1M464.45 612V729.1M492.05 612V729.1M519.65 612V729.1M547.25 612V729.1M410.6 612H574.3M410.6 700.58H574.3M410.6 671.05H574.3M410.6 641.53H574.3" stroke="#000" stroke-width="1" stroke-dasharray="1.3 1.8" fill="none"/><g class="t" fill="#000"><text x="409.25" y="740.8" text-anchor="middle">0</text><text x="436.85" y="740.8" text-anchor="middle">4</text><text x="464.45" y="740.8" text-anchor="middle">8</text><text x="492.05" y="740.8" text-anchor="middle">12</text><text x="519.65" y="740.8" text-anchor="middle">16</text><text x="547.25" y="740.8" text-anchor="middle">20</text><text x="574.85" y="740.8" text-anchor="middle">24</text><text x="405.1" y="733.4" text-anchor="end">0</text><text x="405.1" y="703.88" text-anchor="end">20</text><text x="405.1" y="674.35" text-anchor="end">40</text><text x="405.1" y="644.83" text-anchor="end">60</text><text x="405.1" y="615.3" text-anchor="end">80</text></g><text class="n" x="492.45" y="754.8" text-anchor="middle" fill="#000" clip-path="url(#l42)">Southern</text>
<clipPath id="c44"><rect x="795.6" y="612" width="165.7" height="118.1"/></clipPath><clipPath id="l44"><rect x="775.6" y="742.1" width="205.7" height="12.7"/></clipPath><g clip-path="url(#c44)" fill="none" stroke-width="1.05" stroke-linejoin="round"><path d="M795.25 728.33L796.98 728.33L798.7 728.62L800.42 728.62L802.15 728.62L803.88 727.89L805.6 718.29L807.33 720.65L809.05 724.2L810.77 723.31L812.5 719.77L814.23 718.29L815.95 699.69L817.67 680.35L819.4 661.6L821.12 670.02L822.85 644.18L824.58 653.93L826.3 677.69L828.02 699.1L829.75 706.48L831.48 715.34L833.2 720.5L834.92 721.69L836.65 725.08L838.38 693.19L840.1 675.92L841.83 673.26L843.55 671.35L845.27 676.96L847 680.35L848.73 682.12L850.45 690.24L852.17 690.68L853.9 682.12L855.62 677.69L857.35 671.35L859.08 666.03L860.8 653.93L862.52 649.94L864.25 657.76L865.98 667.51L867.7 674.59L869.42 677.69L871.15 675.48L872.88 688.47L874.6 680.35L876.33 678.14L878.05 673.56L879.77 676.96L881.5 671.35L883.23 668.39L884.95 668.39L886.67 669.57L888.4 675.92L890.12 688.76L891.85 699.1L893.58 694.67L895.3 686.11L897.02 679.46L898.75 675.92L900.48 665.74L902.2 658.5L903.92 653.34L905.65 657.76L907.38 670.46L909.1 683.6L910.83 698.21L912.55 721.24L914.27 728.33L916 728.33L917.73 728.33L919.45 728.33L921.17 723.01L922.9 725.97L924.62 722.42L926.35 718.88L928.08 718.88L929.8 723.31L931.52 725.08L933.25 728.33L934.98 723.01L936.7 694.37L938.42 683.6L940.15 670.46L941.88 671.35L943.6 685.81L945.33 677.25L947.05 672.82L948.77 674.59L950.5 674.59L952.23 684.34L953.95 720.65L955.67 727.74L957.4 703.68L959.12 691.72L960.85 694.67" stroke="#0000ff"/><path d="M795.25 700.43L796.98 712.24L798.7 709.73L800.42 724.34L802.15 697.92L803.88 694.82L805.6 702.05L807.33 711.79L809.05 721.69L810.77 723.46L812.5 720.65L814.23 709.73L815.95 703.82L817.67 691.27L819.4 688.17L821.12 668.1L822.85 659.24L824.58 658.06L826.3 664.26L828.02 668.1L829.75 656.88L831.48 691.13L833.2 674.15L834.92 684.78L836.65 687.73L838.38 690.24L840.1 683.01L841.83 677.99L843.55 670.46L845.27 673.26L847 675.92L848.73 683.01L850.45 688.91L852.17 688.47L853.9 681.83L855.62 677.69L857.35 667.8L859.08 658.94L860.8 658.06L862.52 654.96L864.25 654.96L865.98 655.25L867.7 665.29L869.42 678.14L871.15 670.75L872.88 674L874.6 662.64L876.33 662.64L878.05 654.37L879.77 660.72L881.5 672.23L883.23 665.14L884.95 671.05L886.67 692.46L888.4 693.19L890.12 702.05L891.85 709.43L893.58 705.74L895.3 687.58L897.02 678.43L898.75 675.48L900.48 660.27L902.2 655.25L903.92 650.38L905.65 654.37L907.38 662.49L909.1 672.23L910.83 698.66L912.55 720.65L914.27 726.56L916 727.74L917.73 726.56L919.45 724.34L921.17 720.5L922.9 718.59L924.62 711.79L926.35 712.24L928.08 695.7L929.8 724.79L931.52 725.82L933.25 724.05L934.98 704.41L936.7 674L938.42 660.86L940.15 649.79L941.88 641.67L943.6 641.67L945.33 638.13L947.05 634.59L948.77 638.13L950.5 661.75L952.23 677.84L953.95 686.55L955.67 688.91L957.4 680.35L959.12 672.82L960.85 692.01" stroke="#0000ff"/><path d="M795.25 668.54L796.98 689.95L798.7 688.17L800.42 689.5L802.15 690.24L803.88 694.37L805.6 697.47L807.33 693.93L809.05 702.49L810.77 697.47L812.5 699.69L814.23 701.9L815.95 679.61L817.67 663.96L819.4 647.13L821.12 634L822.85 624.11L824.58 612.59L826.3 620.56L828.02 623.81L829.75 640.34L831.48 653.19L833.2 659.98L834.92 673.41L836.65 683.6L838.38 670.75L840.1 663.96L841.83 666.18L843.55 669.87L845.27 674L847 677.55L848.73 677.84L850.45 679.76L852.17 677.84L853.9 674L855.62 668.1L857.35 654.66L859.08 652.45L860.8 645.22L862.52 633.85L864.25 629.57L865.98 632.08L867.7 628.53L869.42 634.14L871.15 642.12L872.88 659.09L874.6 650.97L876.33 647.13L878.05 654.37L879.77 651.42L881.5 660.72L883.23 662.78L884.95 663.96L886.67 665.74L888.4 666.92L890.12 667.8L891.85 669.57L893.58 670.46L895.3 669.28L897.02 665.74L898.75 657.47L900.48 649.64L902.2 642.85L903.92 637.39L905.65 635.32L907.38 637.1L909.1 640.05L910.83 653.19L912.55 670.46L914.27 675.92L916 675.92L917.73 674L919.45 666.77L921.17 678.14L922.9 678.73L924.62 679.91L926.35 682.86L928.08 685.96L929.8 679.76L931.52 667.51L933.25 670.31L934.98 668.98L936.7 657.91L938.42 653.19L940.15 638.57L941.88 631.34L943.6 626.91L945.33 627.5L947.05 623.81L948.77 623.37L950.5 620.27L952.23 627.5L953.95 635.32L955.67 650.09L957.4 663.23L959.12 667.06L960.85 673.85" stroke="#0000ff"/><path d="M795.25 725.97L796.98 726.56L798.7 725.97L800.42 725.38L802.15 725.97L803.88 726.56L805.6 726.56L807.33 726.56L809.05 725.38L810.77 725.08L812.5 716.37L814.23 718.14L815.95 707.37L817.67 688.17L819.4 684.04L821.12 675.18L822.85 617.02L824.58 628.68L826.3 673.41L828.02 683.16L829.75 694.82L831.48 713.57L833.2 717.26L834.92 717.26L836.65 723.9L838.38 711.5L840.1 671.64L841.83 665L843.55 665L845.27 665.74L847 669.87L848.73 676.07L850.45 675.18L852.17 685.07L853.9 681.38L855.62 674.3L857.35 672.53L859.08 668.84L860.8 665.29L862.52 650.09L864.25 649.2L865.98 667.06L867.7 667.06L869.42 694.82L871.15 689.95L872.88 677.84L874.6 688.91L876.33 664.41L878.05 663.52L879.77 663.23L881.5 663.96L883.23 661.45L884.95 658.5L886.67 663.23L888.4 665L890.12 667.95L891.85 677.84L893.58 685.07L895.3 687.73L897.02 682.86L898.75 678.73L900.48 668.84L902.2 657.17L903.92 653.63L905.65 647.13L907.38 660.72L909.1 681.38L910.83 700.72L912.55 714.3L914.27 725.08L916 725.97L917.73 725.97L919.45 725.97L921.17 725.97L922.9 725.08L924.62 718.88L926.35 704.56L928.08 705.45L929.8 717.55L931.52 723.6L933.25 725.38L934.98 723.31L936.7 714.01L938.42 705.15L940.15 697.92L941.88 684.78L943.6 665.29L945.33 659.98L947.05 663.23L948.77 667.06L950.5 692.16L952.23 713.57L953.95 720.65L955.67 719.32L957.4 717.11L959.12 690.39L960.85 673.26" stroke="#0000ff"/><path d="M795.25 728.62L796.98 728.62L798.7 729.07L800.42 728.62L802.15 725.08L803.88 701.46L805.6 711.79L807.33 723.01L809.05 725.52L810.77 726.85L812.5 725.97L814.23 725.08L815.95 724.79L817.67 717.11L819.4 712.83L821.12 719.32L822.85 694.37L824.58 693.93L826.3 720.06L828.02 727.3L829.75 727.74L831.48 728.33L833.2 727.74L834.92 727.74L836.65 728.33L838.38 727.89L840.1 726.85L841.83 683.6L843.55 676.07L845.27 669.87L847 674.3L848.73 682.42L850.45 687.73L852.17 692.16L853.9 694.82L855.62 690.39L857.35 679.32L859.08 666.77L860.8 665L862.52 683.6L864.25 679.61L865.98 683.6L867.7 692.16L869.42 714.6L871.15 706.48L872.88 672.53L874.6 678.28L876.33 670.31L878.05 669.87L879.77 668.54L881.5 667.06L883.23 672.82L884.95 662.64L886.67 668.84L888.4 675.18L890.12 688.91L891.85 699.39L893.58 700.28L895.3 695.7L897.02 690.39L898.75 678.73L900.48 668.84L902.2 691.87L903.92 687.14L905.65 670.31L907.38 675.18L909.1 684.04L910.83 713.57L912.55 722.57L914.27 725.23L916 722.57L917.73 725.23L919.45 725.82L921.17 725.23L922.9 724.49L924.62 713.12L926.35 704.12L928.08 694.37L929.8 692.9L931.52 700.13L933.25 710.47L934.98 700.28L936.7 704.71L938.42 691.87L940.15 706.92L941.88 677.84L943.6 659.98L945.33 652.01L947.05 662.64L948.77 667.06L950.5 681.38L952.23 700.13L953.95 712.68L955.67 710.02L957.4 705.89L959.12 687.14L960.85 688.62" stroke="#0000ff"/><path d="M795.25 728.92L796.98 728.92L798.7 728.92L800.42 728.92L802.15 697.62L803.88 693.64L805.6 701.17L807.33 712.83L809.05 724.79L810.77 725.52L812.5 725.97L814.23 725.08L815.95 724.2L817.67 722.87L819.4 718.29L821.12 720.06L822.85 712.24L824.58 710.76L826.3 721.54L828.02 726.85L829.75 723.46L831.48 719.32L833.2 728.62L834.92 722.57L836.65 699.39L838.38 687.14L840.1 681.38L841.83 679.61L843.55 679.32L845.27 679.61L847 681.38L848.73 688.91L850.45 696.59L852.17 698.36L853.9 695.41L855.62 683.6L857.35 697.62L859.08 689.95L860.8 689.95L862.52 689.95L864.25 703.23L865.98 696.59L867.7 693.93L869.42 698.36L871.15 714.6L872.88 701.17L874.6 688.17L876.33 679.32L878.05 678.73L879.77 679.61L881.5 672.53L883.23 675.18L884.95 674L886.67 675.18L888.4 682.86L890.12 690.39L891.85 699.39L893.58 704.71L895.3 696.59L897.02 690.39L898.75 685.07L900.48 673.41L902.2 673.41L903.92 687.73L905.65 690.68L907.38 692.16L909.1 702.94L910.83 725.52L912.55 727.74L914.27 728.92L916 728.92L917.73 727.74L919.45 724.2L921.17 709.73L922.9 694.37L924.62 694.37L926.35 683.6L928.08 674L929.8 675.18L931.52 682.42L933.25 699.39L934.98 701.17L936.7 694.82L938.42 691.27L940.15 685.07L941.88 681.38L943.6 673.41L945.33 677.55L947.05 682.86L948.77 683.6L950.5 702.94L952.23 702.05L953.95 702.05L955.67 684.04L957.4 679.61L959.12 683.6L960.85 690.39" stroke="#0000ff"/><path d="M795.25 728.62L796.98 724.2L798.7 705.59L800.42 685.96L802.15 689.95L803.88 688.91L805.6 693.93L807.33 708.25L809.05 719.32L810.77 719.32L812.5 719.32L814.23 696.59L815.95 676.07L817.67 674.59L819.4 668.84L821.12 678.28L822.85 719.32L824.58 697.47L826.3 718.88L828.02 725.97L829.75 728.62L831.48 725.08L833.2 682.86L834.92 660.86L836.65 677.55L838.38 676.96L840.1 669.87L841.83 669.87L843.55 665.29L845.27 669.87L847 674L848.73 681.83L850.45 686.85L852.17 685.96L853.9 681.83L855.62 673.41L857.35 668.84L859.08 659.54L860.8 647.13L862.52 644.77L864.25 643.89L865.98 643.89L867.7 667.95L869.42 717.26L871.15 725.97L872.88 723.31L874.6 701.17L876.33 662.64L878.05 660.86L879.77 663.23L881.5 665.74L883.23 667.51L884.95 667.95L886.67 669.28L888.4 672.53L890.12 679.61L891.85 686.85L893.58 687.14L895.3 676.07L897.02 672.82L898.75 665L900.48 659.98L902.2 653.19L903.92 649.64L905.65 652.45L907.38 648.32L909.1 688.62L910.83 727.74L912.55 728.62L914.27 728.62L916 728.62L917.73 728.62L919.45 728.62L921.17 728.62L922.9 728.62L924.62 729.51L926.35 729.51L928.08 729.07L929.8 723.31L931.52 715.19L933.25 717.55L934.98 701.17L936.7 669.87L938.42 664.41L940.15 653.19L941.88 643.89L943.6 639.31L945.33 635.77L947.05 634L948.77 638.13L950.5 649.64L952.23 688.17L953.95 724.79L955.67 723.01L957.4 728.33L959.12 724.79L960.85 702.94" stroke="#0000ff"/><path d="M795.25 724.05L796.98 724.05L798.7 724.05L800.42 724.05L802.15 724.05L803.88 724.05L805.6 724.05L807.33 723.6L809.05 719.03L810.77 708.69L812.5 709.73L814.23 703.82L815.95 684.04L817.67 665.29L819.4 644.77L821.12 628.09L822.85 643.44L824.58 659.09L826.3 686.4L828.02 684.63L829.75 687.73L831.48 692.6L833.2 704.41L834.92 702.05L836.65 702.05L838.38 713.27L840.1 669.28L841.83 672.23L843.55 669.87L845.27 669.28L847 677.84L848.73 676.36L850.45 676.96L852.17 677.55L853.9 674L855.62 669.87L857.35 662.19L859.08 655.99L860.8 649.2L862.52 647.73L864.25 649.2L865.98 658.21L867.7 652.45L869.42 663.96L871.15 694.82L872.88 720.8L874.6 720.8L876.33 703.82L878.05 670.31L879.77 669.87L881.5 660.86L883.23 663.23L884.95 664.41L886.67 663.52L888.4 665.74L890.12 675.18L891.85 676.36L893.58 674.3L895.3 670.31L897.02 664.41L898.75 654.96L900.48 652.45L902.2 650.97L903.92 659.54L905.65 664.41L907.38 672.53L909.1 652.45L910.83 707.81L912.55 724.05L914.27 724.05L916 724.34L917.73 724.34L919.45 693.05L921.17 674.59L922.9 669.87L924.62 677.84L926.35 674.3L928.08 686.85L929.8 685.07L931.52 679.61L933.25 688.91L934.98 698.36L936.7 678.28L938.42 675.18L940.15 668.84L941.88 666.18L943.6 653.19L945.33 653.63L947.05 657.76L948.77 658.5L950.5 669.87L952.23 669.87L953.95 684.04L955.67 661.16L957.4 665.14L959.12 699.69L960.85 691.27" stroke="#0000ff"/><path d="M795.25 727.59L796.98 727.59L798.7 727.59L800.42 727.89L802.15 714.01L803.88 724.05L805.6 719.91L807.33 713.27L809.05 719.32L810.77 727L812.5 725.23L814.23 724.34L815.95 724.79L817.67 724.79L819.4 724.05L821.12 725.82L822.85 719.91L824.58 722.87L826.3 725.82L828.02 727L829.75 727L831.48 727L833.2 727L834.92 726.56L836.65 727.59L838.38 715.04L840.1 691.87L841.83 682.42L843.55 672.82L845.27 676.07L847 678.73L848.73 688.62L850.45 693.05L852.17 686.4L853.9 694.82L855.62 690.39L857.35 682.42L859.08 669.28L860.8 685.07L862.52 687.73L864.25 677.1L865.98 674.3L867.7 698.95L869.42 722.13L871.15 712.24L872.88 669.87L874.6 653.19L876.33 657.76L878.05 662.19L879.77 670.31L881.5 670.75L883.23 669.87L884.95 667.95L886.67 672.82L888.4 677.55L890.12 683.6L891.85 695.41L893.58 703.82L895.3 713.27L897.02 705.59L898.75 694.37L900.48 674.59L902.2 667.95L903.92 702.49L905.65 705.59L907.38 719.91L909.1 725.23L910.83 727.59L912.55 727.59L914.27 727.59L916 727.59L917.73 727L919.45 720.06L921.17 699.39L922.9 689.5L924.62 673.41L926.35 675.77L928.08 679.32L929.8 673.41L931.52 669.87L933.25 683.6L934.98 703.82L936.7 690.68L938.42 689.5L940.15 703.23L941.88 662.78L943.6 677.55L945.33 664.41L947.05 662.78L948.77 669.87L950.5 673.41L952.23 688.62L953.95 699.69L955.67 682.86L957.4 675.77L959.12 665L960.85 665" stroke="#0000ff"/><path d="M795.25 727.59L796.98 727.59L798.7 727.59L800.42 725.23L802.15 702.49L803.88 698.95L805.6 707.37L807.33 715.04L809.05 724.05L810.77 725.82L812.5 726.56L814.23 725.23L815.95 724.05L817.67 725.82L819.4 725.82L821.12 725.23L822.85 725.23L824.58 725.23L826.3 725.82L828.02 725.23L829.75 718.14L831.48 717.55L833.2 719.03L834.92 713.42L836.65 715.04L838.38 700.72L840.1 682.42L841.83 684.19L843.55 677.4L845.27 674.89L847 680.35L848.73 696L850.45 713.42L852.17 713.71L853.9 708.1L855.62 704.41L857.35 702.05L859.08 712.24L860.8 714.6L862.52 711.79L864.25 712.83L865.98 711.79L867.7 719.32L869.42 721.69L871.15 717.26L872.88 698.95L874.6 705.59L876.33 693.05L878.05 699.39L879.77 687.73L881.5 674.59L883.23 675.77L884.95 678.73L886.67 678.73L888.4 688.62L890.12 694.37L891.85 704.41L893.58 715.04L895.3 706.92L897.02 708.25L898.75 702.94L900.48 704.41L902.2 696.59L903.92 702.05L905.65 715.04L907.38 720.8L909.1 722.57L910.83 725.82L912.55 727.59L914.27 727L916 726.56L917.73 727L919.45 720.06L921.17 714.6L922.9 704.41L924.62 699.69L926.35 684.63L928.08 676.36L929.8 684.63L931.52 704.86L933.25 713.71L934.98 713.71L936.7 711.79L938.42 711.79L940.15 698.66L941.88 702.94L943.6 700.72L945.33 690.39L947.05 688.91L948.77 699.39L950.5 704.86L952.23 720.06L953.95 711.79L955.67 708.25L957.4 712.83L959.12 709.73L960.85 710.02" stroke="#ff0000"/><path d="M795.25 725.52L796.98 725.52L798.7 712.24L800.42 693.93L802.15 669.87L803.88 678.73L805.6 696.59L807.33 708.69L809.05 719.91L810.77 720.5L812.5 722.57L814.23 720.5L815.95 701.17L817.67 712.24L819.4 700.72L821.12 692.6L822.85 710.47L824.58 708.69L826.3 719.91L828.02 706.63L829.75 678.28L831.48 671.64L833.2 668.84L834.92 677.55L836.65 676.07L838.38 683.6L840.1 679.61L841.83 674.3L843.55 669.87L845.27 667.95L847 669.28L848.73 680.65L850.45 689.5L852.17 688.91L853.9 684.04L855.62 693.93L857.35 699.39L859.08 675.18L860.8 657.76L862.52 661.75L864.25 673.41L865.98 673.41L867.7 679.61L869.42 666.77L871.15 663.23L872.88 663.23L874.6 661.45L876.33 664.41L878.05 669.87L879.77 669.28L881.5 667.06L883.23 667.06L884.95 668.84L886.67 667.06L888.4 673.41L890.12 678.73L891.85 686.85L893.58 694.08L895.3 686.4L897.02 680.94L898.75 674.59L900.48 672.53L910.83 719.91L912.55 719.91L914.27 721.39L916 715.04L917.73 709.14L919.45 677.55L921.17 681.83L922.9 668.84L924.62 669.28L926.35 662.64L928.08 659.98L929.8 663.23L931.52 678.73L933.25 690.68L934.98 687.14L936.7 671.05L938.42 671.05L940.15 659.98L941.88 651.86L943.6 643.89L945.33 643.89L947.05 643.89L948.77 648.32L950.5 654.22L952.23 663.23L953.95 662.64L955.67 667.06L957.4 660.86L959.12 663.23L960.85 673.85" stroke="#0000ff"/><path d="M795.25 675.48L796.98 695.26L798.7 654.81L800.42 660.72L802.15 654.22L803.88 659.68L805.6 678.43L807.33 684.19L809.05 694.97L810.77 685.37L812.5 712.24L814.23 693.64L815.95 668.25L817.67 661.01L819.4 664.55L821.12 667.65L822.85 654.52L824.58 650.83L826.3 667.65L828.02 652.74L829.75 664.26L831.48 670.16L833.2 661.75L834.92 662.49L836.65 665L838.38 667.95L840.1 667.06L841.83 661.45L843.55 664.41L845.27 666.18L847 669.28L848.73 674L850.45 675.77L852.17 677.55L853.9 672.82L855.62 665.29L857.35 654.66L859.08 645.66L860.8 637.54L862.52 634.59L864.25 630.9L865.98 637.1L867.7 630.9L869.42 638.13L871.15 647.73L872.88 647.73L874.6 654.66L876.33 653.19L878.05 651.42L879.77 654.22L881.5 659.09L883.23 663.96L884.95 665.29L886.67 667.95L888.4 668.84L890.12 672.53L891.85 673.41L893.58 672.53L895.3 667.95L897.02 663.52L898.75 659.09L900.48 652.45L902.2 647.13L903.92 642.12L905.65 639.9L907.38 665L909.1 678.73L910.83 707.37L912.55 724.34L914.27 725.23L916 725.82L917.73 725.82L919.45 727.74L921.17 726.56L922.9 720.06L924.62 709.28L926.35 692.46L928.08 699.69L929.8 654.81L931.52 649.35L933.25 662.64L934.98 659.09L936.7 655.4L938.42 648.17L940.15 640.93L941.88 637.83L943.6 633.55L945.33 629.42L947.05 628.83L948.77 633.55L950.5 636.06L952.23 654.81L953.95 693.64L955.67 710.02L957.4 715.49L959.12 725.23L960.85 669.13" stroke="#0000ff"/><path d="M795.25 717.55L796.98 717.99L798.7 716.52L800.42 718.88L802.15 720.06L803.88 720.06L805.6 720.65L807.33 720.65L809.05 719.77L810.77 717.11L812.5 714.3L814.23 708.1L815.95 692.01L817.67 670.46L819.4 683.89L821.12 663.37L822.85 655.7L824.58 663.52L826.3 686.55L828.02 693.78L829.75 708.4L831.48 710.91L833.2 697.92L834.92 697.92L836.65 701.17L838.38 708.69L840.1 677.1L841.83 675.33L843.55 681.97L845.27 678.28L847 675.33L848.73 674.74L850.45 677.1L852.17 677.1L853.9 676.51L855.62 669.28L857.35 655.99L859.08 650.09L860.8 638.13L862.52 634.59L864.25 633.11L865.98 644.63L867.7 650.09L869.42 699.25L871.15 713.57L872.88 705.15L874.6 710.91L876.33 695.7L878.05 669.28L879.77 658.5L881.5 660.27L883.23 664.41L884.95 665L886.67 662.64L888.4 666.18L890.12 672.82L891.85 687.73L893.58 688.91L895.3 681.83L897.02 673.41L898.75 659.98L900.48 649.2L902.2 637.83L903.92 645.51L905.65 659.83L907.38 680.35L909.1 694.97L910.83 710.02L912.55 713.57L914.27 722.57L916 721.69L917.73 716.67L919.45 722.42L921.17 722.42L922.9 696.59L924.62 715.04L926.35 711.5L928.08 698.21L929.8 692.46L931.52 714.01L933.25 692.46L934.98 685.37L936.7 686.55L938.42 677.1L940.15 674L941.88 684.78L943.6 670.46L945.33 670.46L947.05 668.69L948.77 677.1L950.5 677.1L952.23 665L953.95 675.33L955.67 677.55L957.4 677.1L959.12 672.23L960.85 675.33" stroke="#0000ff"/><path d="M795.25 728.92L796.98 728.92L798.7 728.92L800.42 728.92L802.15 706.48L803.88 691.87L805.6 701.17L807.33 722.28L809.05 713.27L810.77 716.37L812.5 727L814.23 724.34L815.95 723.46L817.67 724.05L819.4 716.96L821.12 714.6L822.85 709.28L824.58 699.39L826.3 685.07L828.02 724.05L829.75 723.46L831.48 707.96L833.2 720.5L834.92 703.82L836.65 683.16L838.38 684.04L840.1 687.14L841.83 682.42L843.55 676.51L845.27 673.41L847 675.18L848.73 682.86L850.45 699.69L852.17 699.69L853.9 697.92L855.62 696.59L857.35 698.95L859.08 689.5L860.8 685.07L862.52 683.6L864.25 678.73L865.98 669.28L867.7 662.78L869.42 674.59L871.15 693.05L872.88 681.38L874.6 670.31L876.33 671.05L878.05 663.23L879.77 664.41L881.5 666.18L883.23 676.96L884.95 678.73L886.67 668.54L888.4 676.51L890.12 688.32L891.85 710.47L893.58 708.69L895.3 699.69L897.02 691.87L898.75 687.73L900.48 677.84L902.2 672.82L903.92 691.87L905.65 674.59L907.38 674.59L909.1 676.07L910.83 683.6L912.55 702.94L914.27 720.5L916 727.59L917.73 727.59L919.45 724.34L921.17 700.72L922.9 682.86L924.62 675.18L926.35 658.21L928.08 657.32L929.8 656.73L931.52 661.75L933.25 672.82L934.98 682.42L936.7 690.39L938.42 678.73L940.15 667.95L941.88 659.54L943.6 654.96L945.33 656.44L947.05 658.21L948.77 663.23L950.5 675.18L952.23 687.73L953.95 675.77L955.67 676.96L957.4 665L959.12 683.6L960.85 680.06" stroke="#0000ff"/><path d="M795.25 729.51L796.98 728.62L798.7 728.92L800.42 728.62L802.15 710.47L803.88 705.74L805.6 712.24L807.33 723.16L809.05 726.56L810.77 728.33L812.5 728.62L814.23 728.62L815.95 727.74L817.67 727.74L819.4 728.33L821.12 728.33L822.85 728.33L824.58 728.33L826.3 728.33L828.02 728.33L829.75 726.56L831.48 725.23L833.2 722.28L834.92 709.73L836.65 703.82L838.38 700.72L840.1 698.95L841.83 700.28L843.55 694.37L845.27 689.95L847 699.39L848.73 715.78L850.45 724.79L852.17 724.05L853.9 722.87L855.62 721.39L857.35 721.39L859.08 719.32L860.8 709.88L862.52 715.19L864.25 708.69L865.98 708.69L867.7 707.22L869.42 723.6L871.15 726.56L872.88 699.39L874.6 692.16L876.33 693.05L878.05 681.97L879.77 684.93L881.5 673.71L883.23 676.36L884.95 690.24L886.67 687.44L888.4 699.25L890.12 712.38L891.85 719.91L893.58 723.46L895.3 726.56L897.02 723.46L898.75 719.91L900.48 713.71L902.2 713.71L903.92 719.91L905.65 723.46L907.38 724.05L909.1 725.82L910.83 727L912.55 727.59L914.27 727.59L916 727.59L917.73 727.89L919.45 728.62L921.17 723.31L922.9 708.1L924.62 700.28L926.35 674.59L928.08 670.75L929.8 667.06L931.52 675.18L933.25 700.72L934.98 713.71L936.7 717.55L938.42 719.91L940.15 706.92L941.88 694.82L943.6 688.91L945.33 688.91L947.05 691.87L948.77 698.21L950.5 706.63L952.23 704.86L953.95 693.05L955.67 694.82L957.4 697.47L959.12 699.69L960.85 706.63" stroke="#ff0000"/><path d="M795.25 729.51L796.98 728.92L798.7 729.51L800.42 728.62L802.15 715.19L803.88 698.21L805.6 708.1L807.33 726.11L809.05 726.11L810.77 727.74L812.5 728.62L814.23 728.62L815.95 728.62L817.67 728.62L819.4 728.62L821.12 728.33L822.85 728.62L824.58 728.62L826.3 728.62L828.02 728.62L829.75 728.62L831.48 725.08L833.2 721.24L834.92 718.88L836.65 710.76L838.38 705.45L840.1 709.88L841.83 701.46L843.55 699.69L845.27 683.01L847 697.33L848.73 712.24L850.45 714.75L852.17 724.79L853.9 726.56L855.62 727.74L857.35 727.74L859.08 727.74L860.8 726.56L862.52 728.33L864.25 728.62L865.98 728.62L867.7 728.62L869.42 728.62L871.15 715.04L872.88 716.37L874.6 715.93L876.33 710.02L878.05 695.7L879.77 693.64L881.5 690.68L883.23 692.46L884.95 687.73L886.67 690.68L888.4 697.92L890.12 713.42L891.85 718.88L893.58 724.93L895.3 726.7L897.02 727.74L898.75 720.8L900.48 724.93L902.2 719.91L903.92 724.49L905.65 728.33L907.38 728.62L909.1 728.62L910.83 728.62L912.55 728.62L914.27 728.62L916 728.62L917.73 728.62L919.45 728.62L921.17 720.06L922.9 692.46L924.62 680.65L926.35 689.65L928.08 683.75L929.8 682.71L931.52 708.69L933.25 718.88L934.98 716.67L936.7 716.67L938.42 717.26L940.15 713.12L941.88 716.67L943.6 710.61L945.33 705.45L947.05 723.9L948.77 716.37L950.5 718.14L952.23 714.16L953.95 698.8L955.67 713.12L957.4 715.93L959.12 713.12L960.85 714.6" stroke="#ff0000"/><path d="M795.25 705.74L796.98 714.6L798.7 711.94L800.42 692.01L802.15 668.39L803.88 672.08L805.6 689.95L807.33 704.71L809.05 709.43L810.77 708.1L812.5 716.67L814.23 715.49L815.95 695.7L817.67 691.57L819.4 675.48L821.12 674.15L822.85 650.09L824.58 655.84L826.3 668.69L828.02 677.69L829.75 684.34L831.48 684.93L833.2 673.71L834.92 671.64L836.65 680.94L838.38 680.35L840.1 681.38L841.83 670.16L843.55 666.62L845.27 666.62L847 667.51L848.73 680.06L850.45 694.37L852.17 697.92L853.9 683.6L855.62 674.3L857.35 673.26L859.08 654.96L860.8 648.32L862.52 647.13L864.25 648.32L865.98 646.54L867.7 650.09L869.42 660.72L871.15 654.07L872.88 666.03L874.6 657.03L876.33 657.03L878.05 659.39L879.77 659.39L881.5 655.84L883.23 658.5L884.95 661.16L886.67 662.93L888.4 673.71L890.12 681.83L891.85 697.47L893.58 692.46L895.3 680.06L897.02 673.26L898.75 667.51L900.48 659.98L902.2 652.74L903.92 656.29L905.65 659.39L907.38 669.57L909.1 679.17L910.83 697.03L912.55 714.01L914.27 718.44L916 715.78L917.73 708.25L919.45 693.19L921.17 683.01L922.9 684.78L924.62 661.16L926.35 654.52L928.08 650.97L929.8 652.15L931.52 662.93L933.25 683.01L934.98 677.99L936.7 674L938.42 663.37L940.15 662.19L941.88 653.19L943.6 645.66L945.33 643.89L947.05 645.95L948.77 652.89L950.5 659.98L952.23 674.3L953.95 677.99L955.67 681.24L957.4 681.68L959.12 672.38L960.85 675.63" stroke="#0000ff"/><path d="M795.25 728.62L796.98 728.62L798.7 728.62L800.42 728.62L802.15 728.62L803.88 728.62L805.6 728.62L807.33 728.62L809.05 728.33L810.77 727.74L812.5 725.38L814.23 720.5L815.95 718.29L817.67 715.78L819.4 713.86L821.12 684.34L822.85 654.22L824.58 649.5L826.3 674.59L828.02 703.97L829.75 719.32L831.48 716.37L833.2 715.34L834.92 725.08L836.65 722.57L838.38 725.23L840.1 727.89L841.83 689.5L843.55 688.47L845.27 685.96L847 686.55L848.73 694.97L850.45 692.6L852.17 692.16L853.9 694.37L855.62 695.41L857.35 694.82L859.08 688.47L860.8 687.14L862.52 669.87L864.25 673.41L865.98 672.53L867.7 682.42L869.42 709.28L871.15 725.82L872.88 725.82L874.6 723.6L876.33 725.23L878.05 706.63L879.77 688.47L881.5 679.76L883.23 685.37L884.95 687.14L886.67 687.14L888.4 698.36L890.12 677.1L891.85 688.47L893.58 690.98L919.45 699.39L921.17 720.65L922.9 706.33L924.62 703.53L928.08 703.53L929.8 709.14L931.52 718.14L933.25 723.01L934.98 721.39L936.7 710.17L938.42 708.69L940.15 707.81L941.88 699.25L943.6 702.79L945.33 697.47L947.05 689.21L948.77 673.12L950.5 659.39L952.23 681.38L953.95 704.71L955.67 718.14L957.4 716.37L959.12 678.43L960.85 668.69" stroke="#0000ff"/><path d="M795.25 724.34L796.98 724.34L798.7 724.34L800.42 724.34L802.15 724.34L803.88 724.34L805.6 724.34L807.33 724.05L809.05 723.46L810.77 721.69L812.5 714.6L814.23 713.27L815.95 702.94L817.67 695.41L819.4 665.29L821.12 652.45L822.85 647.13L824.58 676.36L826.3 709.28L828.02 714.3L829.75 715.19L831.48 706.63L833.2 718.14L834.92 715.19L836.65 722.28L838.38 723.46L840.1 694.37L841.83 690.68L843.55 697.47L845.27 694.37L847 697.92L848.73 701.17L850.45 702.49L852.17 695.7L853.9 688.91L855.62 677.84L857.35 667.06L859.08 659.09L860.8 647.13L862.52 651.12L864.25 651.86L865.98 665.44L867.7 697.47L869.42 700.28L871.15 702.94L872.88 707.96L874.6 708.69L876.33 711.79L878.05 682.27L879.77 689.5L881.5 676.96L883.23 681.83L884.95 676.07L886.67 679.91L888.4 685.81L890.12 694.82L891.85 707.96L893.58 701.46L895.3 696.59L897.02 683.6L898.75 669.87L900.48 651.86L902.2 642.12L903.92 651.86L905.65 666.18L907.38 675.18L909.1 688.62L910.83 709.73L912.55 707.96L914.27 713.71L916 709.28L917.73 707.96L919.45 703.23L921.17 702.49L922.9 703.82L924.62 703.23L926.35 705L928.08 704.27L929.8 715.49L931.52 715.04L933.25 713.71L934.98 701.17L936.7 703.23L938.42 694.37L940.15 674.3L941.88 677.1L943.6 665.14L945.33 677.1L947.05 698.66L948.77 690.09L950.5 698.66L952.23 691.27L953.95 707.96L955.67 682.27L957.4 691.27L959.12 694.82L960.85 690.09" stroke="#0000ff"/></g><path d="M795 612H961.9M795 730.1H961.9" stroke="#000" stroke-width="1.8" fill="none"/><path d="M795.6 612V730.1M961.3 612V730.1" stroke="#000" stroke-width="1.3" fill="none"/><path d="M836.65 612v6M836.65 730.1v-6M878.05 612v6M878.05 730.1v-6M919.45 612v6M919.45 730.1v-6M815.95 612v4M815.95 730.1v-4M857.35 612v4M857.35 730.1v-4M898.75 612v4M898.75 730.1v-4M940.15 612v4M940.15 730.1v-4M795.6 700.58h6M961.3 700.58h-6M795.6 671.05h6M961.3 671.05h-6M795.6 641.53h6M961.3 641.53h-6M795.6 715.34h4M961.3 715.34h-4M795.6 685.81h4M961.3 685.81h-4M795.6 656.29h4M961.3 656.29h-4M795.6 626.76h4M961.3 626.76h-4" stroke="#000" stroke-width="1.1" fill="none"/><path d="M836.65 612V729.1M878.05 612V729.1M919.45 612V729.1M796.6 612H960.3M796.6 700.58H960.3M796.6 671.05H960.3M796.6 641.53H960.3" stroke="#000" stroke-width="1" stroke-dasharray="1.3 1.8" fill="none"/><g class="t" fill="#000"><text x="795.25" y="740.8" text-anchor="middle">&#8722;72</text><text x="836.65" y="740.8" text-anchor="middle">&#8722;48</text><text x="878.05" y="740.8" text-anchor="middle">&#8722;24</text><text x="919.45" y="740.8" text-anchor="middle">0</text><text x="960.85" y="740.8" text-anchor="middle">24</text><text x="791.1" y="733.4" text-anchor="end">0</text><text x="791.1" y="703.88" text-anchor="end">20</text><text x="791.1" y="674.35" text-anchor="end">40</text><text x="791.1" y="644.83" text-anchor="end">60</text><text x="791.1" y="615.3" text-anchor="end">80</text></g><text class="n" x="878.45" y="754.8" text-anchor="middle" fill="#000" clip-path="url(#l44)">ALL</text>
</svg></body></html>
